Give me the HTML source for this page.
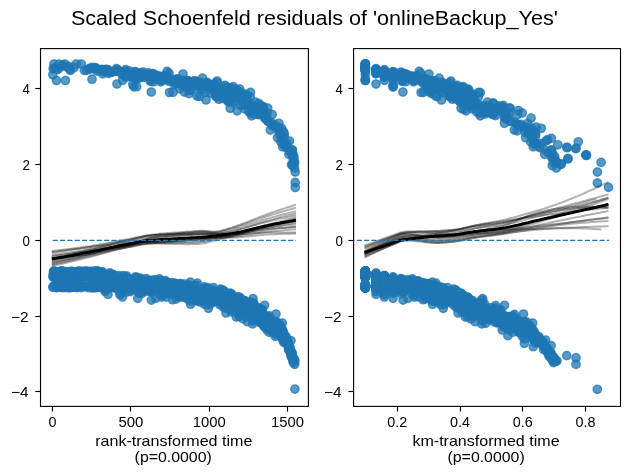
<!DOCTYPE html>
<html><head><meta charset="utf-8"><style>
html,body{margin:0;padding:0;background:#fff;overflow:hidden;}
svg{display:block;font-family:"Liberation Sans",sans-serif;will-change:transform;}
</style></head><body>
<svg width="630" height="475" viewBox="0 0 630 475">
<rect width="630" height="475" fill="#fff"/>
<defs><clipPath id="cl"><rect x="40.50" y="48.60" width="267.90" height="357.80"/></clipPath><clipPath id="cr"><rect x="353.60" y="48.60" width="266.90" height="357.80"/></clipPath></defs>
<g clip-path="url(#cl)">
<g fill="#1f77b4" fill-opacity="0.75" stroke="#1f77b4" stroke-opacity="0.75" stroke-width="1.39"><circle cx="52.8" cy="287.2" r="4.17"/><circle cx="52.9" cy="276.7" r="4.17"/><circle cx="53.1" cy="68.8" r="4.17"/><circle cx="53.2" cy="274.6" r="4.17"/><circle cx="53.4" cy="286.7" r="4.17"/><circle cx="53.5" cy="272.0" r="4.17"/><circle cx="53.7" cy="271.2" r="4.17"/><circle cx="53.9" cy="277.0" r="4.17"/><circle cx="54.0" cy="274.2" r="4.17"/><circle cx="54.2" cy="272.3" r="4.17"/><circle cx="54.3" cy="273.4" r="4.17"/><circle cx="54.5" cy="67.9" r="4.17"/><circle cx="54.6" cy="276.5" r="4.17"/><circle cx="54.8" cy="284.8" r="4.17"/><circle cx="54.9" cy="276.7" r="4.17"/><circle cx="55.1" cy="271.4" r="4.17"/><circle cx="55.3" cy="272.0" r="4.17"/><circle cx="55.4" cy="277.4" r="4.17"/><circle cx="55.6" cy="275.1" r="4.17"/><circle cx="55.7" cy="273.9" r="4.17"/><circle cx="55.9" cy="271.6" r="4.17"/><circle cx="56.0" cy="275.4" r="4.17"/><circle cx="56.2" cy="286.8" r="4.17"/><circle cx="56.4" cy="287.8" r="4.17"/><circle cx="56.5" cy="271.9" r="4.17"/><circle cx="56.7" cy="286.4" r="4.17"/><circle cx="56.8" cy="286.7" r="4.17"/><circle cx="57.0" cy="273.7" r="4.17"/><circle cx="57.1" cy="276.7" r="4.17"/><circle cx="57.3" cy="273.1" r="4.17"/><circle cx="57.5" cy="273.4" r="4.17"/><circle cx="57.6" cy="69.3" r="4.17"/><circle cx="57.8" cy="275.4" r="4.17"/><circle cx="57.9" cy="276.0" r="4.17"/><circle cx="58.1" cy="277.1" r="4.17"/><circle cx="58.2" cy="68.9" r="4.17"/><circle cx="58.4" cy="286.3" r="4.17"/><circle cx="58.6" cy="272.3" r="4.17"/><circle cx="58.7" cy="273.2" r="4.17"/><circle cx="58.9" cy="273.2" r="4.17"/><circle cx="59.0" cy="286.1" r="4.17"/><circle cx="59.2" cy="274.4" r="4.17"/><circle cx="59.3" cy="286.5" r="4.17"/><circle cx="59.5" cy="285.9" r="4.17"/><circle cx="59.6" cy="273.8" r="4.17"/><circle cx="59.8" cy="285.4" r="4.17"/><circle cx="60.0" cy="275.7" r="4.17"/><circle cx="60.1" cy="285.7" r="4.17"/><circle cx="60.3" cy="271.3" r="4.17"/><circle cx="60.4" cy="287.4" r="4.17"/><circle cx="60.6" cy="274.1" r="4.17"/><circle cx="60.7" cy="273.0" r="4.17"/><circle cx="60.9" cy="275.1" r="4.17"/><circle cx="61.1" cy="271.4" r="4.17"/><circle cx="61.2" cy="287.4" r="4.17"/><circle cx="61.4" cy="276.9" r="4.17"/><circle cx="61.5" cy="286.3" r="4.17"/><circle cx="61.7" cy="271.2" r="4.17"/><circle cx="61.8" cy="66.1" r="4.17"/><circle cx="62.0" cy="274.8" r="4.17"/><circle cx="62.2" cy="271.1" r="4.17"/><circle cx="62.3" cy="286.4" r="4.17"/><circle cx="62.5" cy="275.0" r="4.17"/><circle cx="62.6" cy="271.3" r="4.17"/><circle cx="62.8" cy="287.5" r="4.17"/><circle cx="62.9" cy="65.2" r="4.17"/><circle cx="63.1" cy="285.6" r="4.17"/><circle cx="63.2" cy="285.0" r="4.17"/><circle cx="63.4" cy="285.2" r="4.17"/><circle cx="63.6" cy="275.0" r="4.17"/><circle cx="63.7" cy="275.1" r="4.17"/><circle cx="63.9" cy="285.6" r="4.17"/><circle cx="64.0" cy="287.6" r="4.17"/><circle cx="64.2" cy="275.2" r="4.17"/><circle cx="64.3" cy="277.1" r="4.17"/><circle cx="64.5" cy="274.0" r="4.17"/><circle cx="64.7" cy="273.5" r="4.17"/><circle cx="64.8" cy="276.4" r="4.17"/><circle cx="65.0" cy="274.5" r="4.17"/><circle cx="65.1" cy="273.1" r="4.17"/><circle cx="65.3" cy="275.9" r="4.17"/><circle cx="65.4" cy="271.5" r="4.17"/><circle cx="65.6" cy="271.9" r="4.17"/><circle cx="65.8" cy="276.9" r="4.17"/><circle cx="65.9" cy="276.4" r="4.17"/><circle cx="66.1" cy="273.8" r="4.17"/><circle cx="66.2" cy="275.6" r="4.17"/><circle cx="66.4" cy="287.2" r="4.17"/><circle cx="66.5" cy="273.4" r="4.17"/><circle cx="66.7" cy="66.8" r="4.17"/><circle cx="66.9" cy="272.2" r="4.17"/><circle cx="67.0" cy="275.7" r="4.17"/><circle cx="67.2" cy="287.5" r="4.17"/><circle cx="67.3" cy="275.2" r="4.17"/><circle cx="67.5" cy="287.2" r="4.17"/><circle cx="67.6" cy="273.5" r="4.17"/><circle cx="67.8" cy="276.5" r="4.17"/><circle cx="67.9" cy="274.6" r="4.17"/><circle cx="68.1" cy="276.4" r="4.17"/><circle cx="68.3" cy="271.9" r="4.17"/><circle cx="68.4" cy="285.0" r="4.17"/><circle cx="68.6" cy="287.7" r="4.17"/><circle cx="68.7" cy="277.4" r="4.17"/><circle cx="68.9" cy="274.7" r="4.17"/><circle cx="69.0" cy="285.2" r="4.17"/><circle cx="69.2" cy="276.0" r="4.17"/><circle cx="69.4" cy="66.7" r="4.17"/><circle cx="69.5" cy="274.0" r="4.17"/><circle cx="69.7" cy="69.5" r="4.17"/><circle cx="69.8" cy="274.3" r="4.17"/><circle cx="70.0" cy="276.6" r="4.17"/><circle cx="70.1" cy="275.4" r="4.17"/><circle cx="70.3" cy="272.8" r="4.17"/><circle cx="70.5" cy="274.5" r="4.17"/><circle cx="70.6" cy="287.6" r="4.17"/><circle cx="70.8" cy="271.7" r="4.17"/><circle cx="70.9" cy="285.3" r="4.17"/><circle cx="71.1" cy="274.3" r="4.17"/><circle cx="71.2" cy="284.6" r="4.17"/><circle cx="71.4" cy="271.4" r="4.17"/><circle cx="71.5" cy="276.7" r="4.17"/><circle cx="71.7" cy="287.2" r="4.17"/><circle cx="71.9" cy="286.9" r="4.17"/><circle cx="72.0" cy="272.1" r="4.17"/><circle cx="72.2" cy="277.0" r="4.17"/><circle cx="72.3" cy="277.1" r="4.17"/><circle cx="72.5" cy="271.6" r="4.17"/><circle cx="72.6" cy="276.2" r="4.17"/><circle cx="72.8" cy="287.0" r="4.17"/><circle cx="73.0" cy="286.0" r="4.17"/><circle cx="73.1" cy="276.4" r="4.17"/><circle cx="73.3" cy="272.4" r="4.17"/><circle cx="73.4" cy="284.7" r="4.17"/><circle cx="73.6" cy="277.2" r="4.17"/><circle cx="73.7" cy="275.7" r="4.17"/><circle cx="73.9" cy="284.8" r="4.17"/><circle cx="74.1" cy="277.1" r="4.17"/><circle cx="74.2" cy="67.6" r="4.17"/><circle cx="74.4" cy="285.2" r="4.17"/><circle cx="74.5" cy="287.0" r="4.17"/><circle cx="74.7" cy="286.1" r="4.17"/><circle cx="74.8" cy="286.9" r="4.17"/><circle cx="75.0" cy="274.6" r="4.17"/><circle cx="75.2" cy="285.8" r="4.17"/><circle cx="75.3" cy="286.3" r="4.17"/><circle cx="75.5" cy="285.8" r="4.17"/><circle cx="75.6" cy="286.1" r="4.17"/><circle cx="75.8" cy="273.5" r="4.17"/><circle cx="75.9" cy="274.6" r="4.17"/><circle cx="76.1" cy="274.8" r="4.17"/><circle cx="76.2" cy="272.9" r="4.17"/><circle cx="76.4" cy="277.5" r="4.17"/><circle cx="76.6" cy="273.4" r="4.17"/><circle cx="76.7" cy="287.6" r="4.17"/><circle cx="76.9" cy="276.7" r="4.17"/><circle cx="77.0" cy="271.5" r="4.17"/><circle cx="77.2" cy="274.2" r="4.17"/><circle cx="77.3" cy="276.4" r="4.17"/><circle cx="77.5" cy="276.0" r="4.17"/><circle cx="77.7" cy="274.5" r="4.17"/><circle cx="77.8" cy="275.6" r="4.17"/><circle cx="78.0" cy="275.8" r="4.17"/><circle cx="78.1" cy="271.4" r="4.17"/><circle cx="78.3" cy="275.2" r="4.17"/><circle cx="78.4" cy="272.7" r="4.17"/><circle cx="78.6" cy="275.1" r="4.17"/><circle cx="78.8" cy="285.5" r="4.17"/><circle cx="78.9" cy="271.4" r="4.17"/><circle cx="79.1" cy="287.0" r="4.17"/><circle cx="79.2" cy="273.1" r="4.17"/><circle cx="79.4" cy="277.0" r="4.17"/><circle cx="79.5" cy="276.0" r="4.17"/><circle cx="79.7" cy="272.7" r="4.17"/><circle cx="79.8" cy="271.9" r="4.17"/><circle cx="80.0" cy="271.9" r="4.17"/><circle cx="80.2" cy="272.8" r="4.17"/><circle cx="80.3" cy="272.2" r="4.17"/><circle cx="80.5" cy="271.1" r="4.17"/><circle cx="80.6" cy="272.8" r="4.17"/><circle cx="80.8" cy="275.0" r="4.17"/><circle cx="80.9" cy="276.3" r="4.17"/><circle cx="81.1" cy="287.6" r="4.17"/><circle cx="81.3" cy="275.3" r="4.17"/><circle cx="81.4" cy="285.2" r="4.17"/><circle cx="81.6" cy="284.9" r="4.17"/><circle cx="81.7" cy="276.4" r="4.17"/><circle cx="81.9" cy="286.6" r="4.17"/><circle cx="82.0" cy="274.7" r="4.17"/><circle cx="82.2" cy="273.2" r="4.17"/><circle cx="82.4" cy="275.7" r="4.17"/><circle cx="82.5" cy="276.5" r="4.17"/><circle cx="82.7" cy="271.5" r="4.17"/><circle cx="82.8" cy="273.0" r="4.17"/><circle cx="83.0" cy="285.5" r="4.17"/><circle cx="83.1" cy="276.5" r="4.17"/><circle cx="83.3" cy="276.1" r="4.17"/><circle cx="83.5" cy="276.2" r="4.17"/><circle cx="83.6" cy="272.7" r="4.17"/><circle cx="83.8" cy="275.6" r="4.17"/><circle cx="83.9" cy="284.9" r="4.17"/><circle cx="84.1" cy="274.6" r="4.17"/><circle cx="84.2" cy="272.8" r="4.17"/><circle cx="84.4" cy="273.0" r="4.17"/><circle cx="84.5" cy="276.6" r="4.17"/><circle cx="84.7" cy="286.7" r="4.17"/><circle cx="84.9" cy="275.7" r="4.17"/><circle cx="85.0" cy="271.2" r="4.17"/><circle cx="85.2" cy="272.3" r="4.17"/><circle cx="85.3" cy="274.1" r="4.17"/><circle cx="85.5" cy="272.9" r="4.17"/><circle cx="85.6" cy="272.4" r="4.17"/><circle cx="85.8" cy="271.4" r="4.17"/><circle cx="86.0" cy="275.8" r="4.17"/><circle cx="86.1" cy="274.7" r="4.17"/><circle cx="86.3" cy="271.8" r="4.17"/><circle cx="86.4" cy="276.2" r="4.17"/><circle cx="86.6" cy="70.4" r="4.17"/><circle cx="86.7" cy="272.7" r="4.17"/><circle cx="86.9" cy="273.9" r="4.17"/><circle cx="87.1" cy="271.3" r="4.17"/><circle cx="87.2" cy="271.5" r="4.17"/><circle cx="87.4" cy="286.5" r="4.17"/><circle cx="87.5" cy="274.7" r="4.17"/><circle cx="87.7" cy="276.2" r="4.17"/><circle cx="87.8" cy="274.8" r="4.17"/><circle cx="88.0" cy="275.0" r="4.17"/><circle cx="88.1" cy="274.5" r="4.17"/><circle cx="88.3" cy="272.8" r="4.17"/><circle cx="88.5" cy="275.5" r="4.17"/><circle cx="88.6" cy="276.3" r="4.17"/><circle cx="88.8" cy="272.6" r="4.17"/><circle cx="88.9" cy="287.7" r="4.17"/><circle cx="89.1" cy="68.7" r="4.17"/><circle cx="89.2" cy="272.1" r="4.17"/><circle cx="89.4" cy="275.8" r="4.17"/><circle cx="89.6" cy="273.3" r="4.17"/><circle cx="89.7" cy="284.9" r="4.17"/><circle cx="89.9" cy="276.1" r="4.17"/><circle cx="90.0" cy="68.7" r="4.17"/><circle cx="90.2" cy="272.1" r="4.17"/><circle cx="90.3" cy="271.3" r="4.17"/><circle cx="90.5" cy="274.0" r="4.17"/><circle cx="90.7" cy="272.8" r="4.17"/><circle cx="90.8" cy="68.9" r="4.17"/><circle cx="91.0" cy="285.6" r="4.17"/><circle cx="91.1" cy="271.9" r="4.17"/><circle cx="91.3" cy="277.1" r="4.17"/><circle cx="91.4" cy="274.1" r="4.17"/><circle cx="91.6" cy="286.9" r="4.17"/><circle cx="91.8" cy="284.9" r="4.17"/><circle cx="91.9" cy="277.1" r="4.17"/><circle cx="92.1" cy="67.3" r="4.17"/><circle cx="92.2" cy="277.5" r="4.17"/><circle cx="92.4" cy="285.9" r="4.17"/><circle cx="92.5" cy="288.0" r="4.17"/><circle cx="92.7" cy="277.1" r="4.17"/><circle cx="92.8" cy="277.1" r="4.17"/><circle cx="93.0" cy="275.9" r="4.17"/><circle cx="93.2" cy="273.5" r="4.17"/><circle cx="93.3" cy="271.4" r="4.17"/><circle cx="93.5" cy="275.4" r="4.17"/><circle cx="93.6" cy="272.5" r="4.17"/><circle cx="93.8" cy="275.9" r="4.17"/><circle cx="93.9" cy="275.1" r="4.17"/><circle cx="94.1" cy="275.5" r="4.17"/><circle cx="94.3" cy="275.1" r="4.17"/><circle cx="94.4" cy="67.9" r="4.17"/><circle cx="94.6" cy="274.8" r="4.17"/><circle cx="94.7" cy="271.5" r="4.17"/><circle cx="94.9" cy="272.6" r="4.17"/><circle cx="95.0" cy="285.5" r="4.17"/><circle cx="95.2" cy="287.8" r="4.17"/><circle cx="95.4" cy="68.4" r="4.17"/><circle cx="95.5" cy="67.7" r="4.17"/><circle cx="95.7" cy="271.2" r="4.17"/><circle cx="95.8" cy="272.3" r="4.17"/><circle cx="96.0" cy="272.6" r="4.17"/><circle cx="96.1" cy="286.7" r="4.17"/><circle cx="96.3" cy="271.2" r="4.17"/><circle cx="96.4" cy="271.8" r="4.17"/><circle cx="96.6" cy="272.0" r="4.17"/><circle cx="96.8" cy="273.2" r="4.17"/><circle cx="96.9" cy="71.1" r="4.17"/><circle cx="97.1" cy="287.4" r="4.17"/><circle cx="97.2" cy="271.1" r="4.17"/><circle cx="97.4" cy="271.8" r="4.17"/><circle cx="97.5" cy="287.3" r="4.17"/><circle cx="97.7" cy="271.2" r="4.17"/><circle cx="97.9" cy="285.4" r="4.17"/><circle cx="98.0" cy="273.0" r="4.17"/><circle cx="98.2" cy="273.9" r="4.17"/><circle cx="98.3" cy="274.3" r="4.17"/><circle cx="98.5" cy="285.6" r="4.17"/><circle cx="98.6" cy="286.3" r="4.17"/><circle cx="98.8" cy="277.4" r="4.17"/><circle cx="99.0" cy="274.3" r="4.17"/><circle cx="99.1" cy="277.2" r="4.17"/><circle cx="99.3" cy="272.0" r="4.17"/><circle cx="99.4" cy="286.7" r="4.17"/><circle cx="99.6" cy="272.4" r="4.17"/><circle cx="99.7" cy="275.5" r="4.17"/><circle cx="99.9" cy="277.3" r="4.17"/><circle cx="100.0" cy="273.8" r="4.17"/><circle cx="100.2" cy="272.6" r="4.17"/><circle cx="100.4" cy="70.1" r="4.17"/><circle cx="100.5" cy="272.1" r="4.17"/><circle cx="100.7" cy="286.2" r="4.17"/><circle cx="100.8" cy="285.5" r="4.17"/><circle cx="101.0" cy="275.7" r="4.17"/><circle cx="101.1" cy="277.0" r="4.17"/><circle cx="101.3" cy="69.4" r="4.17"/><circle cx="101.5" cy="272.7" r="4.17"/><circle cx="101.6" cy="275.4" r="4.17"/><circle cx="101.8" cy="287.6" r="4.17"/><circle cx="101.9" cy="277.3" r="4.17"/><circle cx="102.1" cy="287.6" r="4.17"/><circle cx="102.2" cy="272.3" r="4.17"/><circle cx="102.4" cy="271.8" r="4.17"/><circle cx="102.6" cy="287.7" r="4.17"/><circle cx="102.7" cy="73.9" r="4.17"/><circle cx="102.9" cy="69.8" r="4.17"/><circle cx="103.0" cy="277.5" r="4.17"/><circle cx="103.2" cy="287.5" r="4.17"/><circle cx="103.3" cy="281.1" r="4.17"/><circle cx="103.5" cy="71.9" r="4.17"/><circle cx="103.7" cy="275.2" r="4.17"/><circle cx="103.8" cy="275.7" r="4.17"/><circle cx="104.0" cy="287.3" r="4.17"/><circle cx="104.1" cy="282.5" r="4.17"/><circle cx="104.3" cy="289.4" r="4.17"/><circle cx="104.4" cy="286.0" r="4.17"/><circle cx="104.6" cy="69.5" r="4.17"/><circle cx="104.7" cy="284.7" r="4.17"/><circle cx="104.9" cy="286.0" r="4.17"/><circle cx="105.1" cy="291.5" r="4.17"/><circle cx="105.2" cy="71.2" r="4.17"/><circle cx="105.4" cy="282.7" r="4.17"/><circle cx="105.5" cy="70.1" r="4.17"/><circle cx="105.7" cy="285.6" r="4.17"/><circle cx="105.8" cy="278.4" r="4.17"/><circle cx="106.0" cy="275.7" r="4.17"/><circle cx="106.2" cy="278.2" r="4.17"/><circle cx="106.3" cy="69.3" r="4.17"/><circle cx="106.5" cy="276.7" r="4.17"/><circle cx="106.6" cy="285.9" r="4.17"/><circle cx="106.8" cy="281.1" r="4.17"/><circle cx="106.9" cy="280.8" r="4.17"/><circle cx="107.1" cy="288.9" r="4.17"/><circle cx="107.3" cy="279.8" r="4.17"/><circle cx="107.4" cy="275.9" r="4.17"/><circle cx="107.6" cy="284.1" r="4.17"/><circle cx="107.7" cy="69.5" r="4.17"/><circle cx="107.9" cy="70.3" r="4.17"/><circle cx="108.0" cy="278.8" r="4.17"/><circle cx="108.2" cy="282.7" r="4.17"/><circle cx="108.3" cy="277.2" r="4.17"/><circle cx="108.5" cy="73.4" r="4.17"/><circle cx="108.7" cy="274.0" r="4.17"/><circle cx="108.8" cy="278.5" r="4.17"/><circle cx="109.0" cy="281.4" r="4.17"/><circle cx="109.1" cy="282.2" r="4.17"/><circle cx="109.3" cy="283.0" r="4.17"/><circle cx="109.4" cy="288.0" r="4.17"/><circle cx="109.6" cy="277.2" r="4.17"/><circle cx="109.8" cy="277.4" r="4.17"/><circle cx="109.9" cy="272.9" r="4.17"/><circle cx="110.1" cy="72.5" r="4.17"/><circle cx="110.2" cy="275.2" r="4.17"/><circle cx="110.4" cy="286.2" r="4.17"/><circle cx="110.5" cy="72.0" r="4.17"/><circle cx="110.7" cy="285.3" r="4.17"/><circle cx="110.9" cy="281.8" r="4.17"/><circle cx="111.0" cy="281.0" r="4.17"/><circle cx="111.2" cy="279.8" r="4.17"/><circle cx="111.3" cy="277.3" r="4.17"/><circle cx="111.5" cy="279.8" r="4.17"/><circle cx="111.6" cy="286.5" r="4.17"/><circle cx="111.8" cy="284.4" r="4.17"/><circle cx="112.0" cy="72.2" r="4.17"/><circle cx="112.1" cy="279.5" r="4.17"/><circle cx="112.3" cy="281.4" r="4.17"/><circle cx="112.4" cy="281.8" r="4.17"/><circle cx="112.6" cy="282.2" r="4.17"/><circle cx="112.7" cy="274.4" r="4.17"/><circle cx="112.9" cy="275.3" r="4.17"/><circle cx="113.0" cy="275.8" r="4.17"/><circle cx="113.2" cy="274.8" r="4.17"/><circle cx="113.4" cy="285.8" r="4.17"/><circle cx="113.5" cy="287.1" r="4.17"/><circle cx="113.7" cy="287.0" r="4.17"/><circle cx="113.8" cy="277.2" r="4.17"/><circle cx="114.0" cy="285.3" r="4.17"/><circle cx="114.1" cy="284.5" r="4.17"/><circle cx="114.3" cy="280.5" r="4.17"/><circle cx="114.5" cy="281.5" r="4.17"/><circle cx="114.6" cy="281.1" r="4.17"/><circle cx="114.8" cy="276.3" r="4.17"/><circle cx="114.9" cy="276.6" r="4.17"/><circle cx="115.1" cy="287.6" r="4.17"/><circle cx="115.2" cy="288.2" r="4.17"/><circle cx="115.4" cy="279.1" r="4.17"/><circle cx="115.6" cy="279.1" r="4.17"/><circle cx="115.7" cy="277.8" r="4.17"/><circle cx="115.9" cy="282.6" r="4.17"/><circle cx="116.0" cy="71.4" r="4.17"/><circle cx="116.2" cy="281.8" r="4.17"/><circle cx="116.3" cy="69.9" r="4.17"/><circle cx="116.5" cy="68.7" r="4.17"/><circle cx="116.6" cy="280.1" r="4.17"/><circle cx="116.8" cy="282.0" r="4.17"/><circle cx="117.0" cy="278.2" r="4.17"/><circle cx="117.1" cy="282.3" r="4.17"/><circle cx="117.3" cy="279.8" r="4.17"/><circle cx="117.4" cy="277.1" r="4.17"/><circle cx="117.6" cy="280.2" r="4.17"/><circle cx="117.7" cy="279.8" r="4.17"/><circle cx="117.9" cy="287.3" r="4.17"/><circle cx="118.1" cy="280.3" r="4.17"/><circle cx="118.2" cy="70.1" r="4.17"/><circle cx="118.4" cy="275.6" r="4.17"/><circle cx="118.5" cy="277.5" r="4.17"/><circle cx="118.7" cy="287.1" r="4.17"/><circle cx="118.8" cy="71.3" r="4.17"/><circle cx="119.0" cy="284.5" r="4.17"/><circle cx="119.2" cy="285.8" r="4.17"/><circle cx="119.3" cy="286.4" r="4.17"/><circle cx="119.5" cy="280.4" r="4.17"/><circle cx="119.6" cy="282.8" r="4.17"/><circle cx="119.8" cy="293.3" r="4.17"/><circle cx="119.9" cy="279.5" r="4.17"/><circle cx="120.1" cy="294.8" r="4.17"/><circle cx="120.3" cy="285.4" r="4.17"/><circle cx="120.4" cy="280.4" r="4.17"/><circle cx="120.6" cy="281.5" r="4.17"/><circle cx="120.7" cy="280.4" r="4.17"/><circle cx="120.9" cy="286.9" r="4.17"/><circle cx="121.0" cy="280.5" r="4.17"/><circle cx="121.2" cy="288.6" r="4.17"/><circle cx="121.3" cy="72.1" r="4.17"/><circle cx="121.5" cy="72.6" r="4.17"/><circle cx="121.7" cy="74.0" r="4.17"/><circle cx="121.8" cy="285.5" r="4.17"/><circle cx="122.0" cy="289.2" r="4.17"/><circle cx="122.1" cy="282.7" r="4.17"/><circle cx="122.3" cy="280.3" r="4.17"/><circle cx="122.4" cy="281.7" r="4.17"/><circle cx="122.6" cy="80.3" r="4.17"/><circle cx="122.8" cy="275.6" r="4.17"/><circle cx="122.9" cy="281.2" r="4.17"/><circle cx="123.1" cy="279.1" r="4.17"/><circle cx="123.2" cy="287.5" r="4.17"/><circle cx="123.4" cy="285.9" r="4.17"/><circle cx="123.5" cy="74.7" r="4.17"/><circle cx="123.7" cy="74.9" r="4.17"/><circle cx="123.9" cy="283.8" r="4.17"/><circle cx="124.0" cy="288.8" r="4.17"/><circle cx="124.2" cy="278.9" r="4.17"/><circle cx="124.3" cy="278.1" r="4.17"/><circle cx="124.5" cy="280.6" r="4.17"/><circle cx="124.6" cy="282.3" r="4.17"/><circle cx="124.8" cy="278.1" r="4.17"/><circle cx="124.9" cy="289.2" r="4.17"/><circle cx="125.1" cy="288.5" r="4.17"/><circle cx="125.3" cy="71.1" r="4.17"/><circle cx="125.4" cy="77.0" r="4.17"/><circle cx="125.6" cy="69.6" r="4.17"/><circle cx="125.7" cy="283.1" r="4.17"/><circle cx="125.9" cy="288.3" r="4.17"/><circle cx="126.0" cy="278.1" r="4.17"/><circle cx="126.2" cy="275.8" r="4.17"/><circle cx="126.4" cy="282.0" r="4.17"/><circle cx="126.5" cy="292.1" r="4.17"/><circle cx="126.7" cy="276.9" r="4.17"/><circle cx="126.8" cy="278.8" r="4.17"/><circle cx="127.0" cy="281.2" r="4.17"/><circle cx="127.1" cy="287.6" r="4.17"/><circle cx="127.3" cy="285.3" r="4.17"/><circle cx="127.5" cy="278.5" r="4.17"/><circle cx="127.6" cy="76.7" r="4.17"/><circle cx="127.8" cy="283.7" r="4.17"/><circle cx="127.9" cy="286.5" r="4.17"/><circle cx="128.1" cy="284.4" r="4.17"/><circle cx="128.2" cy="287.2" r="4.17"/><circle cx="128.4" cy="75.5" r="4.17"/><circle cx="128.6" cy="287.6" r="4.17"/><circle cx="128.7" cy="287.1" r="4.17"/><circle cx="128.9" cy="280.4" r="4.17"/><circle cx="129.0" cy="70.8" r="4.17"/><circle cx="129.2" cy="279.7" r="4.17"/><circle cx="129.3" cy="284.3" r="4.17"/><circle cx="129.5" cy="281.1" r="4.17"/><circle cx="129.6" cy="286.8" r="4.17"/><circle cx="129.8" cy="289.1" r="4.17"/><circle cx="130.0" cy="284.0" r="4.17"/><circle cx="130.1" cy="285.5" r="4.17"/><circle cx="130.3" cy="282.5" r="4.17"/><circle cx="130.4" cy="291.6" r="4.17"/><circle cx="130.6" cy="287.7" r="4.17"/><circle cx="130.7" cy="285.3" r="4.17"/><circle cx="130.9" cy="286.6" r="4.17"/><circle cx="131.1" cy="285.4" r="4.17"/><circle cx="131.2" cy="74.8" r="4.17"/><circle cx="131.4" cy="287.5" r="4.17"/><circle cx="131.5" cy="281.2" r="4.17"/><circle cx="131.7" cy="279.2" r="4.17"/><circle cx="131.8" cy="74.0" r="4.17"/><circle cx="132.0" cy="284.5" r="4.17"/><circle cx="132.2" cy="290.0" r="4.17"/><circle cx="132.3" cy="284.8" r="4.17"/><circle cx="132.5" cy="77.2" r="4.17"/><circle cx="132.6" cy="288.2" r="4.17"/><circle cx="132.8" cy="84.5" r="4.17"/><circle cx="132.9" cy="286.6" r="4.17"/><circle cx="133.1" cy="287.3" r="4.17"/><circle cx="133.2" cy="288.9" r="4.17"/><circle cx="133.4" cy="283.9" r="4.17"/><circle cx="133.6" cy="281.3" r="4.17"/><circle cx="133.7" cy="76.6" r="4.17"/><circle cx="133.9" cy="86.8" r="4.17"/><circle cx="134.0" cy="279.2" r="4.17"/><circle cx="134.2" cy="288.1" r="4.17"/><circle cx="134.3" cy="279.6" r="4.17"/><circle cx="134.5" cy="75.0" r="4.17"/><circle cx="134.7" cy="76.6" r="4.17"/><circle cx="134.8" cy="72.0" r="4.17"/><circle cx="135.0" cy="277.6" r="4.17"/><circle cx="135.1" cy="71.5" r="4.17"/><circle cx="135.3" cy="77.6" r="4.17"/><circle cx="135.4" cy="289.1" r="4.17"/><circle cx="135.6" cy="284.2" r="4.17"/><circle cx="135.8" cy="276.9" r="4.17"/><circle cx="135.9" cy="286.9" r="4.17"/><circle cx="136.1" cy="286.1" r="4.17"/><circle cx="136.2" cy="285.7" r="4.17"/><circle cx="136.4" cy="287.5" r="4.17"/><circle cx="136.5" cy="285.8" r="4.17"/><circle cx="136.7" cy="86.7" r="4.17"/><circle cx="136.9" cy="78.6" r="4.17"/><circle cx="137.0" cy="285.3" r="4.17"/><circle cx="137.2" cy="286.3" r="4.17"/><circle cx="137.3" cy="287.1" r="4.17"/><circle cx="137.5" cy="283.7" r="4.17"/><circle cx="137.6" cy="284.1" r="4.17"/><circle cx="137.8" cy="74.2" r="4.17"/><circle cx="137.9" cy="78.8" r="4.17"/><circle cx="138.1" cy="278.2" r="4.17"/><circle cx="138.3" cy="73.8" r="4.17"/><circle cx="138.4" cy="288.6" r="4.17"/><circle cx="138.6" cy="280.2" r="4.17"/><circle cx="138.7" cy="283.7" r="4.17"/><circle cx="138.9" cy="281.4" r="4.17"/><circle cx="139.0" cy="293.4" r="4.17"/><circle cx="139.2" cy="292.6" r="4.17"/><circle cx="139.4" cy="286.4" r="4.17"/><circle cx="139.5" cy="284.1" r="4.17"/><circle cx="139.7" cy="286.5" r="4.17"/><circle cx="139.8" cy="281.1" r="4.17"/><circle cx="140.0" cy="76.4" r="4.17"/><circle cx="140.1" cy="278.2" r="4.17"/><circle cx="140.3" cy="285.1" r="4.17"/><circle cx="140.5" cy="72.7" r="4.17"/><circle cx="140.6" cy="279.8" r="4.17"/><circle cx="140.8" cy="288.7" r="4.17"/><circle cx="140.9" cy="285.3" r="4.17"/><circle cx="141.1" cy="76.1" r="4.17"/><circle cx="141.2" cy="279.0" r="4.17"/><circle cx="141.4" cy="279.4" r="4.17"/><circle cx="141.5" cy="282.0" r="4.17"/><circle cx="141.7" cy="293.6" r="4.17"/><circle cx="141.9" cy="75.3" r="4.17"/><circle cx="142.0" cy="286.9" r="4.17"/><circle cx="142.2" cy="279.8" r="4.17"/><circle cx="142.3" cy="75.2" r="4.17"/><circle cx="142.5" cy="77.4" r="4.17"/><circle cx="142.6" cy="288.5" r="4.17"/><circle cx="142.8" cy="282.7" r="4.17"/><circle cx="143.0" cy="291.2" r="4.17"/><circle cx="143.1" cy="289.0" r="4.17"/><circle cx="143.3" cy="72.1" r="4.17"/><circle cx="143.4" cy="290.4" r="4.17"/><circle cx="143.6" cy="284.8" r="4.17"/><circle cx="143.7" cy="77.1" r="4.17"/><circle cx="143.9" cy="287.4" r="4.17"/><circle cx="144.1" cy="283.8" r="4.17"/><circle cx="144.2" cy="287.7" r="4.17"/><circle cx="144.4" cy="280.9" r="4.17"/><circle cx="144.5" cy="280.5" r="4.17"/><circle cx="144.7" cy="283.8" r="4.17"/><circle cx="144.8" cy="281.6" r="4.17"/><circle cx="145.0" cy="280.6" r="4.17"/><circle cx="145.2" cy="281.4" r="4.17"/><circle cx="145.3" cy="288.0" r="4.17"/><circle cx="145.5" cy="74.5" r="4.17"/><circle cx="145.6" cy="288.7" r="4.17"/><circle cx="145.8" cy="284.1" r="4.17"/><circle cx="145.9" cy="281.8" r="4.17"/><circle cx="146.1" cy="284.3" r="4.17"/><circle cx="146.2" cy="74.6" r="4.17"/><circle cx="146.4" cy="278.6" r="4.17"/><circle cx="146.6" cy="280.7" r="4.17"/><circle cx="146.7" cy="284.0" r="4.17"/><circle cx="146.9" cy="284.7" r="4.17"/><circle cx="147.0" cy="283.7" r="4.17"/><circle cx="147.2" cy="291.4" r="4.17"/><circle cx="147.3" cy="284.2" r="4.17"/><circle cx="147.5" cy="283.2" r="4.17"/><circle cx="147.7" cy="289.7" r="4.17"/><circle cx="147.8" cy="282.7" r="4.17"/><circle cx="148.0" cy="283.6" r="4.17"/><circle cx="148.1" cy="283.3" r="4.17"/><circle cx="148.3" cy="286.6" r="4.17"/><circle cx="148.4" cy="72.8" r="4.17"/><circle cx="148.6" cy="289.4" r="4.17"/><circle cx="148.8" cy="283.8" r="4.17"/><circle cx="148.9" cy="282.4" r="4.17"/><circle cx="149.1" cy="280.8" r="4.17"/><circle cx="149.2" cy="280.7" r="4.17"/><circle cx="149.4" cy="285.6" r="4.17"/><circle cx="149.5" cy="288.7" r="4.17"/><circle cx="149.7" cy="289.7" r="4.17"/><circle cx="149.8" cy="286.8" r="4.17"/><circle cx="150.0" cy="281.1" r="4.17"/><circle cx="150.2" cy="81.0" r="4.17"/><circle cx="150.3" cy="284.6" r="4.17"/><circle cx="150.5" cy="78.2" r="4.17"/><circle cx="150.6" cy="290.3" r="4.17"/><circle cx="150.8" cy="74.4" r="4.17"/><circle cx="150.9" cy="289.7" r="4.17"/><circle cx="151.1" cy="81.3" r="4.17"/><circle cx="151.3" cy="286.4" r="4.17"/><circle cx="151.4" cy="300.1" r="4.17"/><circle cx="151.6" cy="287.1" r="4.17"/><circle cx="151.7" cy="285.6" r="4.17"/><circle cx="151.9" cy="291.7" r="4.17"/><circle cx="152.0" cy="292.4" r="4.17"/><circle cx="152.2" cy="283.5" r="4.17"/><circle cx="152.4" cy="280.1" r="4.17"/><circle cx="152.5" cy="73.7" r="4.17"/><circle cx="152.7" cy="280.9" r="4.17"/><circle cx="152.8" cy="290.9" r="4.17"/><circle cx="153.0" cy="282.3" r="4.17"/><circle cx="153.1" cy="284.0" r="4.17"/><circle cx="153.3" cy="73.8" r="4.17"/><circle cx="153.5" cy="78.1" r="4.17"/><circle cx="153.6" cy="81.7" r="4.17"/><circle cx="153.8" cy="288.4" r="4.17"/><circle cx="153.9" cy="76.9" r="4.17"/><circle cx="154.1" cy="285.9" r="4.17"/><circle cx="154.2" cy="287.7" r="4.17"/><circle cx="154.4" cy="283.8" r="4.17"/><circle cx="154.5" cy="288.4" r="4.17"/><circle cx="154.7" cy="281.3" r="4.17"/><circle cx="154.9" cy="280.0" r="4.17"/><circle cx="155.0" cy="78.1" r="4.17"/><circle cx="155.2" cy="287.8" r="4.17"/><circle cx="155.3" cy="75.0" r="4.17"/><circle cx="155.5" cy="77.8" r="4.17"/><circle cx="155.6" cy="284.4" r="4.17"/><circle cx="155.8" cy="290.2" r="4.17"/><circle cx="156.0" cy="287.7" r="4.17"/><circle cx="156.1" cy="280.2" r="4.17"/><circle cx="156.3" cy="75.3" r="4.17"/><circle cx="156.4" cy="283.3" r="4.17"/><circle cx="156.6" cy="75.9" r="4.17"/><circle cx="156.7" cy="280.8" r="4.17"/><circle cx="156.9" cy="288.1" r="4.17"/><circle cx="157.1" cy="285.2" r="4.17"/><circle cx="157.2" cy="287.4" r="4.17"/><circle cx="157.4" cy="281.5" r="4.17"/><circle cx="157.5" cy="289.2" r="4.17"/><circle cx="157.7" cy="285.3" r="4.17"/><circle cx="157.8" cy="285.3" r="4.17"/><circle cx="158.0" cy="285.3" r="4.17"/><circle cx="158.1" cy="282.2" r="4.17"/><circle cx="158.3" cy="77.9" r="4.17"/><circle cx="158.5" cy="286.8" r="4.17"/><circle cx="158.6" cy="78.7" r="4.17"/><circle cx="158.8" cy="282.6" r="4.17"/><circle cx="158.9" cy="286.2" r="4.17"/><circle cx="159.1" cy="280.5" r="4.17"/><circle cx="159.2" cy="281.2" r="4.17"/><circle cx="159.4" cy="76.1" r="4.17"/><circle cx="159.6" cy="278.9" r="4.17"/><circle cx="159.7" cy="286.3" r="4.17"/><circle cx="159.9" cy="289.0" r="4.17"/><circle cx="160.0" cy="280.8" r="4.17"/><circle cx="160.2" cy="282.1" r="4.17"/><circle cx="160.3" cy="295.4" r="4.17"/><circle cx="160.5" cy="290.5" r="4.17"/><circle cx="160.7" cy="81.9" r="4.17"/><circle cx="160.8" cy="280.6" r="4.17"/><circle cx="161.0" cy="289.5" r="4.17"/><circle cx="161.1" cy="288.4" r="4.17"/><circle cx="161.3" cy="80.4" r="4.17"/><circle cx="161.4" cy="282.1" r="4.17"/><circle cx="161.6" cy="297.1" r="4.17"/><circle cx="161.8" cy="80.5" r="4.17"/><circle cx="161.9" cy="77.8" r="4.17"/><circle cx="162.1" cy="285.0" r="4.17"/><circle cx="162.2" cy="79.6" r="4.17"/><circle cx="162.4" cy="292.7" r="4.17"/><circle cx="162.5" cy="76.9" r="4.17"/><circle cx="162.7" cy="290.0" r="4.17"/><circle cx="162.8" cy="293.0" r="4.17"/><circle cx="163.0" cy="284.3" r="4.17"/><circle cx="163.2" cy="288.7" r="4.17"/><circle cx="163.3" cy="287.0" r="4.17"/><circle cx="163.5" cy="283.7" r="4.17"/><circle cx="163.6" cy="285.5" r="4.17"/><circle cx="163.8" cy="282.6" r="4.17"/><circle cx="163.9" cy="294.4" r="4.17"/><circle cx="164.1" cy="286.6" r="4.17"/><circle cx="164.3" cy="76.6" r="4.17"/><circle cx="164.4" cy="292.4" r="4.17"/><circle cx="164.6" cy="283.3" r="4.17"/><circle cx="164.7" cy="283.7" r="4.17"/><circle cx="164.9" cy="280.8" r="4.17"/><circle cx="165.0" cy="75.3" r="4.17"/><circle cx="165.2" cy="79.7" r="4.17"/><circle cx="165.4" cy="288.5" r="4.17"/><circle cx="165.5" cy="292.4" r="4.17"/><circle cx="165.7" cy="291.8" r="4.17"/><circle cx="165.8" cy="286.1" r="4.17"/><circle cx="166.0" cy="288.3" r="4.17"/><circle cx="166.1" cy="281.2" r="4.17"/><circle cx="166.3" cy="297.0" r="4.17"/><circle cx="166.4" cy="292.6" r="4.17"/><circle cx="166.6" cy="290.9" r="4.17"/><circle cx="166.8" cy="286.0" r="4.17"/><circle cx="166.9" cy="293.1" r="4.17"/><circle cx="167.1" cy="78.1" r="4.17"/><circle cx="167.2" cy="289.9" r="4.17"/><circle cx="167.4" cy="282.7" r="4.17"/><circle cx="167.5" cy="283.2" r="4.17"/><circle cx="167.7" cy="76.3" r="4.17"/><circle cx="167.9" cy="288.0" r="4.17"/><circle cx="168.0" cy="292.7" r="4.17"/><circle cx="168.2" cy="284.3" r="4.17"/><circle cx="168.3" cy="285.3" r="4.17"/><circle cx="168.5" cy="289.0" r="4.17"/><circle cx="168.6" cy="288.8" r="4.17"/><circle cx="168.8" cy="287.6" r="4.17"/><circle cx="169.0" cy="73.2" r="4.17"/><circle cx="169.1" cy="81.2" r="4.17"/><circle cx="169.3" cy="293.1" r="4.17"/><circle cx="169.4" cy="79.8" r="4.17"/><circle cx="169.6" cy="286.2" r="4.17"/><circle cx="169.7" cy="78.8" r="4.17"/><circle cx="169.9" cy="284.7" r="4.17"/><circle cx="170.0" cy="290.1" r="4.17"/><circle cx="170.2" cy="288.5" r="4.17"/><circle cx="170.4" cy="287.9" r="4.17"/><circle cx="170.5" cy="291.9" r="4.17"/><circle cx="170.7" cy="292.0" r="4.17"/><circle cx="170.8" cy="288.8" r="4.17"/><circle cx="171.0" cy="285.6" r="4.17"/><circle cx="171.1" cy="287.1" r="4.17"/><circle cx="171.3" cy="287.6" r="4.17"/><circle cx="171.5" cy="282.7" r="4.17"/><circle cx="171.6" cy="287.3" r="4.17"/><circle cx="171.8" cy="79.3" r="4.17"/><circle cx="171.9" cy="285.1" r="4.17"/><circle cx="172.1" cy="290.5" r="4.17"/><circle cx="172.2" cy="291.0" r="4.17"/><circle cx="172.4" cy="287.1" r="4.17"/><circle cx="172.6" cy="299.7" r="4.17"/><circle cx="172.7" cy="81.5" r="4.17"/><circle cx="172.9" cy="285.2" r="4.17"/><circle cx="173.0" cy="92.4" r="4.17"/><circle cx="173.2" cy="290.4" r="4.17"/><circle cx="173.3" cy="293.6" r="4.17"/><circle cx="173.5" cy="287.5" r="4.17"/><circle cx="173.7" cy="285.9" r="4.17"/><circle cx="173.8" cy="288.9" r="4.17"/><circle cx="174.0" cy="84.3" r="4.17"/><circle cx="174.1" cy="293.7" r="4.17"/><circle cx="174.3" cy="289.3" r="4.17"/><circle cx="174.4" cy="283.5" r="4.17"/><circle cx="174.6" cy="283.1" r="4.17"/><circle cx="174.7" cy="284.9" r="4.17"/><circle cx="174.9" cy="285.3" r="4.17"/><circle cx="175.1" cy="291.7" r="4.17"/><circle cx="175.2" cy="289.7" r="4.17"/><circle cx="175.4" cy="288.5" r="4.17"/><circle cx="175.5" cy="287.5" r="4.17"/><circle cx="175.7" cy="287.8" r="4.17"/><circle cx="175.8" cy="83.2" r="4.17"/><circle cx="176.0" cy="299.0" r="4.17"/><circle cx="176.2" cy="294.1" r="4.17"/><circle cx="176.3" cy="283.9" r="4.17"/><circle cx="176.5" cy="286.3" r="4.17"/><circle cx="176.6" cy="80.3" r="4.17"/><circle cx="176.8" cy="296.2" r="4.17"/><circle cx="176.9" cy="78.8" r="4.17"/><circle cx="177.1" cy="284.5" r="4.17"/><circle cx="177.3" cy="81.9" r="4.17"/><circle cx="177.4" cy="295.7" r="4.17"/><circle cx="177.6" cy="79.7" r="4.17"/><circle cx="177.7" cy="83.4" r="4.17"/><circle cx="177.9" cy="290.5" r="4.17"/><circle cx="178.0" cy="79.4" r="4.17"/><circle cx="178.2" cy="79.8" r="4.17"/><circle cx="178.3" cy="81.3" r="4.17"/><circle cx="178.5" cy="287.6" r="4.17"/><circle cx="178.7" cy="288.4" r="4.17"/><circle cx="178.8" cy="80.6" r="4.17"/><circle cx="179.0" cy="294.3" r="4.17"/><circle cx="179.1" cy="293.8" r="4.17"/><circle cx="179.3" cy="291.3" r="4.17"/><circle cx="179.4" cy="288.7" r="4.17"/><circle cx="179.6" cy="293.9" r="4.17"/><circle cx="179.8" cy="88.8" r="4.17"/><circle cx="179.9" cy="284.2" r="4.17"/><circle cx="180.1" cy="283.7" r="4.17"/><circle cx="180.2" cy="287.0" r="4.17"/><circle cx="180.4" cy="288.7" r="4.17"/><circle cx="180.5" cy="290.0" r="4.17"/><circle cx="180.7" cy="297.0" r="4.17"/><circle cx="180.9" cy="80.3" r="4.17"/><circle cx="181.0" cy="284.6" r="4.17"/><circle cx="181.2" cy="288.2" r="4.17"/><circle cx="181.3" cy="294.2" r="4.17"/><circle cx="181.5" cy="285.2" r="4.17"/><circle cx="181.6" cy="288.5" r="4.17"/><circle cx="181.8" cy="85.2" r="4.17"/><circle cx="182.0" cy="291.9" r="4.17"/><circle cx="182.1" cy="83.0" r="4.17"/><circle cx="182.3" cy="296.9" r="4.17"/><circle cx="182.4" cy="82.8" r="4.17"/><circle cx="182.6" cy="291.7" r="4.17"/><circle cx="182.7" cy="288.9" r="4.17"/><circle cx="182.9" cy="295.7" r="4.17"/><circle cx="183.0" cy="288.6" r="4.17"/><circle cx="183.2" cy="290.9" r="4.17"/><circle cx="183.4" cy="287.1" r="4.17"/><circle cx="183.5" cy="295.3" r="4.17"/><circle cx="183.7" cy="283.8" r="4.17"/><circle cx="183.8" cy="293.6" r="4.17"/><circle cx="184.0" cy="80.9" r="4.17"/><circle cx="184.1" cy="81.0" r="4.17"/><circle cx="184.3" cy="289.9" r="4.17"/><circle cx="184.5" cy="92.1" r="4.17"/><circle cx="184.6" cy="285.8" r="4.17"/><circle cx="184.8" cy="296.9" r="4.17"/><circle cx="184.9" cy="290.8" r="4.17"/><circle cx="185.1" cy="84.5" r="4.17"/><circle cx="185.2" cy="83.3" r="4.17"/><circle cx="185.4" cy="83.3" r="4.17"/><circle cx="185.6" cy="286.0" r="4.17"/><circle cx="185.7" cy="294.5" r="4.17"/><circle cx="185.9" cy="297.5" r="4.17"/><circle cx="186.0" cy="81.2" r="4.17"/><circle cx="186.2" cy="82.2" r="4.17"/><circle cx="186.3" cy="82.1" r="4.17"/><circle cx="186.5" cy="288.1" r="4.17"/><circle cx="186.6" cy="286.0" r="4.17"/><circle cx="186.8" cy="292.3" r="4.17"/><circle cx="187.0" cy="80.5" r="4.17"/><circle cx="187.1" cy="289.5" r="4.17"/><circle cx="187.3" cy="297.3" r="4.17"/><circle cx="187.4" cy="293.2" r="4.17"/><circle cx="187.6" cy="287.5" r="4.17"/><circle cx="187.7" cy="86.3" r="4.17"/><circle cx="187.9" cy="88.4" r="4.17"/><circle cx="188.1" cy="299.3" r="4.17"/><circle cx="188.2" cy="84.3" r="4.17"/><circle cx="188.4" cy="284.6" r="4.17"/><circle cx="188.5" cy="81.1" r="4.17"/><circle cx="188.7" cy="297.1" r="4.17"/><circle cx="188.8" cy="84.0" r="4.17"/><circle cx="189.0" cy="85.8" r="4.17"/><circle cx="189.2" cy="81.4" r="4.17"/><circle cx="189.3" cy="89.8" r="4.17"/><circle cx="189.5" cy="85.5" r="4.17"/><circle cx="189.6" cy="296.0" r="4.17"/><circle cx="189.8" cy="291.6" r="4.17"/><circle cx="189.9" cy="297.3" r="4.17"/><circle cx="190.1" cy="90.3" r="4.17"/><circle cx="190.3" cy="282.2" r="4.17"/><circle cx="190.4" cy="84.0" r="4.17"/><circle cx="190.6" cy="304.2" r="4.17"/><circle cx="190.7" cy="82.5" r="4.17"/><circle cx="190.9" cy="301.0" r="4.17"/><circle cx="191.0" cy="82.5" r="4.17"/><circle cx="191.2" cy="297.2" r="4.17"/><circle cx="191.3" cy="297.5" r="4.17"/><circle cx="191.5" cy="89.6" r="4.17"/><circle cx="191.7" cy="288.7" r="4.17"/><circle cx="191.8" cy="293.7" r="4.17"/><circle cx="192.0" cy="82.9" r="4.17"/><circle cx="192.1" cy="285.8" r="4.17"/><circle cx="192.3" cy="287.3" r="4.17"/><circle cx="192.4" cy="292.1" r="4.17"/><circle cx="192.6" cy="288.4" r="4.17"/><circle cx="192.8" cy="82.2" r="4.17"/><circle cx="192.9" cy="288.0" r="4.17"/><circle cx="193.1" cy="289.1" r="4.17"/><circle cx="193.2" cy="293.2" r="4.17"/><circle cx="193.4" cy="289.2" r="4.17"/><circle cx="193.5" cy="293.2" r="4.17"/><circle cx="193.7" cy="297.5" r="4.17"/><circle cx="193.9" cy="296.1" r="4.17"/><circle cx="194.0" cy="80.9" r="4.17"/><circle cx="194.2" cy="286.3" r="4.17"/><circle cx="194.3" cy="290.8" r="4.17"/><circle cx="194.5" cy="298.5" r="4.17"/><circle cx="194.6" cy="291.8" r="4.17"/><circle cx="194.8" cy="82.6" r="4.17"/><circle cx="194.9" cy="296.1" r="4.17"/><circle cx="195.1" cy="293.7" r="4.17"/><circle cx="195.3" cy="299.6" r="4.17"/><circle cx="195.4" cy="84.5" r="4.17"/><circle cx="195.6" cy="295.3" r="4.17"/><circle cx="195.7" cy="83.1" r="4.17"/><circle cx="195.9" cy="83.1" r="4.17"/><circle cx="196.0" cy="81.1" r="4.17"/><circle cx="196.2" cy="291.7" r="4.17"/><circle cx="196.4" cy="285.4" r="4.17"/><circle cx="196.5" cy="300.7" r="4.17"/><circle cx="196.7" cy="289.2" r="4.17"/><circle cx="196.8" cy="83.2" r="4.17"/><circle cx="197.0" cy="290.4" r="4.17"/><circle cx="197.1" cy="300.8" r="4.17"/><circle cx="197.3" cy="283.1" r="4.17"/><circle cx="197.5" cy="294.4" r="4.17"/><circle cx="197.6" cy="297.6" r="4.17"/><circle cx="197.8" cy="86.1" r="4.17"/><circle cx="197.9" cy="292.0" r="4.17"/><circle cx="198.1" cy="83.6" r="4.17"/><circle cx="198.2" cy="292.3" r="4.17"/><circle cx="198.4" cy="293.9" r="4.17"/><circle cx="198.6" cy="292.4" r="4.17"/><circle cx="198.7" cy="83.1" r="4.17"/><circle cx="198.9" cy="81.8" r="4.17"/><circle cx="199.0" cy="297.0" r="4.17"/><circle cx="199.2" cy="291.8" r="4.17"/><circle cx="199.3" cy="96.5" r="4.17"/><circle cx="199.5" cy="298.1" r="4.17"/><circle cx="199.6" cy="87.2" r="4.17"/><circle cx="199.8" cy="85.8" r="4.17"/><circle cx="200.0" cy="83.5" r="4.17"/><circle cx="200.1" cy="291.2" r="4.17"/><circle cx="200.3" cy="83.3" r="4.17"/><circle cx="200.4" cy="298.1" r="4.17"/><circle cx="200.6" cy="88.2" r="4.17"/><circle cx="200.7" cy="302.2" r="4.17"/><circle cx="200.9" cy="291.6" r="4.17"/><circle cx="201.1" cy="85.1" r="4.17"/><circle cx="201.2" cy="291.2" r="4.17"/><circle cx="201.4" cy="289.8" r="4.17"/><circle cx="201.5" cy="86.1" r="4.17"/><circle cx="201.7" cy="293.7" r="4.17"/><circle cx="201.8" cy="291.0" r="4.17"/><circle cx="202.0" cy="299.6" r="4.17"/><circle cx="202.2" cy="296.3" r="4.17"/><circle cx="202.3" cy="87.0" r="4.17"/><circle cx="202.5" cy="85.2" r="4.17"/><circle cx="202.6" cy="298.6" r="4.17"/><circle cx="202.8" cy="83.1" r="4.17"/><circle cx="202.9" cy="299.8" r="4.17"/><circle cx="203.1" cy="291.3" r="4.17"/><circle cx="203.2" cy="299.9" r="4.17"/><circle cx="203.4" cy="89.9" r="4.17"/><circle cx="203.6" cy="299.3" r="4.17"/><circle cx="203.7" cy="297.2" r="4.17"/><circle cx="203.9" cy="299.3" r="4.17"/><circle cx="204.0" cy="294.6" r="4.17"/><circle cx="204.2" cy="84.1" r="4.17"/><circle cx="204.3" cy="286.9" r="4.17"/><circle cx="204.5" cy="304.3" r="4.17"/><circle cx="204.7" cy="295.9" r="4.17"/><circle cx="204.8" cy="84.3" r="4.17"/><circle cx="205.0" cy="292.3" r="4.17"/><circle cx="205.1" cy="291.5" r="4.17"/><circle cx="205.3" cy="293.6" r="4.17"/><circle cx="205.4" cy="288.0" r="4.17"/><circle cx="205.6" cy="92.0" r="4.17"/><circle cx="205.8" cy="85.6" r="4.17"/><circle cx="205.9" cy="293.8" r="4.17"/><circle cx="206.1" cy="288.2" r="4.17"/><circle cx="206.2" cy="84.4" r="4.17"/><circle cx="206.4" cy="84.5" r="4.17"/><circle cx="206.5" cy="293.7" r="4.17"/><circle cx="206.7" cy="83.2" r="4.17"/><circle cx="206.9" cy="82.3" r="4.17"/><circle cx="207.0" cy="86.2" r="4.17"/><circle cx="207.2" cy="290.9" r="4.17"/><circle cx="207.3" cy="85.8" r="4.17"/><circle cx="207.5" cy="301.0" r="4.17"/><circle cx="207.6" cy="296.5" r="4.17"/><circle cx="207.8" cy="287.7" r="4.17"/><circle cx="207.9" cy="295.5" r="4.17"/><circle cx="208.1" cy="291.1" r="4.17"/><circle cx="208.3" cy="297.8" r="4.17"/><circle cx="208.4" cy="84.3" r="4.17"/><circle cx="208.6" cy="295.1" r="4.17"/><circle cx="208.7" cy="290.3" r="4.17"/><circle cx="208.9" cy="304.6" r="4.17"/><circle cx="209.0" cy="292.5" r="4.17"/><circle cx="209.2" cy="84.3" r="4.17"/><circle cx="209.4" cy="289.0" r="4.17"/><circle cx="209.5" cy="301.4" r="4.17"/><circle cx="209.7" cy="87.1" r="4.17"/><circle cx="209.8" cy="300.9" r="4.17"/><circle cx="210.0" cy="297.8" r="4.17"/><circle cx="210.1" cy="295.3" r="4.17"/><circle cx="210.3" cy="300.3" r="4.17"/><circle cx="210.5" cy="292.2" r="4.17"/><circle cx="210.6" cy="292.7" r="4.17"/><circle cx="210.8" cy="93.0" r="4.17"/><circle cx="210.9" cy="298.0" r="4.17"/><circle cx="211.1" cy="297.8" r="4.17"/><circle cx="211.2" cy="293.4" r="4.17"/><circle cx="211.4" cy="302.3" r="4.17"/><circle cx="211.5" cy="291.6" r="4.17"/><circle cx="211.7" cy="295.2" r="4.17"/><circle cx="211.9" cy="300.2" r="4.17"/><circle cx="212.0" cy="294.9" r="4.17"/><circle cx="212.2" cy="302.8" r="4.17"/><circle cx="212.3" cy="299.5" r="4.17"/><circle cx="212.5" cy="299.6" r="4.17"/><circle cx="212.6" cy="292.4" r="4.17"/><circle cx="212.8" cy="89.4" r="4.17"/><circle cx="213.0" cy="297.9" r="4.17"/><circle cx="213.1" cy="300.0" r="4.17"/><circle cx="213.3" cy="299.5" r="4.17"/><circle cx="213.4" cy="287.7" r="4.17"/><circle cx="213.6" cy="84.2" r="4.17"/><circle cx="213.7" cy="85.4" r="4.17"/><circle cx="213.9" cy="296.9" r="4.17"/><circle cx="214.1" cy="291.8" r="4.17"/><circle cx="214.2" cy="90.5" r="4.17"/><circle cx="214.4" cy="88.3" r="4.17"/><circle cx="214.5" cy="86.4" r="4.17"/><circle cx="214.7" cy="85.2" r="4.17"/><circle cx="214.8" cy="290.7" r="4.17"/><circle cx="215.0" cy="294.1" r="4.17"/><circle cx="215.2" cy="298.3" r="4.17"/><circle cx="215.3" cy="298.1" r="4.17"/><circle cx="215.5" cy="95.7" r="4.17"/><circle cx="215.6" cy="89.1" r="4.17"/><circle cx="215.8" cy="293.6" r="4.17"/><circle cx="215.9" cy="95.1" r="4.17"/><circle cx="216.1" cy="297.1" r="4.17"/><circle cx="216.2" cy="96.6" r="4.17"/><circle cx="216.4" cy="82.5" r="4.17"/><circle cx="216.6" cy="86.7" r="4.17"/><circle cx="216.7" cy="293.3" r="4.17"/><circle cx="216.9" cy="300.0" r="4.17"/><circle cx="217.0" cy="96.9" r="4.17"/><circle cx="217.2" cy="293.5" r="4.17"/><circle cx="217.3" cy="89.9" r="4.17"/><circle cx="217.5" cy="90.6" r="4.17"/><circle cx="217.7" cy="297.8" r="4.17"/><circle cx="217.8" cy="91.7" r="4.17"/><circle cx="218.0" cy="295.3" r="4.17"/><circle cx="218.1" cy="91.6" r="4.17"/><circle cx="218.3" cy="298.1" r="4.17"/><circle cx="218.4" cy="294.7" r="4.17"/><circle cx="218.6" cy="301.6" r="4.17"/><circle cx="218.8" cy="298.1" r="4.17"/><circle cx="218.9" cy="99.2" r="4.17"/><circle cx="219.1" cy="294.5" r="4.17"/><circle cx="219.2" cy="92.5" r="4.17"/><circle cx="219.4" cy="92.3" r="4.17"/><circle cx="219.5" cy="296.3" r="4.17"/><circle cx="219.7" cy="295.4" r="4.17"/><circle cx="219.8" cy="304.7" r="4.17"/><circle cx="220.0" cy="300.7" r="4.17"/><circle cx="220.2" cy="293.9" r="4.17"/><circle cx="220.3" cy="293.4" r="4.17"/><circle cx="220.5" cy="289.2" r="4.17"/><circle cx="220.6" cy="91.8" r="4.17"/><circle cx="220.8" cy="89.4" r="4.17"/><circle cx="220.9" cy="303.1" r="4.17"/><circle cx="221.1" cy="295.2" r="4.17"/><circle cx="221.3" cy="292.0" r="4.17"/><circle cx="221.4" cy="90.7" r="4.17"/><circle cx="221.6" cy="95.3" r="4.17"/><circle cx="221.7" cy="296.3" r="4.17"/><circle cx="221.9" cy="297.3" r="4.17"/><circle cx="222.0" cy="289.8" r="4.17"/><circle cx="222.2" cy="92.3" r="4.17"/><circle cx="222.4" cy="88.7" r="4.17"/><circle cx="222.5" cy="296.3" r="4.17"/><circle cx="222.7" cy="296.8" r="4.17"/><circle cx="222.8" cy="98.5" r="4.17"/><circle cx="223.0" cy="296.8" r="4.17"/><circle cx="223.1" cy="86.3" r="4.17"/><circle cx="223.3" cy="307.1" r="4.17"/><circle cx="223.5" cy="93.5" r="4.17"/><circle cx="223.6" cy="294.6" r="4.17"/><circle cx="223.8" cy="290.7" r="4.17"/><circle cx="223.9" cy="93.4" r="4.17"/><circle cx="224.1" cy="297.4" r="4.17"/><circle cx="224.2" cy="295.4" r="4.17"/><circle cx="224.4" cy="291.9" r="4.17"/><circle cx="224.5" cy="297.6" r="4.17"/><circle cx="224.7" cy="298.9" r="4.17"/><circle cx="224.9" cy="302.9" r="4.17"/><circle cx="225.0" cy="85.4" r="4.17"/><circle cx="225.2" cy="305.7" r="4.17"/><circle cx="225.3" cy="306.0" r="4.17"/><circle cx="225.5" cy="308.1" r="4.17"/><circle cx="225.6" cy="91.0" r="4.17"/><circle cx="225.8" cy="301.1" r="4.17"/><circle cx="226.0" cy="95.8" r="4.17"/><circle cx="226.1" cy="93.2" r="4.17"/><circle cx="226.3" cy="302.1" r="4.17"/><circle cx="226.4" cy="296.6" r="4.17"/><circle cx="226.6" cy="302.9" r="4.17"/><circle cx="226.7" cy="297.5" r="4.17"/><circle cx="226.9" cy="99.6" r="4.17"/><circle cx="227.1" cy="298.1" r="4.17"/><circle cx="227.2" cy="302.7" r="4.17"/><circle cx="227.4" cy="100.4" r="4.17"/><circle cx="227.5" cy="88.0" r="4.17"/><circle cx="227.7" cy="302.0" r="4.17"/><circle cx="227.8" cy="298.3" r="4.17"/><circle cx="228.0" cy="87.4" r="4.17"/><circle cx="228.1" cy="303.5" r="4.17"/><circle cx="228.3" cy="101.6" r="4.17"/><circle cx="228.5" cy="307.1" r="4.17"/><circle cx="228.6" cy="300.0" r="4.17"/><circle cx="228.8" cy="299.4" r="4.17"/><circle cx="228.9" cy="296.6" r="4.17"/><circle cx="229.1" cy="306.9" r="4.17"/><circle cx="229.2" cy="88.0" r="4.17"/><circle cx="229.4" cy="307.3" r="4.17"/><circle cx="229.6" cy="308.5" r="4.17"/><circle cx="229.7" cy="294.2" r="4.17"/><circle cx="229.9" cy="293.0" r="4.17"/><circle cx="230.0" cy="309.2" r="4.17"/><circle cx="230.2" cy="305.6" r="4.17"/><circle cx="230.3" cy="296.4" r="4.17"/><circle cx="230.5" cy="299.7" r="4.17"/><circle cx="230.7" cy="89.4" r="4.17"/><circle cx="230.8" cy="304.0" r="4.17"/><circle cx="231.0" cy="88.0" r="4.17"/><circle cx="231.1" cy="294.3" r="4.17"/><circle cx="231.3" cy="311.9" r="4.17"/><circle cx="231.4" cy="294.0" r="4.17"/><circle cx="231.6" cy="98.6" r="4.17"/><circle cx="231.8" cy="297.4" r="4.17"/><circle cx="231.9" cy="307.2" r="4.17"/><circle cx="232.1" cy="306.4" r="4.17"/><circle cx="232.2" cy="294.9" r="4.17"/><circle cx="232.4" cy="300.2" r="4.17"/><circle cx="232.5" cy="306.9" r="4.17"/><circle cx="232.7" cy="102.8" r="4.17"/><circle cx="232.8" cy="302.9" r="4.17"/><circle cx="233.0" cy="304.7" r="4.17"/><circle cx="233.2" cy="306.6" r="4.17"/><circle cx="233.3" cy="309.9" r="4.17"/><circle cx="233.5" cy="96.3" r="4.17"/><circle cx="233.6" cy="95.6" r="4.17"/><circle cx="233.8" cy="310.4" r="4.17"/><circle cx="233.9" cy="302.0" r="4.17"/><circle cx="234.1" cy="309.5" r="4.17"/><circle cx="234.3" cy="303.3" r="4.17"/><circle cx="234.4" cy="305.5" r="4.17"/><circle cx="234.6" cy="301.6" r="4.17"/><circle cx="234.7" cy="95.5" r="4.17"/><circle cx="234.9" cy="303.6" r="4.17"/><circle cx="235.0" cy="301.1" r="4.17"/><circle cx="235.2" cy="101.0" r="4.17"/><circle cx="235.4" cy="309.8" r="4.17"/><circle cx="235.5" cy="92.2" r="4.17"/><circle cx="235.7" cy="304.2" r="4.17"/><circle cx="235.8" cy="306.5" r="4.17"/><circle cx="236.0" cy="96.0" r="4.17"/><circle cx="236.1" cy="89.2" r="4.17"/><circle cx="236.3" cy="90.0" r="4.17"/><circle cx="236.4" cy="302.5" r="4.17"/><circle cx="236.6" cy="97.7" r="4.17"/><circle cx="236.8" cy="95.7" r="4.17"/><circle cx="236.9" cy="91.1" r="4.17"/><circle cx="237.1" cy="310.0" r="4.17"/><circle cx="237.2" cy="95.1" r="4.17"/><circle cx="237.4" cy="298.5" r="4.17"/><circle cx="237.5" cy="300.0" r="4.17"/><circle cx="237.7" cy="93.9" r="4.17"/><circle cx="237.9" cy="296.9" r="4.17"/><circle cx="238.0" cy="312.3" r="4.17"/><circle cx="238.2" cy="303.5" r="4.17"/><circle cx="238.3" cy="300.9" r="4.17"/><circle cx="238.5" cy="93.1" r="4.17"/><circle cx="238.6" cy="314.9" r="4.17"/><circle cx="238.8" cy="95.2" r="4.17"/><circle cx="239.0" cy="301.0" r="4.17"/><circle cx="239.1" cy="302.7" r="4.17"/><circle cx="239.3" cy="297.4" r="4.17"/><circle cx="239.4" cy="316.5" r="4.17"/><circle cx="239.6" cy="305.2" r="4.17"/><circle cx="239.7" cy="304.8" r="4.17"/><circle cx="239.9" cy="309.6" r="4.17"/><circle cx="240.1" cy="299.3" r="4.17"/><circle cx="240.2" cy="297.7" r="4.17"/><circle cx="240.4" cy="298.9" r="4.17"/><circle cx="240.5" cy="105.6" r="4.17"/><circle cx="240.7" cy="93.4" r="4.17"/><circle cx="240.8" cy="92.4" r="4.17"/><circle cx="241.0" cy="308.3" r="4.17"/><circle cx="241.1" cy="303.5" r="4.17"/><circle cx="241.3" cy="98.3" r="4.17"/><circle cx="241.5" cy="300.1" r="4.17"/><circle cx="241.6" cy="302.8" r="4.17"/><circle cx="241.8" cy="300.5" r="4.17"/><circle cx="241.9" cy="305.1" r="4.17"/><circle cx="242.1" cy="98.9" r="4.17"/><circle cx="242.2" cy="313.3" r="4.17"/><circle cx="242.4" cy="307.6" r="4.17"/><circle cx="242.6" cy="307.9" r="4.17"/><circle cx="242.7" cy="93.8" r="4.17"/><circle cx="242.9" cy="318.9" r="4.17"/><circle cx="243.0" cy="104.9" r="4.17"/><circle cx="243.2" cy="305.0" r="4.17"/><circle cx="243.3" cy="313.2" r="4.17"/><circle cx="243.5" cy="307.5" r="4.17"/><circle cx="243.7" cy="311.7" r="4.17"/><circle cx="243.8" cy="95.1" r="4.17"/><circle cx="244.0" cy="307.3" r="4.17"/><circle cx="244.1" cy="315.2" r="4.17"/><circle cx="244.3" cy="309.0" r="4.17"/><circle cx="244.4" cy="300.8" r="4.17"/><circle cx="244.6" cy="108.8" r="4.17"/><circle cx="244.7" cy="310.8" r="4.17"/><circle cx="244.9" cy="300.7" r="4.17"/><circle cx="245.1" cy="311.4" r="4.17"/><circle cx="245.2" cy="104.1" r="4.17"/><circle cx="245.4" cy="310.2" r="4.17"/><circle cx="245.5" cy="305.8" r="4.17"/><circle cx="245.7" cy="313.8" r="4.17"/><circle cx="245.8" cy="313.0" r="4.17"/><circle cx="246.0" cy="305.7" r="4.17"/><circle cx="246.2" cy="103.2" r="4.17"/><circle cx="246.3" cy="313.0" r="4.17"/><circle cx="246.5" cy="304.8" r="4.17"/><circle cx="246.6" cy="313.8" r="4.17"/><circle cx="246.8" cy="94.4" r="4.17"/><circle cx="246.9" cy="96.5" r="4.17"/><circle cx="247.1" cy="310.7" r="4.17"/><circle cx="247.3" cy="316.7" r="4.17"/><circle cx="247.4" cy="321.7" r="4.17"/><circle cx="247.6" cy="310.3" r="4.17"/><circle cx="247.7" cy="308.6" r="4.17"/><circle cx="247.9" cy="103.6" r="4.17"/><circle cx="248.0" cy="105.5" r="4.17"/><circle cx="248.2" cy="306.1" r="4.17"/><circle cx="248.3" cy="310.7" r="4.17"/><circle cx="248.5" cy="104.6" r="4.17"/><circle cx="248.7" cy="309.5" r="4.17"/><circle cx="248.8" cy="111.7" r="4.17"/><circle cx="249.0" cy="102.9" r="4.17"/><circle cx="249.1" cy="310.0" r="4.17"/><circle cx="249.3" cy="313.3" r="4.17"/><circle cx="249.4" cy="314.8" r="4.17"/><circle cx="249.6" cy="305.3" r="4.17"/><circle cx="249.8" cy="304.7" r="4.17"/><circle cx="249.9" cy="304.2" r="4.17"/><circle cx="250.1" cy="308.1" r="4.17"/><circle cx="250.2" cy="96.9" r="4.17"/><circle cx="250.4" cy="303.7" r="4.17"/><circle cx="250.5" cy="314.4" r="4.17"/><circle cx="250.7" cy="315.3" r="4.17"/><circle cx="250.9" cy="302.2" r="4.17"/><circle cx="251.0" cy="113.2" r="4.17"/><circle cx="251.2" cy="315.5" r="4.17"/><circle cx="251.3" cy="306.4" r="4.17"/><circle cx="251.5" cy="307.1" r="4.17"/><circle cx="251.6" cy="115.8" r="4.17"/><circle cx="251.8" cy="106.5" r="4.17"/><circle cx="252.0" cy="306.6" r="4.17"/><circle cx="252.1" cy="313.6" r="4.17"/><circle cx="252.3" cy="105.3" r="4.17"/><circle cx="252.4" cy="312.2" r="4.17"/><circle cx="252.6" cy="323.9" r="4.17"/><circle cx="252.7" cy="302.8" r="4.17"/><circle cx="252.9" cy="320.8" r="4.17"/><circle cx="253.0" cy="298.7" r="4.17"/><circle cx="253.2" cy="309.1" r="4.17"/><circle cx="253.4" cy="305.2" r="4.17"/><circle cx="253.5" cy="313.0" r="4.17"/><circle cx="253.7" cy="107.2" r="4.17"/><circle cx="253.8" cy="316.0" r="4.17"/><circle cx="254.0" cy="303.6" r="4.17"/><circle cx="254.1" cy="313.2" r="4.17"/><circle cx="254.3" cy="313.3" r="4.17"/><circle cx="254.5" cy="114.0" r="4.17"/><circle cx="254.6" cy="107.6" r="4.17"/><circle cx="254.8" cy="107.4" r="4.17"/><circle cx="254.9" cy="314.4" r="4.17"/><circle cx="255.1" cy="314.4" r="4.17"/><circle cx="255.2" cy="105.7" r="4.17"/><circle cx="255.4" cy="309.9" r="4.17"/><circle cx="255.6" cy="102.2" r="4.17"/><circle cx="255.7" cy="112.4" r="4.17"/><circle cx="255.9" cy="311.3" r="4.17"/><circle cx="256.0" cy="319.0" r="4.17"/><circle cx="256.2" cy="312.8" r="4.17"/><circle cx="256.3" cy="319.5" r="4.17"/><circle cx="256.5" cy="309.3" r="4.17"/><circle cx="256.6" cy="106.5" r="4.17"/><circle cx="256.8" cy="312.9" r="4.17"/><circle cx="257.0" cy="319.9" r="4.17"/><circle cx="257.1" cy="319.2" r="4.17"/><circle cx="257.3" cy="108.5" r="4.17"/><circle cx="257.4" cy="314.4" r="4.17"/><circle cx="257.6" cy="307.7" r="4.17"/><circle cx="257.7" cy="318.9" r="4.17"/><circle cx="257.9" cy="113.5" r="4.17"/><circle cx="258.1" cy="311.0" r="4.17"/><circle cx="258.2" cy="114.4" r="4.17"/><circle cx="258.4" cy="317.9" r="4.17"/><circle cx="258.5" cy="313.6" r="4.17"/><circle cx="258.7" cy="111.0" r="4.17"/><circle cx="258.8" cy="103.5" r="4.17"/><circle cx="259.0" cy="310.1" r="4.17"/><circle cx="259.2" cy="321.9" r="4.17"/><circle cx="259.3" cy="313.4" r="4.17"/><circle cx="259.5" cy="310.7" r="4.17"/><circle cx="259.6" cy="315.6" r="4.17"/><circle cx="259.8" cy="316.2" r="4.17"/><circle cx="259.9" cy="308.1" r="4.17"/><circle cx="260.1" cy="313.8" r="4.17"/><circle cx="260.3" cy="315.2" r="4.17"/><circle cx="260.4" cy="111.4" r="4.17"/><circle cx="260.6" cy="322.6" r="4.17"/><circle cx="260.7" cy="322.9" r="4.17"/><circle cx="260.9" cy="314.8" r="4.17"/><circle cx="261.0" cy="314.5" r="4.17"/><circle cx="261.2" cy="320.3" r="4.17"/><circle cx="261.3" cy="105.9" r="4.17"/><circle cx="261.5" cy="313.9" r="4.17"/><circle cx="261.7" cy="319.1" r="4.17"/><circle cx="261.8" cy="310.2" r="4.17"/><circle cx="262.0" cy="311.9" r="4.17"/><circle cx="262.1" cy="315.0" r="4.17"/><circle cx="262.3" cy="319.4" r="4.17"/><circle cx="262.4" cy="309.5" r="4.17"/><circle cx="262.6" cy="108.9" r="4.17"/><circle cx="262.8" cy="316.5" r="4.17"/><circle cx="262.9" cy="106.8" r="4.17"/><circle cx="263.1" cy="314.0" r="4.17"/><circle cx="263.2" cy="321.1" r="4.17"/><circle cx="263.4" cy="106.8" r="4.17"/><circle cx="263.5" cy="109.5" r="4.17"/><circle cx="263.7" cy="314.3" r="4.17"/><circle cx="263.9" cy="323.9" r="4.17"/><circle cx="264.0" cy="326.2" r="4.17"/><circle cx="264.2" cy="325.8" r="4.17"/><circle cx="264.3" cy="113.6" r="4.17"/><circle cx="264.5" cy="324.0" r="4.17"/><circle cx="264.6" cy="117.5" r="4.17"/><circle cx="264.8" cy="327.0" r="4.17"/><circle cx="264.9" cy="316.9" r="4.17"/><circle cx="265.1" cy="118.6" r="4.17"/><circle cx="265.3" cy="115.9" r="4.17"/><circle cx="265.4" cy="321.7" r="4.17"/><circle cx="265.6" cy="118.0" r="4.17"/><circle cx="265.7" cy="318.2" r="4.17"/><circle cx="265.9" cy="319.7" r="4.17"/><circle cx="266.0" cy="327.6" r="4.17"/><circle cx="266.2" cy="323.0" r="4.17"/><circle cx="266.4" cy="316.6" r="4.17"/><circle cx="266.5" cy="326.3" r="4.17"/><circle cx="266.7" cy="323.5" r="4.17"/><circle cx="266.8" cy="117.4" r="4.17"/><circle cx="267.0" cy="329.9" r="4.17"/><circle cx="267.1" cy="112.9" r="4.17"/><circle cx="267.3" cy="316.6" r="4.17"/><circle cx="267.5" cy="121.0" r="4.17"/><circle cx="267.6" cy="317.4" r="4.17"/><circle cx="267.8" cy="108.1" r="4.17"/><circle cx="267.9" cy="323.6" r="4.17"/><circle cx="268.1" cy="325.4" r="4.17"/><circle cx="268.2" cy="326.6" r="4.17"/><circle cx="268.4" cy="323.5" r="4.17"/><circle cx="268.6" cy="121.6" r="4.17"/><circle cx="268.7" cy="328.1" r="4.17"/><circle cx="268.9" cy="317.5" r="4.17"/><circle cx="269.0" cy="327.7" r="4.17"/><circle cx="269.2" cy="332.4" r="4.17"/><circle cx="269.3" cy="325.9" r="4.17"/><circle cx="269.5" cy="315.9" r="4.17"/><circle cx="269.6" cy="328.8" r="4.17"/><circle cx="269.8" cy="325.6" r="4.17"/><circle cx="270.0" cy="320.3" r="4.17"/><circle cx="270.1" cy="325.0" r="4.17"/><circle cx="270.3" cy="130.0" r="4.17"/><circle cx="270.4" cy="318.6" r="4.17"/><circle cx="270.6" cy="327.6" r="4.17"/><circle cx="270.7" cy="326.1" r="4.17"/><circle cx="270.9" cy="324.5" r="4.17"/><circle cx="271.1" cy="123.0" r="4.17"/><circle cx="271.2" cy="324.8" r="4.17"/><circle cx="271.4" cy="325.1" r="4.17"/><circle cx="271.5" cy="324.0" r="4.17"/><circle cx="271.7" cy="319.4" r="4.17"/><circle cx="271.8" cy="322.4" r="4.17"/><circle cx="272.0" cy="124.0" r="4.17"/><circle cx="272.2" cy="114.5" r="4.17"/><circle cx="272.3" cy="323.8" r="4.17"/><circle cx="272.5" cy="125.5" r="4.17"/><circle cx="272.6" cy="320.8" r="4.17"/><circle cx="272.8" cy="327.4" r="4.17"/><circle cx="272.9" cy="331.8" r="4.17"/><circle cx="273.1" cy="332.2" r="4.17"/><circle cx="273.2" cy="125.5" r="4.17"/><circle cx="273.4" cy="327.7" r="4.17"/><circle cx="273.6" cy="328.3" r="4.17"/><circle cx="273.7" cy="321.7" r="4.17"/><circle cx="273.9" cy="126.2" r="4.17"/><circle cx="274.0" cy="332.1" r="4.17"/><circle cx="274.2" cy="322.8" r="4.17"/><circle cx="274.3" cy="124.4" r="4.17"/><circle cx="274.5" cy="329.7" r="4.17"/><circle cx="274.7" cy="328.1" r="4.17"/><circle cx="274.8" cy="333.4" r="4.17"/><circle cx="275.0" cy="332.6" r="4.17"/><circle cx="275.1" cy="328.5" r="4.17"/><circle cx="275.3" cy="336.3" r="4.17"/><circle cx="275.4" cy="333.7" r="4.17"/><circle cx="275.6" cy="330.9" r="4.17"/><circle cx="275.8" cy="333.4" r="4.17"/><circle cx="275.9" cy="330.0" r="4.17"/><circle cx="276.1" cy="127.2" r="4.17"/><circle cx="276.2" cy="321.5" r="4.17"/><circle cx="276.4" cy="330.5" r="4.17"/><circle cx="276.5" cy="333.7" r="4.17"/><circle cx="276.7" cy="330.3" r="4.17"/><circle cx="276.9" cy="322.4" r="4.17"/><circle cx="277.0" cy="323.6" r="4.17"/><circle cx="277.2" cy="328.1" r="4.17"/><circle cx="277.3" cy="328.6" r="4.17"/><circle cx="277.5" cy="137.7" r="4.17"/><circle cx="277.6" cy="330.6" r="4.17"/><circle cx="277.8" cy="332.1" r="4.17"/><circle cx="277.9" cy="127.3" r="4.17"/><circle cx="278.1" cy="328.3" r="4.17"/><circle cx="278.3" cy="130.1" r="4.17"/><circle cx="278.4" cy="331.9" r="4.17"/><circle cx="278.6" cy="332.4" r="4.17"/><circle cx="278.7" cy="324.6" r="4.17"/><circle cx="278.9" cy="123.3" r="4.17"/><circle cx="279.0" cy="326.7" r="4.17"/><circle cx="279.2" cy="333.4" r="4.17"/><circle cx="279.4" cy="133.7" r="4.17"/><circle cx="279.5" cy="329.0" r="4.17"/><circle cx="279.7" cy="329.2" r="4.17"/><circle cx="279.8" cy="333.9" r="4.17"/><circle cx="280.0" cy="331.5" r="4.17"/><circle cx="280.1" cy="327.0" r="4.17"/><circle cx="280.3" cy="325.2" r="4.17"/><circle cx="280.5" cy="330.4" r="4.17"/><circle cx="280.6" cy="333.9" r="4.17"/><circle cx="280.8" cy="330.7" r="4.17"/><circle cx="280.9" cy="141.9" r="4.17"/><circle cx="281.1" cy="328.0" r="4.17"/><circle cx="281.2" cy="336.9" r="4.17"/><circle cx="281.4" cy="137.2" r="4.17"/><circle cx="281.5" cy="128.3" r="4.17"/><circle cx="281.7" cy="130.5" r="4.17"/><circle cx="281.9" cy="337.0" r="4.17"/><circle cx="282.0" cy="330.3" r="4.17"/><circle cx="282.2" cy="329.0" r="4.17"/><circle cx="282.3" cy="134.6" r="4.17"/><circle cx="282.5" cy="339.6" r="4.17"/><circle cx="282.6" cy="146.8" r="4.17"/><circle cx="282.8" cy="333.5" r="4.17"/><circle cx="283.0" cy="338.9" r="4.17"/><circle cx="283.1" cy="335.5" r="4.17"/><circle cx="283.3" cy="331.8" r="4.17"/><circle cx="283.4" cy="144.5" r="4.17"/><circle cx="283.6" cy="332.9" r="4.17"/><circle cx="283.7" cy="131.9" r="4.17"/><circle cx="283.9" cy="342.6" r="4.17"/><circle cx="284.1" cy="136.2" r="4.17"/><circle cx="284.2" cy="133.9" r="4.17"/><circle cx="284.4" cy="335.9" r="4.17"/><circle cx="284.5" cy="340.7" r="4.17"/><circle cx="284.7" cy="143.3" r="4.17"/><circle cx="284.8" cy="335.7" r="4.17"/><circle cx="285.0" cy="341.5" r="4.17"/><circle cx="285.2" cy="341.8" r="4.17"/><circle cx="285.3" cy="339.1" r="4.17"/><circle cx="285.5" cy="337.4" r="4.17"/><circle cx="285.6" cy="337.5" r="4.17"/><circle cx="285.8" cy="340.7" r="4.17"/><circle cx="285.9" cy="145.7" r="4.17"/><circle cx="286.1" cy="336.8" r="4.17"/><circle cx="286.2" cy="341.0" r="4.17"/><circle cx="286.4" cy="147.6" r="4.17"/><circle cx="286.6" cy="339.9" r="4.17"/><circle cx="286.7" cy="342.8" r="4.17"/><circle cx="286.9" cy="340.2" r="4.17"/><circle cx="287.0" cy="143.7" r="4.17"/><circle cx="287.2" cy="341.8" r="4.17"/><circle cx="287.3" cy="343.4" r="4.17"/><circle cx="287.5" cy="340.8" r="4.17"/><circle cx="287.7" cy="344.7" r="4.17"/><circle cx="287.8" cy="344.4" r="4.17"/><circle cx="288.0" cy="343.6" r="4.17"/><circle cx="288.1" cy="342.1" r="4.17"/><circle cx="288.3" cy="345.8" r="4.17"/><circle cx="288.4" cy="349.5" r="4.17"/><circle cx="288.6" cy="149.4" r="4.17"/><circle cx="288.8" cy="345.5" r="4.17"/><circle cx="288.9" cy="154.4" r="4.17"/><circle cx="289.1" cy="347.2" r="4.17"/><circle cx="289.2" cy="348.5" r="4.17"/><circle cx="289.4" cy="349.2" r="4.17"/><circle cx="289.5" cy="141.0" r="4.17"/><circle cx="289.7" cy="347.6" r="4.17"/><circle cx="289.8" cy="347.8" r="4.17"/><circle cx="290.0" cy="348.0" r="4.17"/><circle cx="290.2" cy="352.1" r="4.17"/><circle cx="290.3" cy="351.8" r="4.17"/><circle cx="290.5" cy="152.2" r="4.17"/><circle cx="290.6" cy="353.2" r="4.17"/><circle cx="290.8" cy="353.6" r="4.17"/><circle cx="290.9" cy="355.7" r="4.17"/><circle cx="291.1" cy="353.1" r="4.17"/><circle cx="291.3" cy="352.2" r="4.17"/><circle cx="291.4" cy="355.1" r="4.17"/><circle cx="291.6" cy="352.1" r="4.17"/><circle cx="291.7" cy="357.6" r="4.17"/><circle cx="291.9" cy="353.2" r="4.17"/><circle cx="292.0" cy="353.2" r="4.17"/><circle cx="292.2" cy="150.0" r="4.17"/><circle cx="292.4" cy="150.0" r="4.17"/><circle cx="292.5" cy="157.1" r="4.17"/><circle cx="292.7" cy="165.6" r="4.17"/><circle cx="292.8" cy="360.3" r="4.17"/><circle cx="293.0" cy="154.2" r="4.17"/><circle cx="293.1" cy="162.2" r="4.17"/><circle cx="293.3" cy="362.6" r="4.17"/><circle cx="293.5" cy="358.1" r="4.17"/><circle cx="293.6" cy="358.3" r="4.17"/><circle cx="293.8" cy="361.3" r="4.17"/><circle cx="293.9" cy="156.7" r="4.17"/><circle cx="294.1" cy="359.5" r="4.17"/><circle cx="294.2" cy="160.5" r="4.17"/><circle cx="294.4" cy="361.1" r="4.17"/><circle cx="294.5" cy="168.0" r="4.17"/><circle cx="294.7" cy="162.7" r="4.17"/><circle cx="294.9" cy="361.0" r="4.17"/><circle cx="52.8" cy="74.8" r="4.17"/><circle cx="56.5" cy="80.5" r="4.17"/><circle cx="65.4" cy="80.5" r="4.17"/><circle cx="92.0" cy="79.2" r="4.17"/><circle cx="117.0" cy="84.0" r="4.17"/><circle cx="151.3" cy="92.0" r="4.17"/><circle cx="169.5" cy="92.5" r="4.17"/><circle cx="189.0" cy="93.6" r="4.17"/><circle cx="197.0" cy="96.0" r="4.17"/><circle cx="206.0" cy="100.0" r="4.17"/><circle cx="228.9" cy="101.9" r="4.17"/><circle cx="230.2" cy="108.3" r="4.17"/><circle cx="237.1" cy="110.8" r="4.17"/><circle cx="253.7" cy="112.0" r="4.17"/><circle cx="258.7" cy="114.6" r="4.17"/><circle cx="283.4" cy="143.3" r="4.17"/><circle cx="167.0" cy="71.4" r="4.17"/><circle cx="183.0" cy="74.0" r="4.17"/><circle cx="202.6" cy="78.2" r="4.17"/><circle cx="217.2" cy="81.0" r="4.17"/><circle cx="233.3" cy="86.7" r="4.17"/><circle cx="239.7" cy="89.0" r="4.17"/><circle cx="250.5" cy="92.4" r="4.17"/><circle cx="54.0" cy="64.0" r="4.17"/><circle cx="59.0" cy="64.0" r="4.17"/><circle cx="64.8" cy="64.0" r="4.17"/><circle cx="70.5" cy="70.3" r="4.17"/><circle cx="76.2" cy="64.0" r="4.17"/><circle cx="81.3" cy="64.0" r="4.17"/><circle cx="84.4" cy="70.3" r="4.17"/><circle cx="97.0" cy="69.0" r="4.17"/><circle cx="108.0" cy="294.4" r="4.17"/><circle cx="122.5" cy="297.0" r="4.17"/><circle cx="137.8" cy="298.3" r="4.17"/><circle cx="155.6" cy="298.3" r="4.17"/><circle cx="208.4" cy="308.3" r="4.17"/><circle cx="226.0" cy="313.0" r="4.17"/><circle cx="236.3" cy="317.0" r="4.17"/><circle cx="264.6" cy="305.3" r="4.17"/><circle cx="276.0" cy="314.0" r="4.17"/><circle cx="282.3" cy="323.0" r="4.17"/><circle cx="291.5" cy="164.7" r="4.17"/><circle cx="295.2" cy="172.0" r="4.17"/><circle cx="295.2" cy="182.4" r="4.17"/><circle cx="295.2" cy="187.5" r="4.17"/><circle cx="291.0" cy="340.6" r="4.17"/><circle cx="294.7" cy="364.3" r="4.17"/><circle cx="294.9" cy="389.1" r="4.17"/></g>
<path d="M51.8 259.0 L53.9 258.6 L55.9 258.3 L58.0 257.9 L60.0 257.6 L62.1 257.2 L64.1 256.9 L66.2 256.5 L68.2 256.1 L70.3 255.7 L72.3 255.4 L74.4 255.0 L76.4 254.6 L78.5 254.2 L80.5 253.8 L82.6 253.4 L84.6 253.0 L86.7 252.6 L88.7 252.2 L90.8 251.8 L92.8 251.4 L94.9 251.0 L96.9 250.6 L99.0 250.2 L101.1 249.7 L103.1 249.3 L105.2 248.8 L107.2 248.4 L109.3 247.9 L111.3 247.5 L113.4 247.1 L115.4 246.6 L117.5 246.2 L119.5 245.8 L121.6 245.4 L123.6 245.0 L125.7 244.6 L127.7 244.2 L129.8 243.8 L131.8 243.4 L133.9 243.0 L135.9 242.6 L138.0 242.2 L140.0 241.8 L142.1 241.4 L144.1 241.1 L146.2 240.8 L148.2 240.6 L150.3 240.4 L152.4 240.2 L154.4 240.0 L156.5 239.9 L158.5 239.7 L160.6 239.6 L162.6 239.5 L164.7 239.4 L166.7 239.3 L168.8 239.2 L170.8 239.1 L172.9 238.9 L174.9 238.8 L177.0 238.7 L179.0 238.5 L181.1 238.4 L183.1 238.3 L185.2 238.2 L187.2 238.1 L189.3 237.9 L191.3 237.8 L193.4 237.7 L195.4 237.6 L197.5 237.4 L199.6 237.3 L201.6 237.2 L203.7 237.0 L205.7 236.9 L207.8 236.7 L209.8 236.5 L211.9 236.3 L213.9 236.1 L216.0 235.9 L218.0 235.6 L220.1 235.4 L222.1 235.1 L224.2 234.8 L226.2 234.5 L228.3 234.2 L230.3 233.8 L232.4 233.5 L234.4 233.1 L236.5 232.7 L238.5 232.3 L240.6 231.9 L242.6 231.4 L244.7 230.9 L246.7 230.4 L248.8 229.9 L250.9 229.4 L252.9 228.9 L255.0 228.4 L257.0 227.9 L259.1 227.4 L261.1 226.9 L263.2 226.5 L265.2 226.0 L267.3 225.6 L269.3 225.1 L271.4 224.7 L273.4 224.3 L275.5 223.9 L277.5 223.5 L279.6 223.2 L281.6 222.8 L283.7 222.4 L285.7 222.1 L287.8 221.7 L289.8 221.3 L291.9 221.0 L293.9 220.6 L296.0 220.3" stroke="#000" stroke-width="3.0" fill="none"/><g stroke="#000" stroke-opacity="0.3" stroke-width="2.0" fill="none"><path d="M51.8 251.0 L53.9 250.8 L55.9 250.6 L58.0 250.3 L60.0 250.1 L62.1 249.9 L64.1 249.6 L66.2 249.4 L68.2 249.1 L70.3 248.8 L72.3 248.6 L74.4 248.3 L76.4 248.0 L78.5 247.7 L80.5 247.4 L82.6 247.1 L84.6 246.8 L86.7 246.5 L88.7 246.2 L90.8 245.9 L92.8 245.5 L94.9 245.2 L96.9 244.9 L99.0 244.5 L101.1 244.1 L103.1 243.8 L105.2 243.4 L107.2 243.0 L109.3 242.7 L111.3 242.3 L113.4 241.9 L115.4 241.5 L117.5 241.1 L119.5 240.7 L121.6 240.3 L123.6 240.0 L125.7 239.6 L127.7 239.2 L129.8 238.8 L131.8 238.4 L133.9 238.0 L135.9 237.6 L138.0 237.2 L140.0 236.8 L142.1 236.4 L144.1 236.1 L146.2 235.8 L148.2 235.6 L150.3 235.4 L152.4 235.2 L154.4 235.0 L156.5 234.9 L158.5 234.7 L160.6 234.6 L162.6 234.5 L164.7 234.4 L166.7 234.2 L168.8 234.0 L170.8 233.9 L172.9 233.7 L174.9 233.5 L177.0 233.3 L179.0 233.1 L181.1 232.9 L183.1 232.7 L185.2 232.5 L187.2 232.3 L189.3 232.1 L191.3 231.9 L193.4 231.8 L195.4 231.6 L197.5 231.5 L199.6 231.3 L201.6 231.2 L203.7 231.2 L205.7 231.3 L207.8 231.5 L209.8 231.7 L211.9 231.8 L213.9 231.8 L216.0 231.8 L218.0 231.6 L220.1 231.1 L222.1 230.5 L224.2 229.9 L226.2 229.3 L228.3 228.6 L230.3 228.0 L232.4 227.4 L234.4 226.7 L236.5 226.0 L238.5 225.2 L240.6 224.5 L242.6 223.7 L244.7 222.9 L246.7 222.2 L248.8 221.4 L250.9 220.5 L252.9 219.7 L255.0 218.9 L257.0 218.1 L259.1 217.3 L261.1 216.5 L263.2 215.7 L265.2 215.0 L267.3 214.2 L269.3 213.5 L271.4 212.8 L273.4 212.1 L275.5 211.4 L277.5 210.7 L279.6 210.0 L281.6 209.3 L283.7 208.6 L285.7 208.0 L287.8 207.3 L289.8 206.7 L291.9 206.0 L293.9 205.3 L296.0 204.7"/><path d="M51.8 253.0 L53.9 252.7 L55.9 252.4 L58.0 252.1 L60.0 251.8 L62.1 251.5 L64.1 251.2 L66.2 250.8 L68.2 250.5 L70.3 250.2 L72.3 249.9 L74.4 249.6 L76.4 249.2 L78.5 248.9 L80.5 248.6 L82.6 248.2 L84.6 247.9 L86.7 247.6 L88.7 247.2 L90.8 246.9 L92.8 246.5 L94.9 246.2 L96.9 245.8 L99.0 245.5 L101.1 245.1 L103.1 244.7 L105.2 244.4 L107.2 244.0 L109.3 243.6 L111.3 243.2 L113.4 242.9 L115.4 242.5 L117.5 242.1 L119.5 241.7 L121.6 241.3 L123.6 241.0 L125.7 240.6 L127.7 240.1 L129.8 239.7 L131.8 239.2 L133.9 238.7 L135.9 238.1 L138.0 237.6 L140.0 237.1 L142.1 236.6 L144.1 236.1 L146.2 235.6 L148.2 235.2 L150.3 234.9 L152.4 234.5 L154.4 234.3 L156.5 234.0 L158.5 233.8 L160.6 233.6 L162.6 233.5 L164.7 233.3 L166.7 233.1 L168.8 233.0 L170.8 232.8 L172.9 232.7 L174.9 232.5 L177.0 232.4 L179.0 232.2 L181.1 232.1 L183.1 231.9 L185.2 231.8 L187.2 231.6 L189.3 231.5 L191.3 231.4 L193.4 231.2 L195.4 231.1 L197.5 231.0 L199.6 230.8 L201.6 230.7 L203.7 230.8 L205.7 231.0 L207.8 231.2 L209.8 231.4 L211.9 231.7 L213.9 231.8 L216.0 231.8 L218.0 231.6 L220.1 231.1 L222.1 230.6 L224.2 230.1 L226.2 229.6 L228.3 229.0 L230.3 228.5 L232.4 227.9 L234.4 227.3 L236.5 226.7 L238.5 226.0 L240.6 225.4 L242.6 224.7 L244.7 224.0 L246.7 223.3 L248.8 222.5 L250.9 221.8 L252.9 221.1 L255.0 220.4 L257.0 219.6 L259.1 218.9 L261.1 218.2 L263.2 217.5 L265.2 216.8 L267.3 216.1 L269.3 215.5 L271.4 214.8 L273.4 214.2 L275.5 213.6 L277.5 213.0 L279.6 212.4 L281.6 211.8 L283.7 211.2 L285.7 210.6 L287.8 210.0 L289.8 209.4 L291.9 208.8 L293.9 208.3 L296.0 207.7"/><path d="M51.8 255.0 L53.9 254.7 L55.9 254.5 L58.0 254.2 L60.0 253.9 L62.1 253.6 L64.1 253.3 L66.2 253.0 L68.2 252.7 L70.3 252.4 L72.3 252.1 L74.4 251.8 L76.4 251.4 L78.5 251.1 L80.5 250.7 L82.6 250.4 L84.6 250.0 L86.7 249.6 L88.7 249.2 L90.8 248.8 L92.8 248.4 L94.9 248.0 L96.9 247.6 L99.0 247.2 L101.1 246.7 L103.1 246.3 L105.2 245.8 L107.2 245.4 L109.3 244.9 L111.3 244.5 L113.4 244.1 L115.4 243.6 L117.5 243.2 L119.5 242.8 L121.6 242.4 L123.6 242.0 L125.7 241.6 L127.7 241.1 L129.8 240.7 L131.8 240.2 L133.9 239.6 L135.9 239.1 L138.0 238.5 L140.0 238.0 L142.1 237.5 L144.1 237.0 L146.2 236.5 L148.2 236.1 L150.3 235.7 L152.4 235.4 L154.4 235.2 L156.5 234.9 L158.5 234.8 L160.6 234.6 L162.6 234.5 L164.7 234.4 L166.7 234.3 L168.8 234.2 L170.8 234.1 L172.9 233.9 L174.9 233.8 L177.0 233.7 L179.0 233.5 L181.1 233.4 L183.1 233.3 L185.2 233.2 L187.2 233.1 L189.3 232.9 L191.3 232.8 L193.4 232.7 L195.4 232.6 L197.5 232.4 L199.6 232.3 L201.6 232.2 L203.7 232.2 L205.7 232.3 L207.8 232.5 L209.8 232.7 L211.9 232.8 L213.9 232.8 L216.0 232.8 L218.0 232.6 L220.1 232.2 L222.1 231.8 L224.2 231.3 L226.2 230.8 L228.3 230.4 L230.3 229.9 L232.4 229.4 L234.4 228.8 L236.5 228.3 L238.5 227.7 L240.6 227.1 L242.6 226.4 L244.7 225.8 L246.7 225.1 L248.8 224.5 L250.9 223.8 L252.9 223.2 L255.0 222.5 L257.0 221.8 L259.1 221.2 L261.1 220.5 L263.2 219.9 L265.2 219.3 L267.3 218.6 L269.3 218.1 L271.4 217.5 L273.4 216.9 L275.5 216.4 L277.5 215.8 L279.6 215.3 L281.6 214.7 L283.7 214.2 L285.7 213.7 L287.8 213.1 L289.8 212.6 L291.9 212.1 L293.9 211.6 L296.0 211.1"/><path d="M51.8 252.0 L53.9 251.7 L55.9 251.4 L58.0 251.2 L60.0 250.9 L62.1 250.6 L64.1 250.4 L66.2 250.1 L68.2 249.8 L70.3 249.6 L72.3 249.3 L74.4 249.0 L76.4 248.8 L78.5 248.5 L80.5 248.2 L82.6 248.0 L84.6 247.7 L86.7 247.4 L88.7 247.2 L90.8 246.9 L92.8 246.6 L94.9 246.4 L96.9 246.2 L99.0 246.0 L101.1 245.8 L103.1 245.6 L105.2 245.3 L107.2 245.1 L109.3 244.9 L111.3 244.7 L113.4 244.4 L115.4 244.2 L117.5 243.9 L119.5 243.6 L121.6 243.3 L123.6 243.0 L125.7 242.6 L127.7 242.2 L129.8 241.7 L131.8 241.3 L133.9 240.8 L135.9 240.3 L138.0 239.9 L140.0 239.4 L142.1 239.0 L144.1 238.6 L146.2 238.2 L148.2 237.8 L150.3 237.6 L152.4 237.3 L154.4 237.1 L156.5 236.9 L158.5 236.8 L160.6 236.6 L162.6 236.5 L164.7 236.4 L166.7 236.3 L168.8 236.2 L170.8 236.1 L172.9 235.9 L174.9 235.8 L177.0 235.7 L179.0 235.5 L181.1 235.4 L183.1 235.3 L185.2 235.2 L187.2 235.1 L189.3 234.9 L191.3 234.8 L193.4 234.7 L195.4 234.6 L197.5 234.4 L199.6 234.3 L201.6 234.2 L203.7 234.1 L205.7 234.1 L207.8 234.1 L209.8 234.1 L211.9 234.1 L213.9 234.0 L216.0 233.8 L218.0 233.6 L220.1 233.3 L222.1 232.9 L224.2 232.6 L226.2 232.2 L228.3 231.8 L230.3 231.4 L232.4 230.9 L234.4 230.5 L236.5 230.0 L238.5 229.5 L240.6 229.0 L242.6 228.4 L244.7 227.9 L246.7 227.3 L248.8 226.8 L250.9 226.2 L252.9 225.6 L255.0 225.0 L257.0 224.4 L259.1 223.9 L261.1 223.3 L263.2 222.7 L265.2 222.2 L267.3 221.7 L269.3 221.2 L271.4 220.7 L273.4 220.2 L275.5 219.7 L277.5 219.3 L279.6 218.8 L281.6 218.3 L283.7 217.9 L285.7 217.4 L287.8 217.0 L289.8 216.6 L291.9 216.1 L293.9 215.7 L296.0 215.3"/><path d="M51.8 262.0 L53.9 261.6 L55.9 261.3 L58.0 260.9 L60.0 260.5 L62.1 260.1 L64.1 259.7 L66.2 259.3 L68.2 258.9 L70.3 258.4 L72.3 258.0 L74.4 257.6 L76.4 257.1 L78.5 256.7 L80.5 256.2 L82.6 255.7 L84.6 255.3 L86.7 254.8 L88.7 254.3 L90.8 253.8 L92.8 253.3 L94.9 252.7 L96.9 252.1 L99.0 251.5 L101.1 250.8 L103.1 250.1 L105.2 249.4 L107.2 248.7 L109.3 248.1 L111.3 247.4 L113.4 246.7 L115.4 246.1 L117.5 245.5 L119.5 244.9 L121.6 244.4 L123.6 244.0 L125.7 243.6 L127.7 243.2 L129.8 242.9 L131.8 242.7 L133.9 242.5 L135.9 242.3 L138.0 242.2 L140.0 242.1 L142.1 242.1 L144.1 242.1 L146.2 242.1 L148.2 242.2 L150.3 242.3 L152.4 242.4 L154.4 242.5 L156.5 242.6 L158.5 242.6 L160.6 242.7 L162.6 242.7 L164.7 242.7 L166.7 242.8 L168.8 242.8 L170.8 242.8 L172.9 242.8 L174.9 242.8 L177.0 242.8 L179.0 242.8 L181.1 242.8 L183.1 242.8 L185.2 242.8 L187.2 242.8 L189.3 242.7 L191.3 242.7 L193.4 242.6 L195.4 242.5 L197.5 242.4 L199.6 242.3 L201.6 242.1 L203.7 241.9 L205.7 241.5 L207.8 241.1 L209.8 240.6 L211.9 240.1 L213.9 239.6 L216.0 239.1 L218.0 238.6 L220.1 238.2 L222.1 237.8 L224.2 237.3 L226.2 236.9 L228.3 236.4 L230.3 235.9 L232.4 235.4 L234.4 234.9 L236.5 234.3 L238.5 233.7 L240.6 233.1 L242.6 232.5 L244.7 231.9 L246.7 231.2 L248.8 230.6 L250.9 229.9 L252.9 229.2 L255.0 228.6 L257.0 227.9 L259.1 227.3 L261.1 226.6 L263.2 226.0 L265.2 225.4 L267.3 224.8 L269.3 224.2 L271.4 223.6 L273.4 223.1 L275.5 222.5 L277.5 222.0 L279.6 221.4 L281.6 220.9 L283.7 220.4 L285.7 219.8 L287.8 219.3 L289.8 218.8 L291.9 218.3 L293.9 217.8 L296.0 217.3"/><path d="M51.8 264.0 L53.9 263.5 L55.9 263.1 L58.0 262.6 L60.0 262.2 L62.1 261.7 L64.1 261.2 L66.2 260.8 L68.2 260.3 L70.3 259.8 L72.3 259.3 L74.4 258.8 L76.4 258.3 L78.5 257.8 L80.5 257.3 L82.6 256.8 L84.6 256.3 L86.7 255.8 L88.7 255.3 L90.8 254.8 L92.8 254.3 L94.9 253.7 L96.9 253.1 L99.0 252.6 L101.1 252.0 L103.1 251.4 L105.2 250.8 L107.2 250.2 L109.3 249.6 L111.3 249.0 L113.4 248.4 L115.4 247.9 L117.5 247.4 L119.5 246.9 L121.6 246.4 L123.6 246.0 L125.7 245.6 L127.7 245.2 L129.8 244.9 L131.8 244.6 L133.9 244.3 L135.9 244.1 L138.0 243.9 L140.0 243.7 L142.1 243.6 L144.1 243.5 L146.2 243.4 L148.2 243.4 L150.3 243.4 L152.4 243.5 L154.4 243.5 L156.5 243.6 L158.5 243.6 L160.6 243.7 L162.6 243.7 L164.7 243.7 L166.7 243.8 L168.8 243.9 L170.8 243.9 L172.9 244.0 L174.9 244.0 L177.0 244.1 L179.0 244.1 L181.1 244.1 L183.1 244.1 L185.2 244.2 L187.2 244.2 L189.3 244.2 L191.3 244.1 L193.4 244.1 L195.4 244.0 L197.5 243.9 L199.6 243.8 L201.6 243.6 L203.7 243.3 L205.7 242.9 L207.8 242.4 L209.8 241.8 L211.9 241.3 L213.9 240.7 L216.0 240.1 L218.0 239.6 L220.1 239.2 L222.1 238.8 L224.2 238.4 L226.2 237.9 L228.3 237.4 L230.3 237.0 L232.4 236.5 L234.4 236.0 L236.5 235.4 L238.5 234.8 L240.6 234.3 L242.6 233.7 L244.7 233.0 L246.7 232.4 L248.8 231.8 L250.9 231.1 L252.9 230.5 L255.0 229.8 L257.0 229.2 L259.1 228.5 L261.1 227.9 L263.2 227.3 L265.2 226.7 L267.3 226.1 L269.3 225.5 L271.4 225.0 L273.4 224.4 L275.5 223.9 L277.5 223.3 L279.6 222.8 L281.6 222.3 L283.7 221.8 L285.7 221.3 L287.8 220.8 L289.8 220.3 L291.9 219.8 L293.9 219.3 L296.0 218.8"/><path d="M51.8 257.0 L53.9 256.6 L55.9 256.3 L58.0 255.9 L60.0 255.6 L62.1 255.2 L64.1 254.9 L66.2 254.5 L68.2 254.1 L70.3 253.7 L72.3 253.4 L74.4 253.0 L76.4 252.6 L78.5 252.2 L80.5 251.8 L82.6 251.4 L84.6 251.0 L86.7 250.6 L88.7 250.2 L90.8 249.8 L92.8 249.5 L94.9 249.1 L96.9 248.8 L99.0 248.4 L101.1 248.1 L103.1 247.8 L105.2 247.5 L107.2 247.2 L109.3 246.9 L111.3 246.6 L113.4 246.3 L115.4 246.1 L117.5 245.8 L119.5 245.5 L121.6 245.2 L123.6 244.9 L125.7 244.6 L127.7 244.3 L129.8 243.9 L131.8 243.6 L133.9 243.3 L135.9 242.9 L138.0 242.6 L140.0 242.3 L142.1 242.0 L144.1 241.7 L146.2 241.5 L148.2 241.3 L150.3 241.1 L152.4 241.0 L154.4 240.9 L156.5 240.8 L158.5 240.7 L160.6 240.6 L162.6 240.6 L164.7 240.5 L166.7 240.5 L168.8 240.4 L170.8 240.4 L172.9 240.3 L174.9 240.3 L177.0 240.2 L179.0 240.2 L181.1 240.1 L183.1 240.0 L185.2 240.0 L187.2 239.9 L189.3 239.8 L191.3 239.7 L193.4 239.7 L195.4 239.6 L197.5 239.4 L199.6 239.3 L201.6 239.1 L203.7 238.9 L205.7 238.6 L207.8 238.3 L209.8 237.9 L211.9 237.6 L213.9 237.2 L216.0 236.9 L218.0 236.6 L220.1 236.4 L222.1 236.1 L224.2 235.8 L226.2 235.5 L228.3 235.2 L230.3 234.8 L232.4 234.5 L234.4 234.1 L236.5 233.7 L238.5 233.3 L240.6 232.9 L242.6 232.4 L244.7 231.9 L246.7 231.4 L248.8 230.9 L250.9 230.4 L252.9 229.9 L255.0 229.4 L257.0 228.9 L259.1 228.4 L261.1 227.9 L263.2 227.5 L265.2 227.0 L267.3 226.6 L269.3 226.1 L271.4 225.7 L273.4 225.3 L275.5 224.9 L277.5 224.5 L279.6 224.2 L281.6 223.8 L283.7 223.4 L285.7 223.1 L287.8 222.7 L289.8 222.3 L291.9 222.0 L293.9 221.6 L296.0 221.3"/><path d="M51.8 266.0 L53.9 265.5 L55.9 265.1 L58.0 264.6 L60.0 264.2 L62.1 263.7 L64.1 263.2 L66.2 262.8 L68.2 262.3 L70.3 261.8 L72.3 261.3 L74.4 260.8 L76.4 260.3 L78.5 259.8 L80.5 259.3 L82.6 258.8 L84.6 258.3 L86.7 257.8 L88.7 257.3 L90.8 256.8 L92.8 256.3 L94.9 255.7 L96.9 255.1 L99.0 254.6 L101.1 254.0 L103.1 253.4 L105.2 252.8 L107.2 252.2 L109.3 251.6 L111.3 251.0 L113.4 250.4 L115.4 249.9 L117.5 249.4 L119.5 248.9 L121.6 248.4 L123.6 248.0 L125.7 247.6 L127.7 247.2 L129.8 246.8 L131.8 246.4 L133.9 246.0 L135.9 245.6 L138.0 245.2 L140.0 244.8 L142.1 244.4 L144.1 244.1 L146.2 243.8 L148.2 243.6 L150.3 243.4 L152.4 243.2 L154.4 243.0 L156.5 242.9 L158.5 242.7 L160.6 242.6 L162.6 242.5 L164.7 242.4 L166.7 242.4 L168.8 242.3 L170.8 242.2 L172.9 242.2 L174.9 242.1 L177.0 242.1 L179.0 242.0 L181.1 242.0 L183.1 241.9 L185.2 241.9 L187.2 241.8 L189.3 241.8 L191.3 241.7 L193.4 241.6 L195.4 241.5 L197.5 241.4 L199.6 241.3 L201.6 241.1 L203.7 240.8 L205.7 240.4 L207.8 239.9 L209.8 239.4 L211.9 238.9 L213.9 238.4 L216.0 237.9 L218.0 237.6 L220.1 237.4 L222.1 237.1 L224.2 236.8 L226.2 236.5 L228.3 236.2 L230.3 235.9 L232.4 235.6 L234.4 235.2 L236.5 234.8 L238.5 234.4 L240.6 234.0 L242.6 233.6 L244.7 233.1 L246.7 232.6 L248.8 232.1 L250.9 231.6 L252.9 231.2 L255.0 230.7 L257.0 230.2 L259.1 229.7 L261.1 229.2 L263.2 228.8 L265.2 228.3 L267.3 227.9 L269.3 227.5 L271.4 227.1 L273.4 226.7 L275.5 226.3 L277.5 225.9 L279.6 225.6 L281.6 225.2 L283.7 224.8 L285.7 224.5 L287.8 224.1 L289.8 223.8 L291.9 223.5 L293.9 223.1 L296.0 222.8"/><path d="M51.8 261.0 L53.9 260.5 L55.9 260.1 L58.0 259.6 L60.0 259.2 L62.1 258.7 L64.1 258.3 L66.2 257.9 L68.2 257.4 L70.3 257.0 L72.3 256.6 L74.4 256.1 L76.4 255.7 L78.5 255.3 L80.5 254.9 L82.6 254.5 L84.6 254.1 L86.7 253.7 L88.7 253.2 L90.8 252.8 L92.8 252.5 L94.9 252.1 L96.9 251.7 L99.0 251.3 L101.1 250.9 L103.1 250.6 L105.2 250.2 L107.2 249.9 L109.3 249.5 L111.3 249.2 L113.4 248.8 L115.4 248.4 L117.5 248.1 L119.5 247.7 L121.6 247.3 L123.6 247.0 L125.7 246.6 L127.7 246.1 L129.8 245.6 L131.8 245.0 L133.9 244.4 L135.9 243.7 L138.0 243.0 L140.0 242.4 L142.1 241.7 L144.1 241.0 L146.2 240.4 L148.2 239.8 L150.3 239.3 L152.4 238.9 L154.4 238.5 L156.5 238.1 L158.5 237.8 L160.6 237.6 L162.6 237.4 L164.7 237.2 L166.7 237.0 L168.8 236.8 L170.8 236.6 L172.9 236.4 L174.9 236.2 L177.0 236.1 L179.0 235.9 L181.1 235.7 L183.1 235.5 L185.2 235.4 L187.2 235.2 L189.3 235.0 L191.3 234.9 L193.4 234.7 L195.4 234.6 L197.5 234.5 L199.6 234.3 L201.6 234.2 L203.7 234.2 L205.7 234.2 L207.8 234.3 L209.8 234.4 L211.9 234.6 L213.9 234.6 L216.0 234.7 L218.0 234.6 L220.1 234.5 L222.1 234.3 L224.2 234.2 L226.2 234.0 L228.3 233.8 L230.3 233.6 L232.4 233.4 L234.4 233.2 L236.5 232.9 L238.5 232.6 L240.6 232.3 L242.6 232.0 L244.7 231.6 L246.7 231.3 L248.8 230.9 L250.9 230.5 L252.9 230.2 L255.0 229.8 L257.0 229.4 L259.1 229.1 L261.1 228.7 L263.2 228.4 L265.2 228.0 L267.3 227.7 L269.3 227.4 L271.4 227.2 L273.4 226.9 L275.5 226.6 L277.5 226.4 L279.6 226.1 L281.6 225.9 L283.7 225.6 L285.7 225.4 L287.8 225.2 L289.8 224.9 L291.9 224.7 L293.9 224.5 L296.0 224.3"/><path d="M51.8 265.0 L53.9 264.5 L55.9 264.0 L58.0 263.6 L60.0 263.1 L62.1 262.6 L64.1 262.1 L66.2 261.6 L68.2 261.1 L70.3 260.6 L72.3 260.2 L74.4 259.7 L76.4 259.2 L78.5 258.7 L80.5 258.2 L82.6 257.7 L84.6 257.3 L86.7 256.8 L88.7 256.3 L90.8 255.8 L92.8 255.3 L94.9 254.8 L96.9 254.4 L99.0 253.9 L101.1 253.4 L103.1 252.9 L105.2 252.4 L107.2 251.9 L109.3 251.4 L111.3 250.9 L113.4 250.4 L115.4 249.9 L117.5 249.4 L119.5 248.9 L121.6 248.5 L123.6 248.0 L125.7 247.6 L127.7 247.1 L129.8 246.6 L131.8 246.2 L133.9 245.7 L135.9 245.2 L138.0 244.8 L140.0 244.4 L142.1 243.9 L144.1 243.6 L146.2 243.2 L148.2 242.9 L150.3 242.6 L152.4 242.4 L154.4 242.2 L156.5 242.0 L158.5 241.8 L160.6 241.6 L162.6 241.4 L164.7 241.3 L166.7 241.1 L168.8 240.9 L170.8 240.7 L172.9 240.5 L174.9 240.3 L177.0 240.1 L179.0 239.9 L181.1 239.8 L183.1 239.6 L185.2 239.4 L187.2 239.2 L189.3 239.1 L191.3 238.9 L193.4 238.8 L195.4 238.6 L197.5 238.5 L199.6 238.3 L201.6 238.2 L203.7 238.0 L205.7 237.9 L207.8 237.7 L209.8 237.5 L211.9 237.3 L213.9 237.1 L216.0 236.9 L218.0 236.6 L220.1 236.5 L222.1 236.4 L224.2 236.2 L226.2 236.0 L228.3 235.9 L230.3 235.7 L232.4 235.5 L234.4 235.2 L236.5 235.0 L238.5 234.7 L240.6 234.4 L242.6 234.1 L244.7 233.7 L246.7 233.4 L248.8 233.0 L250.9 232.7 L252.9 232.3 L255.0 231.9 L257.0 231.6 L259.1 231.2 L261.1 230.9 L263.2 230.5 L265.2 230.2 L267.3 229.9 L269.3 229.6 L271.4 229.4 L273.4 229.1 L275.5 228.8 L277.5 228.6 L279.6 228.3 L281.6 228.1 L283.7 227.9 L285.7 227.7 L287.8 227.4 L289.8 227.2 L291.9 227.0 L293.9 226.8 L296.0 226.6"/><path d="M51.8 263.0 L53.9 262.5 L55.9 262.0 L58.0 261.6 L60.0 261.1 L62.1 260.6 L64.1 260.1 L66.2 259.6 L68.2 259.1 L70.3 258.6 L72.3 258.2 L74.4 257.7 L76.4 257.2 L78.5 256.7 L80.5 256.2 L82.6 255.7 L84.6 255.3 L86.7 254.8 L88.7 254.3 L90.8 253.8 L92.8 253.3 L94.9 252.9 L96.9 252.4 L99.0 251.9 L101.1 251.4 L103.1 250.9 L105.2 250.4 L107.2 249.9 L109.3 249.4 L111.3 248.9 L113.4 248.5 L115.4 248.0 L117.5 247.5 L119.5 247.0 L121.6 246.5 L123.6 246.0 L125.7 245.5 L127.7 245.0 L129.8 244.4 L131.8 243.8 L133.9 243.2 L135.9 242.5 L138.0 241.8 L140.0 241.1 L142.1 240.5 L144.1 239.9 L146.2 239.3 L148.2 238.7 L150.3 238.2 L152.4 237.8 L154.4 237.4 L156.5 237.1 L158.5 236.8 L160.6 236.6 L162.6 236.4 L164.7 236.2 L166.7 236.0 L168.8 235.8 L170.8 235.6 L172.9 235.4 L174.9 235.2 L177.0 235.1 L179.0 234.9 L181.1 234.7 L183.1 234.5 L185.2 234.4 L187.2 234.2 L189.3 234.0 L191.3 233.9 L193.4 233.7 L195.4 233.6 L197.5 233.5 L199.6 233.3 L201.6 233.2 L203.7 233.2 L205.7 233.2 L207.8 233.3 L209.8 233.4 L211.9 233.5 L213.9 233.6 L216.0 233.6 L218.0 233.6 L220.1 233.6 L222.1 233.5 L224.2 233.5 L226.2 233.4 L228.3 233.3 L230.3 233.2 L232.4 233.1 L234.4 233.0 L236.5 232.8 L238.5 232.6 L240.6 232.4 L242.6 232.2 L244.7 231.9 L246.7 231.7 L248.8 231.4 L250.9 231.1 L252.9 230.9 L255.0 230.6 L257.0 230.3 L259.1 230.1 L261.1 229.8 L263.2 229.6 L265.2 229.3 L267.3 229.1 L269.3 228.9 L271.4 228.8 L273.4 228.6 L275.5 228.4 L277.5 228.3 L279.6 228.1 L281.6 228.0 L283.7 227.8 L285.7 227.7 L287.8 227.6 L289.8 227.4 L291.9 227.3 L293.9 227.2 L296.0 227.1"/><path d="M51.8 256.0 L53.9 255.8 L55.9 255.5 L58.0 255.2 L60.0 255.0 L62.1 254.7 L64.1 254.5 L66.2 254.2 L68.2 253.9 L70.3 253.7 L72.3 253.4 L74.4 253.1 L76.4 252.9 L78.5 252.6 L80.5 252.3 L82.6 252.0 L84.6 251.7 L86.7 251.5 L88.7 251.2 L90.8 250.9 L92.8 250.6 L94.9 250.3 L96.9 250.0 L99.0 249.7 L101.1 249.4 L103.1 249.1 L105.2 248.8 L107.2 248.4 L109.3 248.1 L111.3 247.8 L113.4 247.5 L115.4 247.2 L117.5 246.8 L119.5 246.5 L121.6 246.2 L123.6 245.9 L125.7 245.6 L127.7 245.3 L129.8 245.0 L131.8 244.6 L133.9 244.3 L135.9 244.0 L138.0 243.7 L140.0 243.4 L142.1 243.1 L144.1 242.8 L146.2 242.6 L148.2 242.4 L150.3 242.3 L152.4 242.1 L154.4 242.0 L156.5 241.9 L158.5 241.7 L160.6 241.6 L162.6 241.5 L164.7 241.4 L166.7 241.3 L168.8 241.2 L170.8 241.1 L172.9 240.9 L174.9 240.8 L177.0 240.7 L179.0 240.5 L181.1 240.4 L183.1 240.3 L185.2 240.2 L187.2 240.1 L189.3 239.9 L191.3 239.8 L193.4 239.7 L195.4 239.6 L197.5 239.4 L199.6 239.3 L201.6 239.2 L203.7 239.0 L205.7 238.9 L207.8 238.7 L209.8 238.5 L211.9 238.3 L213.9 238.1 L216.0 237.9 L218.0 237.6 L220.1 237.6 L222.1 237.5 L224.2 237.3 L226.2 237.2 L228.3 237.1 L230.3 237.0 L232.4 236.8 L234.4 236.6 L236.5 236.4 L238.5 236.1 L240.6 235.9 L242.6 235.6 L244.7 235.3 L246.7 235.0 L248.8 234.7 L250.9 234.4 L252.9 234.1 L255.0 233.7 L257.0 233.4 L259.1 233.1 L261.1 232.8 L263.2 232.5 L265.2 232.2 L267.3 232.0 L269.3 231.7 L271.4 231.5 L273.4 231.3 L275.5 231.1 L277.5 230.9 L279.6 230.7 L281.6 230.5 L283.7 230.3 L285.7 230.1 L287.8 230.0 L289.8 229.8 L291.9 229.6 L293.9 229.5 L296.0 229.3"/><path d="M51.8 260.0 L53.9 259.5 L55.9 259.0 L58.0 258.6 L60.0 258.1 L62.1 257.7 L64.1 257.2 L66.2 256.8 L68.2 256.3 L70.3 255.9 L72.3 255.5 L74.4 255.1 L76.4 254.7 L78.5 254.3 L80.5 253.9 L82.6 253.5 L84.6 253.0 L86.7 252.6 L88.7 252.2 L90.8 251.8 L92.8 251.5 L94.9 251.1 L96.9 250.8 L99.0 250.5 L101.1 250.2 L103.1 249.9 L105.2 249.6 L107.2 249.4 L109.3 249.1 L111.3 248.8 L113.4 248.5 L115.4 248.3 L117.5 248.0 L119.5 247.6 L121.6 247.3 L123.6 247.0 L125.7 246.6 L127.7 246.1 L129.8 245.5 L131.8 244.8 L133.9 244.1 L135.9 243.3 L138.0 242.4 L140.0 241.6 L142.1 240.7 L144.1 239.9 L146.2 239.1 L148.2 238.4 L150.3 237.7 L152.4 237.1 L154.4 236.6 L156.5 236.2 L158.5 235.8 L160.6 235.6 L162.6 235.4 L164.7 235.2 L166.7 235.0 L168.8 234.8 L170.8 234.6 L172.9 234.4 L174.9 234.2 L177.0 234.0 L179.0 233.9 L181.1 233.7 L183.1 233.5 L185.2 233.3 L187.2 233.2 L189.3 233.0 L191.3 232.9 L193.4 232.7 L195.4 232.6 L197.5 232.5 L199.6 232.3 L201.6 232.2 L203.7 232.2 L205.7 232.4 L207.8 232.6 L209.8 232.8 L211.9 233.1 L213.9 233.3 L216.0 233.5 L218.0 233.6 L220.1 233.7 L222.1 233.8 L224.2 233.9 L226.2 234.0 L228.3 234.0 L230.3 234.1 L232.4 234.1 L234.4 234.1 L236.5 234.1 L238.5 234.0 L240.6 234.0 L242.6 233.9 L244.7 233.8 L246.7 233.7 L248.8 233.5 L250.9 233.4 L252.9 233.3 L255.0 233.2 L257.0 233.0 L259.1 232.9 L261.1 232.8 L263.2 232.7 L265.2 232.6 L267.3 232.5 L269.3 232.5 L271.4 232.4 L273.4 232.4 L275.5 232.4 L277.5 232.4 L279.6 232.4 L281.6 232.4 L283.7 232.4 L285.7 232.4 L287.8 232.4 L289.8 232.4 L291.9 232.4 L293.9 232.5 L296.0 232.5"/><path d="M51.8 258.0 L53.9 257.9 L55.9 257.7 L58.0 257.6 L60.0 257.4 L62.1 257.2 L64.1 257.1 L66.2 256.9 L68.2 256.7 L70.3 256.5 L72.3 256.3 L74.4 256.1 L76.4 255.8 L78.5 255.6 L80.5 255.3 L82.6 255.1 L84.6 254.8 L86.7 254.5 L88.7 254.2 L90.8 253.9 L92.8 253.6 L94.9 253.2 L96.9 252.9 L99.0 252.5 L101.1 252.2 L103.1 251.8 L105.2 251.4 L107.2 251.1 L109.3 250.7 L111.3 250.3 L113.4 249.9 L115.4 249.5 L117.5 249.1 L119.5 248.7 L121.6 248.3 L123.6 248.0 L125.7 247.6 L127.7 247.2 L129.8 246.8 L131.8 246.4 L133.9 246.0 L135.9 245.6 L138.0 245.2 L140.0 244.8 L142.1 244.4 L144.1 244.1 L146.2 243.8 L148.2 243.6 L150.3 243.4 L152.4 243.2 L154.4 243.0 L156.5 242.9 L158.5 242.7 L160.6 242.6 L162.6 242.5 L164.7 242.4 L166.7 242.2 L168.8 242.0 L170.8 241.9 L172.9 241.7 L174.9 241.5 L177.0 241.3 L179.0 241.1 L181.1 240.9 L183.1 240.7 L185.2 240.5 L187.2 240.3 L189.3 240.1 L191.3 239.9 L193.4 239.8 L195.4 239.6 L197.5 239.5 L199.6 239.3 L201.6 239.2 L203.7 239.0 L205.7 238.9 L207.8 238.7 L209.8 238.5 L211.9 238.3 L213.9 238.1 L216.0 237.9 L218.0 237.6 L220.1 237.7 L222.1 237.7 L224.2 237.7 L226.2 237.7 L228.3 237.6 L230.3 237.6 L232.4 237.6 L234.4 237.5 L236.5 237.4 L238.5 237.2 L240.6 237.1 L242.6 236.9 L244.7 236.8 L246.7 236.6 L248.8 236.4 L250.9 236.2 L252.9 235.9 L255.0 235.7 L257.0 235.5 L259.1 235.3 L261.1 235.1 L263.2 235.0 L265.2 234.8 L267.3 234.6 L269.3 234.5 L271.4 234.4 L273.4 234.3 L275.5 234.2 L277.5 234.1 L279.6 234.0 L281.6 233.9 L283.7 233.8 L285.7 233.8 L287.8 233.7 L289.8 233.7 L291.9 233.6 L293.9 233.5 L296.0 233.5"/><path d="M51.8 259.0 L53.9 258.5 L55.9 258.1 L58.0 257.6 L60.0 257.2 L62.1 256.7 L64.1 256.2 L66.2 255.8 L68.2 255.3 L70.3 254.8 L72.3 254.3 L74.4 253.8 L76.4 253.3 L78.5 252.8 L80.5 252.3 L82.6 251.8 L84.6 251.3 L86.7 250.8 L88.7 250.3 L90.8 249.8 L92.8 249.3 L94.9 248.7 L96.9 248.2 L99.0 247.6 L101.1 247.0 L103.1 246.5 L105.2 245.9 L107.2 245.3 L109.3 244.8 L111.3 244.2 L113.4 243.6 L115.4 243.1 L117.5 242.5 L119.5 242.0 L121.6 241.5 L123.6 241.0 L125.7 240.5 L127.7 240.1 L129.8 239.6 L131.8 239.1 L133.9 238.6 L135.9 238.1 L138.0 237.7 L140.0 237.2 L142.1 236.8 L144.1 236.4 L146.2 236.0 L148.2 235.7 L150.3 235.5 L152.4 235.3 L154.4 235.1 L156.5 234.9 L158.5 234.8 L160.6 234.6 L162.6 234.5 L164.7 234.4 L166.7 234.4 L168.8 234.3 L170.8 234.3 L172.9 234.2 L174.9 234.2 L177.0 234.1 L179.0 234.1 L181.1 234.1 L183.1 234.1 L185.2 234.1 L187.2 234.2 L189.3 234.2 L191.3 234.2 L193.4 234.2 L195.4 234.2 L197.5 234.3 L199.6 234.3 L201.6 234.3 L203.7 234.4 L205.7 234.5 L207.8 234.7 L209.8 234.8 L211.9 234.9 L213.9 234.9 L216.0 234.8 L218.0 234.6 L220.1 234.2 L222.1 233.8 L224.2 233.3 L226.2 232.9 L228.3 232.4 L230.3 231.9 L232.4 231.4 L234.4 230.9 L236.5 230.3 L238.5 229.7 L240.6 229.1 L242.6 228.5 L244.7 227.9 L246.7 227.2 L248.8 226.6 L250.9 225.9 L252.9 225.2 L255.0 224.6 L257.0 223.9 L259.1 223.3 L261.1 222.6 L263.2 222.0 L265.2 221.4 L267.3 220.8 L269.3 220.2 L271.4 219.6 L273.4 219.1 L275.5 218.5 L277.5 218.0 L279.6 217.4 L281.6 216.9 L283.7 216.4 L285.7 215.8 L287.8 215.3 L289.8 214.8 L291.9 214.3 L293.9 213.8 L296.0 213.3"/></g>
<line x1="52.6" y1="240.45" x2="296" y2="240.45" stroke="#1f77b4" stroke-width="1.25" stroke-dasharray="5.14 2.22"/>
</g>
<g clip-path="url(#cr)">
<g fill="#1f77b4" fill-opacity="0.75" stroke="#1f77b4" stroke-opacity="0.75" stroke-width="1.39"><circle cx="365.3" cy="287.2" r="4.17"/><circle cx="365.3" cy="276.7" r="4.17"/><circle cx="365.3" cy="68.8" r="4.17"/><circle cx="365.3" cy="274.6" r="4.17"/><circle cx="365.3" cy="286.7" r="4.17"/><circle cx="365.3" cy="272.0" r="4.17"/><circle cx="365.3" cy="271.2" r="4.17"/><circle cx="365.3" cy="277.0" r="4.17"/><circle cx="365.3" cy="274.2" r="4.17"/><circle cx="365.3" cy="272.3" r="4.17"/><circle cx="365.3" cy="273.4" r="4.17"/><circle cx="365.3" cy="67.9" r="4.17"/><circle cx="365.3" cy="276.5" r="4.17"/><circle cx="365.3" cy="284.8" r="4.17"/><circle cx="365.3" cy="276.7" r="4.17"/><circle cx="365.3" cy="271.4" r="4.17"/><circle cx="365.3" cy="272.0" r="4.17"/><circle cx="365.3" cy="277.4" r="4.17"/><circle cx="365.3" cy="275.1" r="4.17"/><circle cx="365.3" cy="273.9" r="4.17"/><circle cx="365.3" cy="271.6" r="4.17"/><circle cx="365.3" cy="275.4" r="4.17"/><circle cx="365.3" cy="286.8" r="4.17"/><circle cx="365.3" cy="287.8" r="4.17"/><circle cx="365.3" cy="271.9" r="4.17"/><circle cx="365.3" cy="286.4" r="4.17"/><circle cx="365.3" cy="286.7" r="4.17"/><circle cx="365.3" cy="273.7" r="4.17"/><circle cx="365.3" cy="276.7" r="4.17"/><circle cx="365.3" cy="273.1" r="4.17"/><circle cx="365.3" cy="273.4" r="4.17"/><circle cx="365.3" cy="69.3" r="4.17"/><circle cx="365.3" cy="275.4" r="4.17"/><circle cx="365.3" cy="276.0" r="4.17"/><circle cx="365.3" cy="277.1" r="4.17"/><circle cx="365.3" cy="68.9" r="4.17"/><circle cx="365.3" cy="286.3" r="4.17"/><circle cx="365.3" cy="272.3" r="4.17"/><circle cx="365.3" cy="273.2" r="4.17"/><circle cx="365.3" cy="273.2" r="4.17"/><circle cx="365.3" cy="286.1" r="4.17"/><circle cx="365.3" cy="274.4" r="4.17"/><circle cx="365.3" cy="286.5" r="4.17"/><circle cx="365.3" cy="285.9" r="4.17"/><circle cx="365.3" cy="273.8" r="4.17"/><circle cx="365.3" cy="285.4" r="4.17"/><circle cx="365.3" cy="275.7" r="4.17"/><circle cx="365.3" cy="285.7" r="4.17"/><circle cx="365.3" cy="271.3" r="4.17"/><circle cx="365.3" cy="287.4" r="4.17"/><circle cx="365.3" cy="274.1" r="4.17"/><circle cx="365.3" cy="273.0" r="4.17"/><circle cx="365.3" cy="275.1" r="4.17"/><circle cx="365.3" cy="271.4" r="4.17"/><circle cx="365.3" cy="287.4" r="4.17"/><circle cx="365.3" cy="276.9" r="4.17"/><circle cx="365.3" cy="286.3" r="4.17"/><circle cx="365.3" cy="271.2" r="4.17"/><circle cx="365.3" cy="66.1" r="4.17"/><circle cx="365.3" cy="274.8" r="4.17"/><circle cx="365.3" cy="271.1" r="4.17"/><circle cx="365.3" cy="286.4" r="4.17"/><circle cx="365.3" cy="275.0" r="4.17"/><circle cx="365.3" cy="271.3" r="4.17"/><circle cx="365.3" cy="287.5" r="4.17"/><circle cx="365.3" cy="65.2" r="4.17"/><circle cx="365.3" cy="285.6" r="4.17"/><circle cx="365.3" cy="285.0" r="4.17"/><circle cx="365.3" cy="285.2" r="4.17"/><circle cx="365.3" cy="275.0" r="4.17"/><circle cx="365.3" cy="275.1" r="4.17"/><circle cx="365.3" cy="285.6" r="4.17"/><circle cx="365.3" cy="287.6" r="4.17"/><circle cx="365.3" cy="275.2" r="4.17"/><circle cx="365.3" cy="277.1" r="4.17"/><circle cx="365.3" cy="274.0" r="4.17"/><circle cx="365.3" cy="273.5" r="4.17"/><circle cx="365.3" cy="276.4" r="4.17"/><circle cx="365.3" cy="274.5" r="4.17"/><circle cx="365.3" cy="273.1" r="4.17"/><circle cx="365.3" cy="275.9" r="4.17"/><circle cx="365.3" cy="271.5" r="4.17"/><circle cx="365.3" cy="271.9" r="4.17"/><circle cx="365.3" cy="276.9" r="4.17"/><circle cx="365.3" cy="276.4" r="4.17"/><circle cx="365.3" cy="273.8" r="4.17"/><circle cx="365.3" cy="275.6" r="4.17"/><circle cx="365.3" cy="287.2" r="4.17"/><circle cx="365.3" cy="273.4" r="4.17"/><circle cx="365.3" cy="66.8" r="4.17"/><circle cx="365.3" cy="272.2" r="4.17"/><circle cx="365.3" cy="275.7" r="4.17"/><circle cx="365.3" cy="287.5" r="4.17"/><circle cx="365.3" cy="275.2" r="4.17"/><circle cx="365.3" cy="287.2" r="4.17"/><circle cx="365.3" cy="273.5" r="4.17"/><circle cx="365.3" cy="276.5" r="4.17"/><circle cx="365.3" cy="274.6" r="4.17"/><circle cx="365.3" cy="276.4" r="4.17"/><circle cx="365.3" cy="271.9" r="4.17"/><circle cx="365.3" cy="285.0" r="4.17"/><circle cx="365.3" cy="287.7" r="4.17"/><circle cx="365.3" cy="277.4" r="4.17"/><circle cx="365.3" cy="274.7" r="4.17"/><circle cx="365.3" cy="285.2" r="4.17"/><circle cx="365.3" cy="276.0" r="4.17"/><circle cx="365.3" cy="66.7" r="4.17"/><circle cx="365.3" cy="274.0" r="4.17"/><circle cx="365.3" cy="69.5" r="4.17"/><circle cx="365.3" cy="274.3" r="4.17"/><circle cx="365.3" cy="276.6" r="4.17"/><circle cx="365.3" cy="275.4" r="4.17"/><circle cx="365.3" cy="272.8" r="4.17"/><circle cx="365.3" cy="274.5" r="4.17"/><circle cx="365.3" cy="287.6" r="4.17"/><circle cx="365.3" cy="271.7" r="4.17"/><circle cx="365.3" cy="285.3" r="4.17"/><circle cx="365.3" cy="274.3" r="4.17"/><circle cx="365.3" cy="284.6" r="4.17"/><circle cx="365.3" cy="271.4" r="4.17"/><circle cx="365.3" cy="276.7" r="4.17"/><circle cx="365.3" cy="287.2" r="4.17"/><circle cx="365.3" cy="286.9" r="4.17"/><circle cx="365.3" cy="272.1" r="4.17"/><circle cx="365.3" cy="277.0" r="4.17"/><circle cx="365.3" cy="277.1" r="4.17"/><circle cx="365.3" cy="271.6" r="4.17"/><circle cx="365.3" cy="276.2" r="4.17"/><circle cx="365.3" cy="287.0" r="4.17"/><circle cx="365.3" cy="286.0" r="4.17"/><circle cx="365.3" cy="276.4" r="4.17"/><circle cx="365.3" cy="272.4" r="4.17"/><circle cx="365.3" cy="284.7" r="4.17"/><circle cx="365.3" cy="277.2" r="4.17"/><circle cx="365.3" cy="275.7" r="4.17"/><circle cx="365.3" cy="284.8" r="4.17"/><circle cx="365.3" cy="277.1" r="4.17"/><circle cx="365.3" cy="67.6" r="4.17"/><circle cx="365.3" cy="285.2" r="4.17"/><circle cx="365.3" cy="287.0" r="4.17"/><circle cx="365.3" cy="286.1" r="4.17"/><circle cx="365.3" cy="286.9" r="4.17"/><circle cx="365.3" cy="274.6" r="4.17"/><circle cx="365.3" cy="285.8" r="4.17"/><circle cx="365.3" cy="286.3" r="4.17"/><circle cx="365.3" cy="285.8" r="4.17"/><circle cx="365.3" cy="286.1" r="4.17"/><circle cx="365.3" cy="273.5" r="4.17"/><circle cx="365.3" cy="274.6" r="4.17"/><circle cx="365.3" cy="274.8" r="4.17"/><circle cx="365.3" cy="272.9" r="4.17"/><circle cx="365.3" cy="277.5" r="4.17"/><circle cx="365.3" cy="273.4" r="4.17"/><circle cx="365.3" cy="287.6" r="4.17"/><circle cx="365.3" cy="276.7" r="4.17"/><circle cx="365.3" cy="271.5" r="4.17"/><circle cx="365.3" cy="274.2" r="4.17"/><circle cx="365.3" cy="276.4" r="4.17"/><circle cx="365.3" cy="276.0" r="4.17"/><circle cx="365.3" cy="274.5" r="4.17"/><circle cx="365.3" cy="275.6" r="4.17"/><circle cx="365.3" cy="275.8" r="4.17"/><circle cx="365.3" cy="271.4" r="4.17"/><circle cx="365.3" cy="275.2" r="4.17"/><circle cx="365.3" cy="272.7" r="4.17"/><circle cx="365.3" cy="275.1" r="4.17"/><circle cx="365.3" cy="285.5" r="4.17"/><circle cx="365.3" cy="271.4" r="4.17"/><circle cx="365.3" cy="287.0" r="4.17"/><circle cx="365.3" cy="273.1" r="4.17"/><circle cx="365.3" cy="277.0" r="4.17"/><circle cx="365.3" cy="276.0" r="4.17"/><circle cx="365.3" cy="272.7" r="4.17"/><circle cx="365.3" cy="271.9" r="4.17"/><circle cx="365.3" cy="271.9" r="4.17"/><circle cx="365.3" cy="272.8" r="4.17"/><circle cx="365.3" cy="272.2" r="4.17"/><circle cx="365.3" cy="271.1" r="4.17"/><circle cx="365.3" cy="272.8" r="4.17"/><circle cx="365.3" cy="275.0" r="4.17"/><circle cx="365.3" cy="276.3" r="4.17"/><circle cx="365.3" cy="287.6" r="4.17"/><circle cx="365.3" cy="275.3" r="4.17"/><circle cx="365.3" cy="285.2" r="4.17"/><circle cx="365.3" cy="284.9" r="4.17"/><circle cx="365.3" cy="276.4" r="4.17"/><circle cx="365.3" cy="286.6" r="4.17"/><circle cx="365.3" cy="274.7" r="4.17"/><circle cx="365.3" cy="273.2" r="4.17"/><circle cx="365.3" cy="275.7" r="4.17"/><circle cx="365.3" cy="276.5" r="4.17"/><circle cx="365.3" cy="271.5" r="4.17"/><circle cx="365.3" cy="273.0" r="4.17"/><circle cx="365.3" cy="285.5" r="4.17"/><circle cx="365.3" cy="276.5" r="4.17"/><circle cx="365.3" cy="276.1" r="4.17"/><circle cx="365.3" cy="276.2" r="4.17"/><circle cx="365.3" cy="272.7" r="4.17"/><circle cx="365.3" cy="275.6" r="4.17"/><circle cx="365.3" cy="284.9" r="4.17"/><circle cx="365.3" cy="274.6" r="4.17"/><circle cx="365.3" cy="272.8" r="4.17"/><circle cx="365.3" cy="273.0" r="4.17"/><circle cx="365.3" cy="276.6" r="4.17"/><circle cx="365.3" cy="286.7" r="4.17"/><circle cx="365.3" cy="275.7" r="4.17"/><circle cx="365.3" cy="271.2" r="4.17"/><circle cx="365.3" cy="272.3" r="4.17"/><circle cx="365.3" cy="274.1" r="4.17"/><circle cx="365.3" cy="272.9" r="4.17"/><circle cx="365.3" cy="272.4" r="4.17"/><circle cx="365.3" cy="271.4" r="4.17"/><circle cx="365.3" cy="275.8" r="4.17"/><circle cx="365.3" cy="274.7" r="4.17"/><circle cx="365.3" cy="271.8" r="4.17"/><circle cx="365.3" cy="276.2" r="4.17"/><circle cx="365.3" cy="70.4" r="4.17"/><circle cx="365.3" cy="272.7" r="4.17"/><circle cx="365.3" cy="273.9" r="4.17"/><circle cx="365.3" cy="271.3" r="4.17"/><circle cx="365.3" cy="271.5" r="4.17"/><circle cx="365.3" cy="286.5" r="4.17"/><circle cx="365.3" cy="274.7" r="4.17"/><circle cx="365.3" cy="276.2" r="4.17"/><circle cx="365.3" cy="274.8" r="4.17"/><circle cx="365.3" cy="275.0" r="4.17"/><circle cx="365.3" cy="274.5" r="4.17"/><circle cx="365.3" cy="272.8" r="4.17"/><circle cx="365.3" cy="275.5" r="4.17"/><circle cx="365.3" cy="276.3" r="4.17"/><circle cx="365.3" cy="272.6" r="4.17"/><circle cx="365.3" cy="287.7" r="4.17"/><circle cx="365.3" cy="68.7" r="4.17"/><circle cx="365.3" cy="272.1" r="4.17"/><circle cx="365.3" cy="275.8" r="4.17"/><circle cx="365.3" cy="273.3" r="4.17"/><circle cx="365.3" cy="284.9" r="4.17"/><circle cx="365.3" cy="276.1" r="4.17"/><circle cx="365.3" cy="68.7" r="4.17"/><circle cx="365.3" cy="272.1" r="4.17"/><circle cx="365.3" cy="271.3" r="4.17"/><circle cx="365.3" cy="274.0" r="4.17"/><circle cx="365.3" cy="272.8" r="4.17"/><circle cx="365.3" cy="68.9" r="4.17"/><circle cx="365.3" cy="285.6" r="4.17"/><circle cx="365.3" cy="271.9" r="4.17"/><circle cx="365.3" cy="277.1" r="4.17"/><circle cx="365.3" cy="274.1" r="4.17"/><circle cx="365.3" cy="286.9" r="4.17"/><circle cx="365.3" cy="284.9" r="4.17"/><circle cx="365.3" cy="277.1" r="4.17"/><circle cx="365.3" cy="67.3" r="4.17"/><circle cx="365.3" cy="277.5" r="4.17"/><circle cx="365.3" cy="285.9" r="4.17"/><circle cx="365.3" cy="288.0" r="4.17"/><circle cx="365.3" cy="277.1" r="4.17"/><circle cx="365.3" cy="277.1" r="4.17"/><circle cx="365.3" cy="275.9" r="4.17"/><circle cx="365.3" cy="273.5" r="4.17"/><circle cx="365.3" cy="271.4" r="4.17"/><circle cx="365.3" cy="275.4" r="4.17"/><circle cx="365.3" cy="272.5" r="4.17"/><circle cx="365.3" cy="275.9" r="4.17"/><circle cx="365.3" cy="275.1" r="4.17"/><circle cx="365.3" cy="275.5" r="4.17"/><circle cx="365.3" cy="275.1" r="4.17"/><circle cx="365.3" cy="67.9" r="4.17"/><circle cx="365.3" cy="274.8" r="4.17"/><circle cx="365.3" cy="271.5" r="4.17"/><circle cx="365.3" cy="272.6" r="4.17"/><circle cx="365.3" cy="285.5" r="4.17"/><circle cx="365.3" cy="287.8" r="4.17"/><circle cx="365.3" cy="68.4" r="4.17"/><circle cx="365.3" cy="67.7" r="4.17"/><circle cx="365.3" cy="271.2" r="4.17"/><circle cx="365.3" cy="272.3" r="4.17"/><circle cx="365.3" cy="272.6" r="4.17"/><circle cx="365.3" cy="286.7" r="4.17"/><circle cx="365.3" cy="271.2" r="4.17"/><circle cx="365.3" cy="271.8" r="4.17"/><circle cx="365.3" cy="272.0" r="4.17"/><circle cx="365.3" cy="273.2" r="4.17"/><circle cx="365.3" cy="71.1" r="4.17"/><circle cx="365.3" cy="287.4" r="4.17"/><circle cx="365.3" cy="271.1" r="4.17"/><circle cx="365.3" cy="271.8" r="4.17"/><circle cx="365.3" cy="287.3" r="4.17"/><circle cx="365.3" cy="271.2" r="4.17"/><circle cx="365.3" cy="285.4" r="4.17"/><circle cx="365.3" cy="273.0" r="4.17"/><circle cx="365.3" cy="273.9" r="4.17"/><circle cx="365.3" cy="274.3" r="4.17"/><circle cx="365.3" cy="285.6" r="4.17"/><circle cx="365.3" cy="286.3" r="4.17"/><circle cx="365.3" cy="277.4" r="4.17"/><circle cx="365.3" cy="274.3" r="4.17"/><circle cx="365.3" cy="277.2" r="4.17"/><circle cx="365.3" cy="272.0" r="4.17"/><circle cx="365.3" cy="286.7" r="4.17"/><circle cx="365.3" cy="272.4" r="4.17"/><circle cx="365.3" cy="275.5" r="4.17"/><circle cx="365.3" cy="277.3" r="4.17"/><circle cx="365.3" cy="273.8" r="4.17"/><circle cx="365.3" cy="272.6" r="4.17"/><circle cx="365.3" cy="70.1" r="4.17"/><circle cx="365.3" cy="272.1" r="4.17"/><circle cx="365.3" cy="286.2" r="4.17"/><circle cx="365.3" cy="285.5" r="4.17"/><circle cx="365.3" cy="275.7" r="4.17"/><circle cx="365.3" cy="277.0" r="4.17"/><circle cx="365.3" cy="69.4" r="4.17"/><circle cx="365.3" cy="272.7" r="4.17"/><circle cx="365.3" cy="275.4" r="4.17"/><circle cx="365.3" cy="287.6" r="4.17"/><circle cx="365.3" cy="277.3" r="4.17"/><circle cx="365.3" cy="287.6" r="4.17"/><circle cx="365.3" cy="272.3" r="4.17"/><circle cx="365.3" cy="271.8" r="4.17"/><circle cx="365.3" cy="287.7" r="4.17"/><circle cx="376.0" cy="73.9" r="4.17"/><circle cx="376.0" cy="69.8" r="4.17"/><circle cx="376.0" cy="277.5" r="4.17"/><circle cx="376.0" cy="287.5" r="4.17"/><circle cx="376.0" cy="281.1" r="4.17"/><circle cx="376.0" cy="71.9" r="4.17"/><circle cx="376.0" cy="275.2" r="4.17"/><circle cx="376.0" cy="275.7" r="4.17"/><circle cx="376.0" cy="287.3" r="4.17"/><circle cx="376.0" cy="282.5" r="4.17"/><circle cx="376.0" cy="289.4" r="4.17"/><circle cx="376.0" cy="286.0" r="4.17"/><circle cx="376.0" cy="69.5" r="4.17"/><circle cx="376.0" cy="284.7" r="4.17"/><circle cx="376.0" cy="286.0" r="4.17"/><circle cx="376.0" cy="291.5" r="4.17"/><circle cx="376.0" cy="71.2" r="4.17"/><circle cx="376.0" cy="282.7" r="4.17"/><circle cx="376.0" cy="70.1" r="4.17"/><circle cx="376.0" cy="285.6" r="4.17"/><circle cx="376.0" cy="278.4" r="4.17"/><circle cx="376.0" cy="275.7" r="4.17"/><circle cx="376.0" cy="278.2" r="4.17"/><circle cx="376.0" cy="69.3" r="4.17"/><circle cx="376.0" cy="276.7" r="4.17"/><circle cx="376.0" cy="285.9" r="4.17"/><circle cx="376.0" cy="281.1" r="4.17"/><circle cx="376.0" cy="280.8" r="4.17"/><circle cx="376.0" cy="288.9" r="4.17"/><circle cx="376.0" cy="279.8" r="4.17"/><circle cx="376.0" cy="275.9" r="4.17"/><circle cx="376.0" cy="284.1" r="4.17"/><circle cx="376.0" cy="69.5" r="4.17"/><circle cx="376.0" cy="70.3" r="4.17"/><circle cx="376.0" cy="278.8" r="4.17"/><circle cx="376.0" cy="282.7" r="4.17"/><circle cx="376.0" cy="277.2" r="4.17"/><circle cx="376.0" cy="73.4" r="4.17"/><circle cx="376.0" cy="274.0" r="4.17"/><circle cx="376.0" cy="278.5" r="4.17"/><circle cx="376.0" cy="281.4" r="4.17"/><circle cx="376.0" cy="282.2" r="4.17"/><circle cx="376.0" cy="283.0" r="4.17"/><circle cx="376.0" cy="288.0" r="4.17"/><circle cx="376.0" cy="277.2" r="4.17"/><circle cx="376.0" cy="277.4" r="4.17"/><circle cx="376.0" cy="272.9" r="4.17"/><circle cx="376.0" cy="72.5" r="4.17"/><circle cx="376.0" cy="275.2" r="4.17"/><circle cx="376.0" cy="286.2" r="4.17"/><circle cx="376.0" cy="72.0" r="4.17"/><circle cx="376.0" cy="285.3" r="4.17"/><circle cx="376.0" cy="281.8" r="4.17"/><circle cx="376.0" cy="281.0" r="4.17"/><circle cx="376.0" cy="279.8" r="4.17"/><circle cx="376.0" cy="277.3" r="4.17"/><circle cx="376.0" cy="279.8" r="4.17"/><circle cx="376.0" cy="286.5" r="4.17"/><circle cx="376.0" cy="284.4" r="4.17"/><circle cx="376.0" cy="72.2" r="4.17"/><circle cx="376.0" cy="279.5" r="4.17"/><circle cx="376.0" cy="281.4" r="4.17"/><circle cx="376.0" cy="281.8" r="4.17"/><circle cx="376.0" cy="282.2" r="4.17"/><circle cx="376.0" cy="274.4" r="4.17"/><circle cx="376.0" cy="275.3" r="4.17"/><circle cx="376.0" cy="275.8" r="4.17"/><circle cx="376.0" cy="274.8" r="4.17"/><circle cx="376.0" cy="285.8" r="4.17"/><circle cx="376.0" cy="287.1" r="4.17"/><circle cx="376.0" cy="287.0" r="4.17"/><circle cx="376.0" cy="277.2" r="4.17"/><circle cx="376.0" cy="285.3" r="4.17"/><circle cx="376.0" cy="284.5" r="4.17"/><circle cx="376.0" cy="280.5" r="4.17"/><circle cx="376.0" cy="281.5" r="4.17"/><circle cx="376.0" cy="281.1" r="4.17"/><circle cx="376.0" cy="276.3" r="4.17"/><circle cx="376.0" cy="276.6" r="4.17"/><circle cx="376.0" cy="287.6" r="4.17"/><circle cx="376.0" cy="288.2" r="4.17"/><circle cx="376.0" cy="279.1" r="4.17"/><circle cx="376.0" cy="279.1" r="4.17"/><circle cx="376.0" cy="277.8" r="4.17"/><circle cx="376.0" cy="282.6" r="4.17"/><circle cx="376.0" cy="71.4" r="4.17"/><circle cx="376.0" cy="281.8" r="4.17"/><circle cx="376.0" cy="69.9" r="4.17"/><circle cx="376.0" cy="68.7" r="4.17"/><circle cx="376.0" cy="280.1" r="4.17"/><circle cx="376.0" cy="282.0" r="4.17"/><circle cx="376.0" cy="278.2" r="4.17"/><circle cx="376.0" cy="282.3" r="4.17"/><circle cx="376.0" cy="279.8" r="4.17"/><circle cx="376.0" cy="277.1" r="4.17"/><circle cx="376.0" cy="280.2" r="4.17"/><circle cx="376.0" cy="279.8" r="4.17"/><circle cx="376.0" cy="287.3" r="4.17"/><circle cx="376.0" cy="280.3" r="4.17"/><circle cx="376.0" cy="70.1" r="4.17"/><circle cx="384.4" cy="275.6" r="4.17"/><circle cx="384.4" cy="277.5" r="4.17"/><circle cx="384.4" cy="287.1" r="4.17"/><circle cx="384.4" cy="71.3" r="4.17"/><circle cx="384.4" cy="284.5" r="4.17"/><circle cx="384.4" cy="285.8" r="4.17"/><circle cx="384.4" cy="286.4" r="4.17"/><circle cx="384.4" cy="280.4" r="4.17"/><circle cx="384.4" cy="282.8" r="4.17"/><circle cx="384.4" cy="293.3" r="4.17"/><circle cx="384.4" cy="279.5" r="4.17"/><circle cx="384.4" cy="294.8" r="4.17"/><circle cx="384.4" cy="285.4" r="4.17"/><circle cx="384.4" cy="280.4" r="4.17"/><circle cx="384.4" cy="281.5" r="4.17"/><circle cx="384.4" cy="280.4" r="4.17"/><circle cx="384.4" cy="286.9" r="4.17"/><circle cx="384.4" cy="280.5" r="4.17"/><circle cx="384.4" cy="288.6" r="4.17"/><circle cx="384.4" cy="72.1" r="4.17"/><circle cx="384.4" cy="72.6" r="4.17"/><circle cx="384.4" cy="74.0" r="4.17"/><circle cx="384.4" cy="285.5" r="4.17"/><circle cx="384.4" cy="289.2" r="4.17"/><circle cx="384.4" cy="282.7" r="4.17"/><circle cx="384.4" cy="280.3" r="4.17"/><circle cx="384.4" cy="281.7" r="4.17"/><circle cx="384.4" cy="80.3" r="4.17"/><circle cx="384.4" cy="275.6" r="4.17"/><circle cx="384.4" cy="281.2" r="4.17"/><circle cx="384.4" cy="279.1" r="4.17"/><circle cx="384.4" cy="287.5" r="4.17"/><circle cx="384.4" cy="285.9" r="4.17"/><circle cx="384.4" cy="74.7" r="4.17"/><circle cx="384.4" cy="74.9" r="4.17"/><circle cx="384.4" cy="283.8" r="4.17"/><circle cx="384.4" cy="288.8" r="4.17"/><circle cx="384.4" cy="278.9" r="4.17"/><circle cx="384.4" cy="278.1" r="4.17"/><circle cx="384.4" cy="280.6" r="4.17"/><circle cx="384.4" cy="282.3" r="4.17"/><circle cx="384.4" cy="278.1" r="4.17"/><circle cx="384.4" cy="289.2" r="4.17"/><circle cx="384.4" cy="288.5" r="4.17"/><circle cx="384.4" cy="71.1" r="4.17"/><circle cx="384.4" cy="77.0" r="4.17"/><circle cx="384.4" cy="69.6" r="4.17"/><circle cx="384.4" cy="283.1" r="4.17"/><circle cx="384.4" cy="288.3" r="4.17"/><circle cx="384.4" cy="278.1" r="4.17"/><circle cx="384.4" cy="275.8" r="4.17"/><circle cx="384.4" cy="282.0" r="4.17"/><circle cx="384.4" cy="292.1" r="4.17"/><circle cx="384.4" cy="276.9" r="4.17"/><circle cx="384.4" cy="278.8" r="4.17"/><circle cx="384.4" cy="281.2" r="4.17"/><circle cx="384.4" cy="287.6" r="4.17"/><circle cx="384.4" cy="285.3" r="4.17"/><circle cx="384.4" cy="278.5" r="4.17"/><circle cx="384.4" cy="76.7" r="4.17"/><circle cx="384.4" cy="283.7" r="4.17"/><circle cx="384.4" cy="286.5" r="4.17"/><circle cx="384.4" cy="284.4" r="4.17"/><circle cx="384.4" cy="287.2" r="4.17"/><circle cx="384.4" cy="75.5" r="4.17"/><circle cx="384.4" cy="287.6" r="4.17"/><circle cx="384.4" cy="287.1" r="4.17"/><circle cx="384.4" cy="280.4" r="4.17"/><circle cx="384.4" cy="70.8" r="4.17"/><circle cx="384.4" cy="279.7" r="4.17"/><circle cx="384.4" cy="284.3" r="4.17"/><circle cx="384.4" cy="281.1" r="4.17"/><circle cx="384.4" cy="286.8" r="4.17"/><circle cx="384.4" cy="289.1" r="4.17"/><circle cx="384.4" cy="284.0" r="4.17"/><circle cx="384.4" cy="285.5" r="4.17"/><circle cx="393.1" cy="282.5" r="4.17"/><circle cx="393.1" cy="291.6" r="4.17"/><circle cx="393.1" cy="287.7" r="4.17"/><circle cx="393.1" cy="285.3" r="4.17"/><circle cx="393.1" cy="286.6" r="4.17"/><circle cx="393.1" cy="285.4" r="4.17"/><circle cx="393.1" cy="74.8" r="4.17"/><circle cx="393.1" cy="287.5" r="4.17"/><circle cx="393.1" cy="281.2" r="4.17"/><circle cx="393.1" cy="279.2" r="4.17"/><circle cx="393.1" cy="74.0" r="4.17"/><circle cx="393.1" cy="284.5" r="4.17"/><circle cx="393.1" cy="290.0" r="4.17"/><circle cx="393.1" cy="284.8" r="4.17"/><circle cx="393.1" cy="77.2" r="4.17"/><circle cx="393.1" cy="288.2" r="4.17"/><circle cx="393.1" cy="84.5" r="4.17"/><circle cx="393.1" cy="286.6" r="4.17"/><circle cx="393.1" cy="287.3" r="4.17"/><circle cx="393.1" cy="288.9" r="4.17"/><circle cx="393.1" cy="283.9" r="4.17"/><circle cx="393.1" cy="281.3" r="4.17"/><circle cx="393.1" cy="76.6" r="4.17"/><circle cx="393.1" cy="86.8" r="4.17"/><circle cx="393.1" cy="279.2" r="4.17"/><circle cx="393.1" cy="288.1" r="4.17"/><circle cx="393.1" cy="279.6" r="4.17"/><circle cx="393.1" cy="75.0" r="4.17"/><circle cx="393.1" cy="76.6" r="4.17"/><circle cx="393.1" cy="72.0" r="4.17"/><circle cx="393.1" cy="277.6" r="4.17"/><circle cx="393.1" cy="71.5" r="4.17"/><circle cx="393.1" cy="77.6" r="4.17"/><circle cx="393.1" cy="289.1" r="4.17"/><circle cx="393.1" cy="284.2" r="4.17"/><circle cx="393.1" cy="276.9" r="4.17"/><circle cx="393.1" cy="286.9" r="4.17"/><circle cx="393.1" cy="286.1" r="4.17"/><circle cx="393.1" cy="285.7" r="4.17"/><circle cx="393.1" cy="287.5" r="4.17"/><circle cx="393.1" cy="285.8" r="4.17"/><circle cx="393.1" cy="86.7" r="4.17"/><circle cx="393.1" cy="78.6" r="4.17"/><circle cx="393.1" cy="285.3" r="4.17"/><circle cx="393.1" cy="286.3" r="4.17"/><circle cx="393.1" cy="287.1" r="4.17"/><circle cx="393.1" cy="283.7" r="4.17"/><circle cx="393.1" cy="284.1" r="4.17"/><circle cx="393.1" cy="74.2" r="4.17"/><circle cx="393.1" cy="78.8" r="4.17"/><circle cx="393.1" cy="278.2" r="4.17"/><circle cx="393.1" cy="73.8" r="4.17"/><circle cx="393.1" cy="288.6" r="4.17"/><circle cx="393.1" cy="280.2" r="4.17"/><circle cx="393.1" cy="283.7" r="4.17"/><circle cx="393.1" cy="281.4" r="4.17"/><circle cx="393.1" cy="293.4" r="4.17"/><circle cx="393.1" cy="292.6" r="4.17"/><circle cx="393.1" cy="286.4" r="4.17"/><circle cx="393.1" cy="284.1" r="4.17"/><circle cx="393.1" cy="286.5" r="4.17"/><circle cx="393.1" cy="281.1" r="4.17"/><circle cx="393.1" cy="76.4" r="4.17"/><circle cx="393.1" cy="278.2" r="4.17"/><circle cx="393.1" cy="285.1" r="4.17"/><circle cx="393.1" cy="72.7" r="4.17"/><circle cx="393.1" cy="279.8" r="4.17"/><circle cx="393.1" cy="288.7" r="4.17"/><circle cx="393.1" cy="285.3" r="4.17"/><circle cx="401.0" cy="76.1" r="4.17"/><circle cx="401.0" cy="279.0" r="4.17"/><circle cx="401.0" cy="279.4" r="4.17"/><circle cx="401.0" cy="282.0" r="4.17"/><circle cx="401.0" cy="293.6" r="4.17"/><circle cx="401.0" cy="75.3" r="4.17"/><circle cx="401.0" cy="286.9" r="4.17"/><circle cx="401.0" cy="279.8" r="4.17"/><circle cx="401.0" cy="75.2" r="4.17"/><circle cx="401.0" cy="77.4" r="4.17"/><circle cx="401.0" cy="288.5" r="4.17"/><circle cx="401.0" cy="282.7" r="4.17"/><circle cx="401.0" cy="291.2" r="4.17"/><circle cx="401.0" cy="289.0" r="4.17"/><circle cx="401.0" cy="72.1" r="4.17"/><circle cx="401.0" cy="290.4" r="4.17"/><circle cx="401.0" cy="284.8" r="4.17"/><circle cx="401.0" cy="77.1" r="4.17"/><circle cx="401.0" cy="287.4" r="4.17"/><circle cx="401.0" cy="283.8" r="4.17"/><circle cx="401.0" cy="287.7" r="4.17"/><circle cx="401.0" cy="280.9" r="4.17"/><circle cx="401.0" cy="280.5" r="4.17"/><circle cx="401.0" cy="283.8" r="4.17"/><circle cx="401.0" cy="281.6" r="4.17"/><circle cx="401.0" cy="280.6" r="4.17"/><circle cx="401.0" cy="281.4" r="4.17"/><circle cx="401.0" cy="288.0" r="4.17"/><circle cx="401.0" cy="74.5" r="4.17"/><circle cx="401.0" cy="288.7" r="4.17"/><circle cx="401.0" cy="284.1" r="4.17"/><circle cx="401.0" cy="281.8" r="4.17"/><circle cx="401.0" cy="284.3" r="4.17"/><circle cx="401.0" cy="74.6" r="4.17"/><circle cx="401.0" cy="278.6" r="4.17"/><circle cx="401.0" cy="280.7" r="4.17"/><circle cx="401.0" cy="284.0" r="4.17"/><circle cx="401.0" cy="284.7" r="4.17"/><circle cx="401.0" cy="283.7" r="4.17"/><circle cx="401.0" cy="291.4" r="4.17"/><circle cx="401.0" cy="284.2" r="4.17"/><circle cx="401.0" cy="283.2" r="4.17"/><circle cx="401.0" cy="289.7" r="4.17"/><circle cx="401.0" cy="282.7" r="4.17"/><circle cx="401.0" cy="283.6" r="4.17"/><circle cx="401.0" cy="283.3" r="4.17"/><circle cx="401.0" cy="286.6" r="4.17"/><circle cx="401.0" cy="72.8" r="4.17"/><circle cx="401.0" cy="289.4" r="4.17"/><circle cx="401.0" cy="283.8" r="4.17"/><circle cx="401.0" cy="282.4" r="4.17"/><circle cx="401.0" cy="280.8" r="4.17"/><circle cx="401.0" cy="280.7" r="4.17"/><circle cx="401.0" cy="285.6" r="4.17"/><circle cx="401.0" cy="288.7" r="4.17"/><circle cx="401.0" cy="289.7" r="4.17"/><circle cx="401.2" cy="286.8" r="4.17"/><circle cx="401.4" cy="281.1" r="4.17"/><circle cx="401.6" cy="81.0" r="4.17"/><circle cx="401.8" cy="284.6" r="4.17"/><circle cx="401.9" cy="78.2" r="4.17"/><circle cx="402.1" cy="290.3" r="4.17"/><circle cx="402.3" cy="74.4" r="4.17"/><circle cx="402.5" cy="289.7" r="4.17"/><circle cx="402.7" cy="81.3" r="4.17"/><circle cx="402.9" cy="286.4" r="4.17"/><circle cx="403.1" cy="300.1" r="4.17"/><circle cx="403.2" cy="287.1" r="4.17"/><circle cx="403.4" cy="285.6" r="4.17"/><circle cx="403.6" cy="291.7" r="4.17"/><circle cx="403.8" cy="292.4" r="4.17"/><circle cx="404.0" cy="283.5" r="4.17"/><circle cx="404.2" cy="280.1" r="4.17"/><circle cx="404.4" cy="73.7" r="4.17"/><circle cx="404.5" cy="280.9" r="4.17"/><circle cx="404.7" cy="290.9" r="4.17"/><circle cx="404.9" cy="282.3" r="4.17"/><circle cx="405.1" cy="284.0" r="4.17"/><circle cx="405.3" cy="73.8" r="4.17"/><circle cx="405.5" cy="78.1" r="4.17"/><circle cx="405.6" cy="81.7" r="4.17"/><circle cx="405.8" cy="288.4" r="4.17"/><circle cx="406.0" cy="76.9" r="4.17"/><circle cx="406.2" cy="285.9" r="4.17"/><circle cx="406.4" cy="287.7" r="4.17"/><circle cx="406.6" cy="283.8" r="4.17"/><circle cx="406.7" cy="288.4" r="4.17"/><circle cx="406.9" cy="281.3" r="4.17"/><circle cx="407.1" cy="280.0" r="4.17"/><circle cx="407.3" cy="78.1" r="4.17"/><circle cx="407.5" cy="287.8" r="4.17"/><circle cx="407.6" cy="75.0" r="4.17"/><circle cx="407.8" cy="77.8" r="4.17"/><circle cx="408.0" cy="284.4" r="4.17"/><circle cx="408.2" cy="290.2" r="4.17"/><circle cx="408.3" cy="287.7" r="4.17"/><circle cx="408.5" cy="280.2" r="4.17"/><circle cx="408.7" cy="75.3" r="4.17"/><circle cx="408.9" cy="283.3" r="4.17"/><circle cx="409.1" cy="75.9" r="4.17"/><circle cx="409.2" cy="280.8" r="4.17"/><circle cx="409.4" cy="288.1" r="4.17"/><circle cx="409.6" cy="285.2" r="4.17"/><circle cx="409.8" cy="287.4" r="4.17"/><circle cx="409.9" cy="281.5" r="4.17"/><circle cx="410.1" cy="289.2" r="4.17"/><circle cx="410.3" cy="285.3" r="4.17"/><circle cx="410.4" cy="285.3" r="4.17"/><circle cx="410.6" cy="285.3" r="4.17"/><circle cx="410.8" cy="282.2" r="4.17"/><circle cx="411.0" cy="77.9" r="4.17"/><circle cx="411.1" cy="286.8" r="4.17"/><circle cx="411.3" cy="78.7" r="4.17"/><circle cx="411.5" cy="282.6" r="4.17"/><circle cx="411.6" cy="286.2" r="4.17"/><circle cx="411.8" cy="280.5" r="4.17"/><circle cx="412.0" cy="281.2" r="4.17"/><circle cx="412.1" cy="76.1" r="4.17"/><circle cx="412.3" cy="278.9" r="4.17"/><circle cx="412.5" cy="286.3" r="4.17"/><circle cx="412.6" cy="289.0" r="4.17"/><circle cx="412.8" cy="280.8" r="4.17"/><circle cx="412.9" cy="282.1" r="4.17"/><circle cx="413.1" cy="295.4" r="4.17"/><circle cx="413.3" cy="290.5" r="4.17"/><circle cx="413.4" cy="81.9" r="4.17"/><circle cx="413.6" cy="280.6" r="4.17"/><circle cx="413.7" cy="289.5" r="4.17"/><circle cx="413.9" cy="288.4" r="4.17"/><circle cx="414.1" cy="80.4" r="4.17"/><circle cx="414.2" cy="282.1" r="4.17"/><circle cx="414.4" cy="297.1" r="4.17"/><circle cx="414.5" cy="80.5" r="4.17"/><circle cx="414.7" cy="77.8" r="4.17"/><circle cx="414.8" cy="285.0" r="4.17"/><circle cx="415.0" cy="79.6" r="4.17"/><circle cx="415.1" cy="292.7" r="4.17"/><circle cx="415.3" cy="76.9" r="4.17"/><circle cx="415.4" cy="290.0" r="4.17"/><circle cx="415.6" cy="293.0" r="4.17"/><circle cx="415.7" cy="284.3" r="4.17"/><circle cx="415.9" cy="288.7" r="4.17"/><circle cx="416.0" cy="287.0" r="4.17"/><circle cx="416.2" cy="283.7" r="4.17"/><circle cx="416.3" cy="285.5" r="4.17"/><circle cx="416.5" cy="282.6" r="4.17"/><circle cx="416.6" cy="294.4" r="4.17"/><circle cx="416.8" cy="286.6" r="4.17"/><circle cx="416.9" cy="76.6" r="4.17"/><circle cx="417.0" cy="292.4" r="4.17"/><circle cx="417.2" cy="283.3" r="4.17"/><circle cx="417.3" cy="283.7" r="4.17"/><circle cx="417.5" cy="280.8" r="4.17"/><circle cx="417.6" cy="75.3" r="4.17"/><circle cx="417.7" cy="79.7" r="4.17"/><circle cx="417.9" cy="288.5" r="4.17"/><circle cx="418.0" cy="292.4" r="4.17"/><circle cx="418.1" cy="291.8" r="4.17"/><circle cx="418.3" cy="286.1" r="4.17"/><circle cx="418.4" cy="288.3" r="4.17"/><circle cx="418.5" cy="281.2" r="4.17"/><circle cx="418.7" cy="297.0" r="4.17"/><circle cx="418.8" cy="292.6" r="4.17"/><circle cx="418.9" cy="290.9" r="4.17"/><circle cx="419.0" cy="286.0" r="4.17"/><circle cx="419.2" cy="293.1" r="4.17"/><circle cx="419.3" cy="78.1" r="4.17"/><circle cx="419.4" cy="289.9" r="4.17"/><circle cx="419.5" cy="282.7" r="4.17"/><circle cx="419.7" cy="283.2" r="4.17"/><circle cx="419.8" cy="76.3" r="4.17"/><circle cx="419.9" cy="288.0" r="4.17"/><circle cx="420.0" cy="292.7" r="4.17"/><circle cx="420.1" cy="284.3" r="4.17"/><circle cx="420.2" cy="285.3" r="4.17"/><circle cx="420.4" cy="289.0" r="4.17"/><circle cx="420.5" cy="288.8" r="4.17"/><circle cx="420.6" cy="287.6" r="4.17"/><circle cx="420.7" cy="73.2" r="4.17"/><circle cx="420.8" cy="81.2" r="4.17"/><circle cx="420.9" cy="293.1" r="4.17"/><circle cx="421.0" cy="79.8" r="4.17"/><circle cx="421.1" cy="286.2" r="4.17"/><circle cx="421.3" cy="78.8" r="4.17"/><circle cx="421.4" cy="284.7" r="4.17"/><circle cx="421.5" cy="290.1" r="4.17"/><circle cx="421.6" cy="288.5" r="4.17"/><circle cx="421.7" cy="287.9" r="4.17"/><circle cx="421.8" cy="291.9" r="4.17"/><circle cx="421.9" cy="292.0" r="4.17"/><circle cx="422.0" cy="288.8" r="4.17"/><circle cx="422.1" cy="285.6" r="4.17"/><circle cx="422.2" cy="287.1" r="4.17"/><circle cx="422.3" cy="287.6" r="4.17"/><circle cx="422.4" cy="282.7" r="4.17"/><circle cx="422.5" cy="287.3" r="4.17"/><circle cx="422.6" cy="79.3" r="4.17"/><circle cx="422.7" cy="285.1" r="4.17"/><circle cx="422.8" cy="290.5" r="4.17"/><circle cx="422.9" cy="291.0" r="4.17"/><circle cx="423.0" cy="287.1" r="4.17"/><circle cx="423.1" cy="299.7" r="4.17"/><circle cx="423.2" cy="81.5" r="4.17"/><circle cx="423.3" cy="285.2" r="4.17"/><circle cx="423.4" cy="92.4" r="4.17"/><circle cx="423.5" cy="290.4" r="4.17"/><circle cx="423.6" cy="293.6" r="4.17"/><circle cx="423.7" cy="287.5" r="4.17"/><circle cx="423.8" cy="285.9" r="4.17"/><circle cx="423.9" cy="288.9" r="4.17"/><circle cx="424.0" cy="84.3" r="4.17"/><circle cx="424.1" cy="293.7" r="4.17"/><circle cx="424.2" cy="289.3" r="4.17"/><circle cx="424.3" cy="283.5" r="4.17"/><circle cx="424.4" cy="283.1" r="4.17"/><circle cx="424.5" cy="284.9" r="4.17"/><circle cx="424.6" cy="285.3" r="4.17"/><circle cx="424.7" cy="291.7" r="4.17"/><circle cx="424.8" cy="289.7" r="4.17"/><circle cx="424.8" cy="288.5" r="4.17"/><circle cx="424.9" cy="287.5" r="4.17"/><circle cx="425.0" cy="287.8" r="4.17"/><circle cx="425.1" cy="83.2" r="4.17"/><circle cx="425.2" cy="299.0" r="4.17"/><circle cx="425.3" cy="294.1" r="4.17"/><circle cx="425.4" cy="283.9" r="4.17"/><circle cx="425.5" cy="286.3" r="4.17"/><circle cx="425.6" cy="80.3" r="4.17"/><circle cx="425.6" cy="296.2" r="4.17"/><circle cx="425.7" cy="78.8" r="4.17"/><circle cx="425.8" cy="284.5" r="4.17"/><circle cx="425.9" cy="81.9" r="4.17"/><circle cx="426.0" cy="295.7" r="4.17"/><circle cx="426.1" cy="79.7" r="4.17"/><circle cx="426.2" cy="83.4" r="4.17"/><circle cx="426.2" cy="290.5" r="4.17"/><circle cx="426.3" cy="79.4" r="4.17"/><circle cx="426.4" cy="79.8" r="4.17"/><circle cx="426.5" cy="81.3" r="4.17"/><circle cx="426.6" cy="287.6" r="4.17"/><circle cx="426.7" cy="288.4" r="4.17"/><circle cx="426.7" cy="80.6" r="4.17"/><circle cx="426.8" cy="294.3" r="4.17"/><circle cx="426.9" cy="293.8" r="4.17"/><circle cx="427.0" cy="291.3" r="4.17"/><circle cx="427.1" cy="288.7" r="4.17"/><circle cx="427.2" cy="293.9" r="4.17"/><circle cx="427.2" cy="88.8" r="4.17"/><circle cx="427.3" cy="284.2" r="4.17"/><circle cx="427.4" cy="283.7" r="4.17"/><circle cx="427.5" cy="287.0" r="4.17"/><circle cx="427.6" cy="288.7" r="4.17"/><circle cx="427.6" cy="290.0" r="4.17"/><circle cx="427.7" cy="297.0" r="4.17"/><circle cx="427.8" cy="80.3" r="4.17"/><circle cx="427.9" cy="284.6" r="4.17"/><circle cx="428.0" cy="288.2" r="4.17"/><circle cx="428.0" cy="294.2" r="4.17"/><circle cx="428.1" cy="285.2" r="4.17"/><circle cx="428.2" cy="288.5" r="4.17"/><circle cx="428.3" cy="85.2" r="4.17"/><circle cx="428.3" cy="291.9" r="4.17"/><circle cx="428.4" cy="83.0" r="4.17"/><circle cx="428.5" cy="296.9" r="4.17"/><circle cx="428.6" cy="82.8" r="4.17"/><circle cx="428.7" cy="291.7" r="4.17"/><circle cx="428.7" cy="288.9" r="4.17"/><circle cx="428.8" cy="295.7" r="4.17"/><circle cx="428.9" cy="288.6" r="4.17"/><circle cx="429.0" cy="290.9" r="4.17"/><circle cx="429.0" cy="287.1" r="4.17"/><circle cx="429.1" cy="295.3" r="4.17"/><circle cx="429.2" cy="283.8" r="4.17"/><circle cx="429.3" cy="293.6" r="4.17"/><circle cx="429.3" cy="80.9" r="4.17"/><circle cx="429.4" cy="81.0" r="4.17"/><circle cx="429.5" cy="289.9" r="4.17"/><circle cx="429.6" cy="92.1" r="4.17"/><circle cx="429.6" cy="285.8" r="4.17"/><circle cx="429.7" cy="296.9" r="4.17"/><circle cx="429.8" cy="290.8" r="4.17"/><circle cx="429.9" cy="84.5" r="4.17"/><circle cx="429.9" cy="83.3" r="4.17"/><circle cx="430.0" cy="83.3" r="4.17"/><circle cx="430.1" cy="286.0" r="4.17"/><circle cx="430.2" cy="294.5" r="4.17"/><circle cx="430.2" cy="297.5" r="4.17"/><circle cx="430.3" cy="81.2" r="4.17"/><circle cx="430.4" cy="82.2" r="4.17"/><circle cx="430.5" cy="82.1" r="4.17"/><circle cx="430.5" cy="288.1" r="4.17"/><circle cx="430.6" cy="286.0" r="4.17"/><circle cx="430.7" cy="292.3" r="4.17"/><circle cx="430.8" cy="80.5" r="4.17"/><circle cx="430.8" cy="289.5" r="4.17"/><circle cx="430.9" cy="297.3" r="4.17"/><circle cx="431.0" cy="293.2" r="4.17"/><circle cx="431.1" cy="287.5" r="4.17"/><circle cx="431.1" cy="86.3" r="4.17"/><circle cx="431.2" cy="88.4" r="4.17"/><circle cx="431.3" cy="299.3" r="4.17"/><circle cx="431.4" cy="84.3" r="4.17"/><circle cx="431.4" cy="284.6" r="4.17"/><circle cx="431.5" cy="81.1" r="4.17"/><circle cx="431.6" cy="297.1" r="4.17"/><circle cx="431.6" cy="84.0" r="4.17"/><circle cx="431.7" cy="85.8" r="4.17"/><circle cx="431.8" cy="81.4" r="4.17"/><circle cx="431.9" cy="89.8" r="4.17"/><circle cx="431.9" cy="85.5" r="4.17"/><circle cx="432.0" cy="296.0" r="4.17"/><circle cx="432.1" cy="291.6" r="4.17"/><circle cx="432.2" cy="297.3" r="4.17"/><circle cx="432.2" cy="90.3" r="4.17"/><circle cx="432.3" cy="282.2" r="4.17"/><circle cx="432.4" cy="84.0" r="4.17"/><circle cx="432.5" cy="304.2" r="4.17"/><circle cx="432.6" cy="82.5" r="4.17"/><circle cx="432.6" cy="301.0" r="4.17"/><circle cx="432.7" cy="82.5" r="4.17"/><circle cx="432.8" cy="297.2" r="4.17"/><circle cx="432.9" cy="297.5" r="4.17"/><circle cx="432.9" cy="89.6" r="4.17"/><circle cx="433.0" cy="288.7" r="4.17"/><circle cx="433.1" cy="293.7" r="4.17"/><circle cx="433.2" cy="82.9" r="4.17"/><circle cx="433.2" cy="285.8" r="4.17"/><circle cx="433.3" cy="287.3" r="4.17"/><circle cx="433.4" cy="292.1" r="4.17"/><circle cx="433.5" cy="288.4" r="4.17"/><circle cx="433.5" cy="82.2" r="4.17"/><circle cx="433.6" cy="288.0" r="4.17"/><circle cx="433.7" cy="289.1" r="4.17"/><circle cx="433.8" cy="293.2" r="4.17"/><circle cx="433.9" cy="289.2" r="4.17"/><circle cx="433.9" cy="293.2" r="4.17"/><circle cx="434.0" cy="297.5" r="4.17"/><circle cx="434.1" cy="296.1" r="4.17"/><circle cx="434.2" cy="80.9" r="4.17"/><circle cx="434.3" cy="286.3" r="4.17"/><circle cx="434.3" cy="290.8" r="4.17"/><circle cx="434.4" cy="298.5" r="4.17"/><circle cx="434.5" cy="291.8" r="4.17"/><circle cx="434.6" cy="82.6" r="4.17"/><circle cx="434.7" cy="296.1" r="4.17"/><circle cx="434.7" cy="293.7" r="4.17"/><circle cx="434.8" cy="299.6" r="4.17"/><circle cx="434.9" cy="84.5" r="4.17"/><circle cx="435.0" cy="295.3" r="4.17"/><circle cx="435.1" cy="83.1" r="4.17"/><circle cx="435.2" cy="83.1" r="4.17"/><circle cx="435.2" cy="81.1" r="4.17"/><circle cx="435.3" cy="291.7" r="4.17"/><circle cx="435.4" cy="285.4" r="4.17"/><circle cx="435.5" cy="300.7" r="4.17"/><circle cx="435.6" cy="289.2" r="4.17"/><circle cx="435.7" cy="83.2" r="4.17"/><circle cx="435.7" cy="290.4" r="4.17"/><circle cx="435.8" cy="300.8" r="4.17"/><circle cx="435.9" cy="283.1" r="4.17"/><circle cx="436.0" cy="294.4" r="4.17"/><circle cx="436.1" cy="297.6" r="4.17"/><circle cx="436.2" cy="86.1" r="4.17"/><circle cx="436.3" cy="292.0" r="4.17"/><circle cx="436.3" cy="83.6" r="4.17"/><circle cx="436.4" cy="292.3" r="4.17"/><circle cx="436.5" cy="293.9" r="4.17"/><circle cx="436.6" cy="292.4" r="4.17"/><circle cx="436.7" cy="83.1" r="4.17"/><circle cx="436.8" cy="81.8" r="4.17"/><circle cx="436.9" cy="297.0" r="4.17"/><circle cx="437.0" cy="291.8" r="4.17"/><circle cx="437.1" cy="96.5" r="4.17"/><circle cx="437.2" cy="298.1" r="4.17"/><circle cx="437.2" cy="87.2" r="4.17"/><circle cx="437.3" cy="85.8" r="4.17"/><circle cx="437.4" cy="83.5" r="4.17"/><circle cx="437.5" cy="291.2" r="4.17"/><circle cx="437.6" cy="83.3" r="4.17"/><circle cx="437.7" cy="298.1" r="4.17"/><circle cx="437.8" cy="88.2" r="4.17"/><circle cx="437.9" cy="302.2" r="4.17"/><circle cx="438.0" cy="291.6" r="4.17"/><circle cx="438.1" cy="85.1" r="4.17"/><circle cx="438.2" cy="291.2" r="4.17"/><circle cx="438.3" cy="289.8" r="4.17"/><circle cx="438.4" cy="86.1" r="4.17"/><circle cx="438.5" cy="293.7" r="4.17"/><circle cx="438.6" cy="291.0" r="4.17"/><circle cx="438.7" cy="299.6" r="4.17"/><circle cx="438.8" cy="296.3" r="4.17"/><circle cx="438.9" cy="87.0" r="4.17"/><circle cx="439.0" cy="85.2" r="4.17"/><circle cx="439.1" cy="298.6" r="4.17"/><circle cx="439.2" cy="83.1" r="4.17"/><circle cx="439.3" cy="299.8" r="4.17"/><circle cx="439.4" cy="291.3" r="4.17"/><circle cx="439.5" cy="299.9" r="4.17"/><circle cx="439.6" cy="89.9" r="4.17"/><circle cx="439.7" cy="299.3" r="4.17"/><circle cx="439.8" cy="297.2" r="4.17"/><circle cx="439.9" cy="299.3" r="4.17"/><circle cx="440.0" cy="294.6" r="4.17"/><circle cx="440.1" cy="84.1" r="4.17"/><circle cx="440.2" cy="286.9" r="4.17"/><circle cx="440.3" cy="304.3" r="4.17"/><circle cx="440.5" cy="295.9" r="4.17"/><circle cx="440.6" cy="84.3" r="4.17"/><circle cx="440.7" cy="292.3" r="4.17"/><circle cx="440.8" cy="291.5" r="4.17"/><circle cx="440.9" cy="293.6" r="4.17"/><circle cx="441.0" cy="288.0" r="4.17"/><circle cx="441.1" cy="92.0" r="4.17"/><circle cx="441.2" cy="85.6" r="4.17"/><circle cx="441.4" cy="293.8" r="4.17"/><circle cx="441.5" cy="288.2" r="4.17"/><circle cx="441.6" cy="84.4" r="4.17"/><circle cx="441.7" cy="84.5" r="4.17"/><circle cx="441.8" cy="293.7" r="4.17"/><circle cx="442.0" cy="83.2" r="4.17"/><circle cx="442.1" cy="82.3" r="4.17"/><circle cx="442.2" cy="86.2" r="4.17"/><circle cx="442.3" cy="290.9" r="4.17"/><circle cx="442.4" cy="85.8" r="4.17"/><circle cx="442.6" cy="301.0" r="4.17"/><circle cx="442.7" cy="296.5" r="4.17"/><circle cx="442.8" cy="287.7" r="4.17"/><circle cx="442.9" cy="295.5" r="4.17"/><circle cx="443.1" cy="291.1" r="4.17"/><circle cx="443.2" cy="297.8" r="4.17"/><circle cx="443.3" cy="84.3" r="4.17"/><circle cx="443.4" cy="295.1" r="4.17"/><circle cx="443.6" cy="290.3" r="4.17"/><circle cx="443.7" cy="304.6" r="4.17"/><circle cx="443.8" cy="292.5" r="4.17"/><circle cx="443.9" cy="84.3" r="4.17"/><circle cx="444.1" cy="289.0" r="4.17"/><circle cx="444.2" cy="301.4" r="4.17"/><circle cx="444.3" cy="87.1" r="4.17"/><circle cx="444.5" cy="300.9" r="4.17"/><circle cx="444.6" cy="297.8" r="4.17"/><circle cx="444.7" cy="295.3" r="4.17"/><circle cx="444.9" cy="300.3" r="4.17"/><circle cx="445.0" cy="292.2" r="4.17"/><circle cx="445.1" cy="292.7" r="4.17"/><circle cx="445.2" cy="93.0" r="4.17"/><circle cx="445.4" cy="298.0" r="4.17"/><circle cx="445.5" cy="297.8" r="4.17"/><circle cx="445.6" cy="293.4" r="4.17"/><circle cx="445.8" cy="302.3" r="4.17"/><circle cx="445.9" cy="291.6" r="4.17"/><circle cx="446.0" cy="295.2" r="4.17"/><circle cx="446.2" cy="300.2" r="4.17"/><circle cx="446.3" cy="294.9" r="4.17"/><circle cx="446.5" cy="302.8" r="4.17"/><circle cx="446.6" cy="299.5" r="4.17"/><circle cx="446.7" cy="299.6" r="4.17"/><circle cx="446.9" cy="292.4" r="4.17"/><circle cx="447.0" cy="89.4" r="4.17"/><circle cx="447.1" cy="297.9" r="4.17"/><circle cx="447.3" cy="300.0" r="4.17"/><circle cx="447.4" cy="299.5" r="4.17"/><circle cx="447.5" cy="287.7" r="4.17"/><circle cx="447.7" cy="84.2" r="4.17"/><circle cx="447.8" cy="85.4" r="4.17"/><circle cx="448.0" cy="296.9" r="4.17"/><circle cx="448.1" cy="291.8" r="4.17"/><circle cx="448.2" cy="90.5" r="4.17"/><circle cx="448.4" cy="88.3" r="4.17"/><circle cx="448.5" cy="86.4" r="4.17"/><circle cx="448.6" cy="85.2" r="4.17"/><circle cx="448.8" cy="290.7" r="4.17"/><circle cx="448.9" cy="294.1" r="4.17"/><circle cx="449.1" cy="298.3" r="4.17"/><circle cx="449.2" cy="298.1" r="4.17"/><circle cx="449.3" cy="95.7" r="4.17"/><circle cx="449.5" cy="89.1" r="4.17"/><circle cx="449.6" cy="293.6" r="4.17"/><circle cx="449.8" cy="95.1" r="4.17"/><circle cx="449.9" cy="297.1" r="4.17"/><circle cx="450.0" cy="96.6" r="4.17"/><circle cx="450.2" cy="82.5" r="4.17"/><circle cx="450.3" cy="86.7" r="4.17"/><circle cx="450.4" cy="293.3" r="4.17"/><circle cx="450.6" cy="300.0" r="4.17"/><circle cx="450.7" cy="96.9" r="4.17"/><circle cx="450.9" cy="293.5" r="4.17"/><circle cx="451.0" cy="89.9" r="4.17"/><circle cx="451.1" cy="90.6" r="4.17"/><circle cx="451.3" cy="297.8" r="4.17"/><circle cx="451.4" cy="91.7" r="4.17"/><circle cx="451.5" cy="295.3" r="4.17"/><circle cx="451.7" cy="91.6" r="4.17"/><circle cx="451.8" cy="298.1" r="4.17"/><circle cx="452.0" cy="294.7" r="4.17"/><circle cx="452.1" cy="301.6" r="4.17"/><circle cx="452.2" cy="298.1" r="4.17"/><circle cx="452.4" cy="99.2" r="4.17"/><circle cx="452.5" cy="294.5" r="4.17"/><circle cx="452.6" cy="92.5" r="4.17"/><circle cx="452.8" cy="92.3" r="4.17"/><circle cx="452.9" cy="296.3" r="4.17"/><circle cx="453.0" cy="295.4" r="4.17"/><circle cx="453.2" cy="304.7" r="4.17"/><circle cx="453.3" cy="300.7" r="4.17"/><circle cx="453.5" cy="293.9" r="4.17"/><circle cx="453.6" cy="293.4" r="4.17"/><circle cx="453.7" cy="289.2" r="4.17"/><circle cx="453.9" cy="91.8" r="4.17"/><circle cx="454.0" cy="89.4" r="4.17"/><circle cx="454.1" cy="303.1" r="4.17"/><circle cx="454.2" cy="295.2" r="4.17"/><circle cx="454.4" cy="292.0" r="4.17"/><circle cx="454.5" cy="90.7" r="4.17"/><circle cx="454.6" cy="95.3" r="4.17"/><circle cx="454.8" cy="296.3" r="4.17"/><circle cx="454.9" cy="297.3" r="4.17"/><circle cx="455.0" cy="289.8" r="4.17"/><circle cx="455.2" cy="92.3" r="4.17"/><circle cx="455.3" cy="88.7" r="4.17"/><circle cx="455.4" cy="296.3" r="4.17"/><circle cx="455.5" cy="296.8" r="4.17"/><circle cx="455.7" cy="98.5" r="4.17"/><circle cx="455.8" cy="296.8" r="4.17"/><circle cx="455.9" cy="86.3" r="4.17"/><circle cx="456.0" cy="307.1" r="4.17"/><circle cx="456.2" cy="93.5" r="4.17"/><circle cx="456.3" cy="294.6" r="4.17"/><circle cx="456.4" cy="290.7" r="4.17"/><circle cx="456.5" cy="93.4" r="4.17"/><circle cx="456.7" cy="297.4" r="4.17"/><circle cx="456.8" cy="295.4" r="4.17"/><circle cx="456.9" cy="291.9" r="4.17"/><circle cx="457.0" cy="297.6" r="4.17"/><circle cx="457.1" cy="298.9" r="4.17"/><circle cx="457.3" cy="302.9" r="4.17"/><circle cx="457.4" cy="85.4" r="4.17"/><circle cx="457.5" cy="305.7" r="4.17"/><circle cx="457.6" cy="306.0" r="4.17"/><circle cx="457.7" cy="308.1" r="4.17"/><circle cx="457.9" cy="91.0" r="4.17"/><circle cx="458.0" cy="301.1" r="4.17"/><circle cx="458.1" cy="95.8" r="4.17"/><circle cx="458.2" cy="93.2" r="4.17"/><circle cx="458.3" cy="302.1" r="4.17"/><circle cx="458.4" cy="296.6" r="4.17"/><circle cx="458.5" cy="302.9" r="4.17"/><circle cx="458.7" cy="297.5" r="4.17"/><circle cx="458.8" cy="99.6" r="4.17"/><circle cx="458.9" cy="298.1" r="4.17"/><circle cx="459.0" cy="302.7" r="4.17"/><circle cx="459.1" cy="100.4" r="4.17"/><circle cx="459.2" cy="88.0" r="4.17"/><circle cx="459.3" cy="302.0" r="4.17"/><circle cx="459.5" cy="298.3" r="4.17"/><circle cx="459.6" cy="87.4" r="4.17"/><circle cx="459.7" cy="303.5" r="4.17"/><circle cx="459.8" cy="101.6" r="4.17"/><circle cx="459.9" cy="307.1" r="4.17"/><circle cx="460.0" cy="300.0" r="4.17"/><circle cx="460.1" cy="299.4" r="4.17"/><circle cx="460.2" cy="296.6" r="4.17"/><circle cx="460.3" cy="306.9" r="4.17"/><circle cx="460.5" cy="88.0" r="4.17"/><circle cx="460.6" cy="307.3" r="4.17"/><circle cx="460.7" cy="308.5" r="4.17"/><circle cx="460.8" cy="294.2" r="4.17"/><circle cx="460.9" cy="293.0" r="4.17"/><circle cx="461.0" cy="309.2" r="4.17"/><circle cx="461.1" cy="305.6" r="4.17"/><circle cx="461.2" cy="296.4" r="4.17"/><circle cx="461.3" cy="299.7" r="4.17"/><circle cx="461.4" cy="89.4" r="4.17"/><circle cx="461.5" cy="304.0" r="4.17"/><circle cx="461.7" cy="88.0" r="4.17"/><circle cx="461.8" cy="294.3" r="4.17"/><circle cx="461.9" cy="311.9" r="4.17"/><circle cx="462.0" cy="294.0" r="4.17"/><circle cx="462.1" cy="98.6" r="4.17"/><circle cx="462.2" cy="297.4" r="4.17"/><circle cx="462.3" cy="307.2" r="4.17"/><circle cx="462.4" cy="306.4" r="4.17"/><circle cx="462.5" cy="294.9" r="4.17"/><circle cx="462.6" cy="300.2" r="4.17"/><circle cx="462.7" cy="306.9" r="4.17"/><circle cx="462.9" cy="102.8" r="4.17"/><circle cx="463.0" cy="302.9" r="4.17"/><circle cx="463.1" cy="304.7" r="4.17"/><circle cx="463.2" cy="306.6" r="4.17"/><circle cx="463.3" cy="309.9" r="4.17"/><circle cx="463.4" cy="96.3" r="4.17"/><circle cx="463.5" cy="95.6" r="4.17"/><circle cx="463.6" cy="310.4" r="4.17"/><circle cx="463.7" cy="302.0" r="4.17"/><circle cx="463.8" cy="309.5" r="4.17"/><circle cx="464.0" cy="303.3" r="4.17"/><circle cx="464.1" cy="305.5" r="4.17"/><circle cx="464.2" cy="301.6" r="4.17"/><circle cx="464.3" cy="95.5" r="4.17"/><circle cx="464.4" cy="303.6" r="4.17"/><circle cx="464.5" cy="301.1" r="4.17"/><circle cx="464.6" cy="101.0" r="4.17"/><circle cx="464.7" cy="309.8" r="4.17"/><circle cx="464.8" cy="92.2" r="4.17"/><circle cx="465.0" cy="304.2" r="4.17"/><circle cx="465.1" cy="306.5" r="4.17"/><circle cx="465.2" cy="96.0" r="4.17"/><circle cx="465.3" cy="89.2" r="4.17"/><circle cx="465.4" cy="90.0" r="4.17"/><circle cx="465.5" cy="302.5" r="4.17"/><circle cx="465.6" cy="97.7" r="4.17"/><circle cx="465.8" cy="95.7" r="4.17"/><circle cx="465.9" cy="91.1" r="4.17"/><circle cx="466.0" cy="310.0" r="4.17"/><circle cx="466.1" cy="95.1" r="4.17"/><circle cx="466.2" cy="298.5" r="4.17"/><circle cx="466.3" cy="300.0" r="4.17"/><circle cx="466.5" cy="93.9" r="4.17"/><circle cx="466.6" cy="296.9" r="4.17"/><circle cx="466.7" cy="312.3" r="4.17"/><circle cx="466.8" cy="303.5" r="4.17"/><circle cx="466.9" cy="300.9" r="4.17"/><circle cx="467.1" cy="93.1" r="4.17"/><circle cx="467.2" cy="314.9" r="4.17"/><circle cx="467.3" cy="95.2" r="4.17"/><circle cx="467.4" cy="301.0" r="4.17"/><circle cx="467.5" cy="302.7" r="4.17"/><circle cx="467.7" cy="297.4" r="4.17"/><circle cx="467.8" cy="316.5" r="4.17"/><circle cx="467.9" cy="305.2" r="4.17"/><circle cx="468.0" cy="304.8" r="4.17"/><circle cx="468.2" cy="309.6" r="4.17"/><circle cx="468.3" cy="299.3" r="4.17"/><circle cx="468.4" cy="297.7" r="4.17"/><circle cx="468.5" cy="298.9" r="4.17"/><circle cx="468.7" cy="105.6" r="4.17"/><circle cx="468.8" cy="93.4" r="4.17"/><circle cx="468.9" cy="92.4" r="4.17"/><circle cx="469.0" cy="308.3" r="4.17"/><circle cx="469.2" cy="303.5" r="4.17"/><circle cx="469.3" cy="98.3" r="4.17"/><circle cx="469.4" cy="300.1" r="4.17"/><circle cx="469.6" cy="302.8" r="4.17"/><circle cx="469.7" cy="300.5" r="4.17"/><circle cx="469.8" cy="305.1" r="4.17"/><circle cx="470.0" cy="98.9" r="4.17"/><circle cx="470.1" cy="313.3" r="4.17"/><circle cx="470.2" cy="307.6" r="4.17"/><circle cx="470.4" cy="307.9" r="4.17"/><circle cx="470.5" cy="93.8" r="4.17"/><circle cx="470.7" cy="318.9" r="4.17"/><circle cx="470.8" cy="104.9" r="4.17"/><circle cx="470.9" cy="305.0" r="4.17"/><circle cx="471.1" cy="313.2" r="4.17"/><circle cx="471.2" cy="307.5" r="4.17"/><circle cx="471.4" cy="311.7" r="4.17"/><circle cx="471.5" cy="95.1" r="4.17"/><circle cx="471.7" cy="307.3" r="4.17"/><circle cx="471.8" cy="315.2" r="4.17"/><circle cx="471.9" cy="309.0" r="4.17"/><circle cx="472.1" cy="300.8" r="4.17"/><circle cx="472.2" cy="108.8" r="4.17"/><circle cx="472.4" cy="310.8" r="4.17"/><circle cx="472.5" cy="300.7" r="4.17"/><circle cx="472.7" cy="311.4" r="4.17"/><circle cx="472.8" cy="104.1" r="4.17"/><circle cx="473.0" cy="310.2" r="4.17"/><circle cx="473.1" cy="305.8" r="4.17"/><circle cx="473.3" cy="313.8" r="4.17"/><circle cx="473.5" cy="313.0" r="4.17"/><circle cx="473.6" cy="305.7" r="4.17"/><circle cx="473.8" cy="103.2" r="4.17"/><circle cx="473.9" cy="313.0" r="4.17"/><circle cx="474.1" cy="304.8" r="4.17"/><circle cx="474.2" cy="313.8" r="4.17"/><circle cx="474.4" cy="94.4" r="4.17"/><circle cx="474.6" cy="96.5" r="4.17"/><circle cx="474.7" cy="310.7" r="4.17"/><circle cx="474.9" cy="316.7" r="4.17"/><circle cx="475.1" cy="321.7" r="4.17"/><circle cx="475.2" cy="310.3" r="4.17"/><circle cx="475.4" cy="308.6" r="4.17"/><circle cx="475.6" cy="103.6" r="4.17"/><circle cx="475.7" cy="105.5" r="4.17"/><circle cx="475.9" cy="306.1" r="4.17"/><circle cx="476.1" cy="310.7" r="4.17"/><circle cx="476.3" cy="104.6" r="4.17"/><circle cx="476.4" cy="309.5" r="4.17"/><circle cx="476.6" cy="111.7" r="4.17"/><circle cx="476.8" cy="102.9" r="4.17"/><circle cx="477.0" cy="310.0" r="4.17"/><circle cx="477.2" cy="313.3" r="4.17"/><circle cx="477.3" cy="314.8" r="4.17"/><circle cx="477.5" cy="305.3" r="4.17"/><circle cx="477.7" cy="304.7" r="4.17"/><circle cx="477.9" cy="304.2" r="4.17"/><circle cx="478.1" cy="308.1" r="4.17"/><circle cx="478.3" cy="96.9" r="4.17"/><circle cx="478.5" cy="303.7" r="4.17"/><circle cx="478.7" cy="314.4" r="4.17"/><circle cx="478.9" cy="315.3" r="4.17"/><circle cx="479.1" cy="302.2" r="4.17"/><circle cx="479.3" cy="113.2" r="4.17"/><circle cx="479.6" cy="315.5" r="4.17"/><circle cx="479.8" cy="306.4" r="4.17"/><circle cx="480.0" cy="307.1" r="4.17"/><circle cx="480.3" cy="115.8" r="4.17"/><circle cx="480.5" cy="106.5" r="4.17"/><circle cx="480.8" cy="306.6" r="4.17"/><circle cx="481.0" cy="313.6" r="4.17"/><circle cx="481.3" cy="105.3" r="4.17"/><circle cx="481.6" cy="312.2" r="4.17"/><circle cx="481.8" cy="323.9" r="4.17"/><circle cx="482.1" cy="302.8" r="4.17"/><circle cx="482.4" cy="320.8" r="4.17"/><circle cx="482.6" cy="298.7" r="4.17"/><circle cx="482.9" cy="309.1" r="4.17"/><circle cx="483.2" cy="305.2" r="4.17"/><circle cx="483.5" cy="313.0" r="4.17"/><circle cx="483.8" cy="107.2" r="4.17"/><circle cx="484.1" cy="316.0" r="4.17"/><circle cx="484.4" cy="303.6" r="4.17"/><circle cx="484.7" cy="313.2" r="4.17"/><circle cx="485.0" cy="313.3" r="4.17"/><circle cx="485.3" cy="114.0" r="4.17"/><circle cx="485.6" cy="107.6" r="4.17"/><circle cx="485.9" cy="107.4" r="4.17"/><circle cx="486.2" cy="314.4" r="4.17"/><circle cx="486.5" cy="314.4" r="4.17"/><circle cx="486.8" cy="105.7" r="4.17"/><circle cx="487.1" cy="309.9" r="4.17"/><circle cx="487.4" cy="102.2" r="4.17"/><circle cx="487.7" cy="112.4" r="4.17"/><circle cx="488.0" cy="311.3" r="4.17"/><circle cx="488.3" cy="319.0" r="4.17"/><circle cx="488.6" cy="312.8" r="4.17"/><circle cx="488.9" cy="319.5" r="4.17"/><circle cx="489.2" cy="309.3" r="4.17"/><circle cx="489.5" cy="106.5" r="4.17"/><circle cx="489.8" cy="312.9" r="4.17"/><circle cx="490.1" cy="319.9" r="4.17"/><circle cx="490.4" cy="319.2" r="4.17"/><circle cx="490.7" cy="108.5" r="4.17"/><circle cx="491.0" cy="314.4" r="4.17"/><circle cx="491.2" cy="307.7" r="4.17"/><circle cx="491.5" cy="318.9" r="4.17"/><circle cx="491.8" cy="113.5" r="4.17"/><circle cx="492.1" cy="311.0" r="4.17"/><circle cx="492.4" cy="114.4" r="4.17"/><circle cx="492.7" cy="317.9" r="4.17"/><circle cx="493.0" cy="313.6" r="4.17"/><circle cx="493.3" cy="111.0" r="4.17"/><circle cx="493.5" cy="103.5" r="4.17"/><circle cx="493.8" cy="310.1" r="4.17"/><circle cx="494.1" cy="321.9" r="4.17"/><circle cx="494.4" cy="313.4" r="4.17"/><circle cx="494.7" cy="310.7" r="4.17"/><circle cx="495.0" cy="315.6" r="4.17"/><circle cx="495.3" cy="316.2" r="4.17"/><circle cx="495.6" cy="308.1" r="4.17"/><circle cx="495.9" cy="313.8" r="4.17"/><circle cx="496.2" cy="315.2" r="4.17"/><circle cx="496.5" cy="111.4" r="4.17"/><circle cx="496.8" cy="322.6" r="4.17"/><circle cx="497.1" cy="322.9" r="4.17"/><circle cx="497.4" cy="314.8" r="4.17"/><circle cx="497.7" cy="314.5" r="4.17"/><circle cx="498.0" cy="320.3" r="4.17"/><circle cx="498.3" cy="105.9" r="4.17"/><circle cx="498.6" cy="313.9" r="4.17"/><circle cx="498.9" cy="319.1" r="4.17"/><circle cx="499.2" cy="310.2" r="4.17"/><circle cx="499.5" cy="311.9" r="4.17"/><circle cx="499.8" cy="315.0" r="4.17"/><circle cx="500.1" cy="319.4" r="4.17"/><circle cx="500.4" cy="309.5" r="4.17"/><circle cx="500.7" cy="108.9" r="4.17"/><circle cx="501.0" cy="316.5" r="4.17"/><circle cx="501.3" cy="106.8" r="4.17"/><circle cx="501.6" cy="314.0" r="4.17"/><circle cx="501.9" cy="321.1" r="4.17"/><circle cx="502.2" cy="106.8" r="4.17"/><circle cx="502.5" cy="109.5" r="4.17"/><circle cx="502.8" cy="314.3" r="4.17"/><circle cx="503.1" cy="323.9" r="4.17"/><circle cx="503.4" cy="326.2" r="4.17"/><circle cx="503.7" cy="325.8" r="4.17"/><circle cx="504.0" cy="113.6" r="4.17"/><circle cx="504.2" cy="324.0" r="4.17"/><circle cx="504.5" cy="117.5" r="4.17"/><circle cx="504.8" cy="327.0" r="4.17"/><circle cx="505.1" cy="316.9" r="4.17"/><circle cx="505.4" cy="118.6" r="4.17"/><circle cx="505.7" cy="115.9" r="4.17"/><circle cx="506.0" cy="321.7" r="4.17"/><circle cx="506.2" cy="118.0" r="4.17"/><circle cx="506.5" cy="318.2" r="4.17"/><circle cx="506.8" cy="319.7" r="4.17"/><circle cx="507.1" cy="327.6" r="4.17"/><circle cx="507.4" cy="323.0" r="4.17"/><circle cx="507.6" cy="316.6" r="4.17"/><circle cx="507.9" cy="326.3" r="4.17"/><circle cx="508.2" cy="323.5" r="4.17"/><circle cx="508.5" cy="117.4" r="4.17"/><circle cx="508.7" cy="329.9" r="4.17"/><circle cx="509.0" cy="112.9" r="4.17"/><circle cx="509.3" cy="316.6" r="4.17"/><circle cx="509.5" cy="121.0" r="4.17"/><circle cx="509.8" cy="317.4" r="4.17"/><circle cx="510.1" cy="108.1" r="4.17"/><circle cx="510.4" cy="323.6" r="4.17"/><circle cx="510.6" cy="325.4" r="4.17"/><circle cx="510.9" cy="326.6" r="4.17"/><circle cx="511.2" cy="323.5" r="4.17"/><circle cx="511.4" cy="121.6" r="4.17"/><circle cx="511.7" cy="328.1" r="4.17"/><circle cx="512.0" cy="317.5" r="4.17"/><circle cx="512.2" cy="327.7" r="4.17"/><circle cx="512.5" cy="332.4" r="4.17"/><circle cx="512.8" cy="325.9" r="4.17"/><circle cx="513.0" cy="315.9" r="4.17"/><circle cx="513.3" cy="328.8" r="4.17"/><circle cx="513.5" cy="325.6" r="4.17"/><circle cx="513.8" cy="320.3" r="4.17"/><circle cx="514.1" cy="325.0" r="4.17"/><circle cx="514.3" cy="130.0" r="4.17"/><circle cx="514.6" cy="318.6" r="4.17"/><circle cx="514.9" cy="327.6" r="4.17"/><circle cx="515.1" cy="326.1" r="4.17"/><circle cx="515.4" cy="324.5" r="4.17"/><circle cx="515.6" cy="123.0" r="4.17"/><circle cx="515.9" cy="324.8" r="4.17"/><circle cx="516.1" cy="325.1" r="4.17"/><circle cx="516.4" cy="324.0" r="4.17"/><circle cx="516.7" cy="319.4" r="4.17"/><circle cx="516.9" cy="322.4" r="4.17"/><circle cx="517.2" cy="124.0" r="4.17"/><circle cx="517.4" cy="114.5" r="4.17"/><circle cx="517.7" cy="323.8" r="4.17"/><circle cx="517.9" cy="125.5" r="4.17"/><circle cx="518.2" cy="320.8" r="4.17"/><circle cx="518.4" cy="327.4" r="4.17"/><circle cx="518.7" cy="331.8" r="4.17"/><circle cx="519.0" cy="332.2" r="4.17"/><circle cx="519.2" cy="125.5" r="4.17"/><circle cx="519.5" cy="327.7" r="4.17"/><circle cx="519.7" cy="328.3" r="4.17"/><circle cx="520.0" cy="321.7" r="4.17"/><circle cx="520.2" cy="126.2" r="4.17"/><circle cx="520.5" cy="332.1" r="4.17"/><circle cx="520.7" cy="322.8" r="4.17"/><circle cx="521.0" cy="124.4" r="4.17"/><circle cx="521.2" cy="329.7" r="4.17"/><circle cx="521.5" cy="328.1" r="4.17"/><circle cx="521.7" cy="333.4" r="4.17"/><circle cx="522.0" cy="332.6" r="4.17"/><circle cx="522.2" cy="328.5" r="4.17"/><circle cx="522.4" cy="336.3" r="4.17"/><circle cx="522.7" cy="333.7" r="4.17"/><circle cx="522.9" cy="330.9" r="4.17"/><circle cx="523.2" cy="333.4" r="4.17"/><circle cx="523.4" cy="330.0" r="4.17"/><circle cx="523.6" cy="127.2" r="4.17"/><circle cx="523.9" cy="321.5" r="4.17"/><circle cx="524.1" cy="330.5" r="4.17"/><circle cx="524.3" cy="333.7" r="4.17"/><circle cx="524.6" cy="330.3" r="4.17"/><circle cx="524.8" cy="322.4" r="4.17"/><circle cx="525.0" cy="323.6" r="4.17"/><circle cx="525.3" cy="328.1" r="4.17"/><circle cx="525.5" cy="328.6" r="4.17"/><circle cx="525.7" cy="137.7" r="4.17"/><circle cx="525.9" cy="330.6" r="4.17"/><circle cx="526.2" cy="332.1" r="4.17"/><circle cx="526.4" cy="127.3" r="4.17"/><circle cx="526.6" cy="328.3" r="4.17"/><circle cx="526.8" cy="130.1" r="4.17"/><circle cx="527.1" cy="331.9" r="4.17"/><circle cx="527.3" cy="332.4" r="4.17"/><circle cx="527.5" cy="324.6" r="4.17"/><circle cx="527.7" cy="123.3" r="4.17"/><circle cx="528.0" cy="326.7" r="4.17"/><circle cx="528.2" cy="333.4" r="4.17"/><circle cx="528.4" cy="133.7" r="4.17"/><circle cx="528.6" cy="329.0" r="4.17"/><circle cx="528.8" cy="329.2" r="4.17"/><circle cx="529.1" cy="333.9" r="4.17"/><circle cx="529.3" cy="331.5" r="4.17"/><circle cx="529.5" cy="327.0" r="4.17"/><circle cx="529.7" cy="325.2" r="4.17"/><circle cx="530.0" cy="330.4" r="4.17"/><circle cx="530.2" cy="333.9" r="4.17"/><circle cx="530.4" cy="330.7" r="4.17"/><circle cx="530.6" cy="141.9" r="4.17"/><circle cx="530.9" cy="328.0" r="4.17"/><circle cx="531.1" cy="336.9" r="4.17"/><circle cx="531.3" cy="137.2" r="4.17"/><circle cx="531.5" cy="128.3" r="4.17"/><circle cx="531.8" cy="130.5" r="4.17"/><circle cx="532.0" cy="337.0" r="4.17"/><circle cx="532.2" cy="330.3" r="4.17"/><circle cx="532.5" cy="329.0" r="4.17"/><circle cx="532.7" cy="134.6" r="4.17"/><circle cx="532.9" cy="339.6" r="4.17"/><circle cx="533.2" cy="146.8" r="4.17"/><circle cx="533.4" cy="333.5" r="4.17"/><circle cx="533.7" cy="338.9" r="4.17"/><circle cx="533.9" cy="335.5" r="4.17"/><circle cx="534.1" cy="331.8" r="4.17"/><circle cx="534.4" cy="144.5" r="4.17"/><circle cx="534.6" cy="332.9" r="4.17"/><circle cx="534.9" cy="131.9" r="4.17"/><circle cx="535.2" cy="342.6" r="4.17"/><circle cx="535.4" cy="136.2" r="4.17"/><circle cx="535.7" cy="133.9" r="4.17"/><circle cx="535.9" cy="335.9" r="4.17"/><circle cx="536.2" cy="340.7" r="4.17"/><circle cx="536.5" cy="143.3" r="4.17"/><circle cx="536.7" cy="335.7" r="4.17"/><circle cx="537.0" cy="341.5" r="4.17"/><circle cx="537.3" cy="341.8" r="4.17"/><circle cx="537.5" cy="339.1" r="4.17"/><circle cx="537.8" cy="337.4" r="4.17"/><circle cx="538.1" cy="337.5" r="4.17"/><circle cx="538.4" cy="340.7" r="4.17"/><circle cx="538.7" cy="145.7" r="4.17"/><circle cx="539.0" cy="336.8" r="4.17"/><circle cx="539.3" cy="341.0" r="4.17"/><circle cx="539.6" cy="147.6" r="4.17"/><circle cx="539.9" cy="339.9" r="4.17"/><circle cx="540.2" cy="342.8" r="4.17"/><circle cx="540.5" cy="340.2" r="4.17"/><circle cx="540.8" cy="143.7" r="4.17"/><circle cx="541.1" cy="341.8" r="4.17"/><circle cx="541.5" cy="343.4" r="4.17"/><circle cx="541.8" cy="340.8" r="4.17"/><circle cx="542.1" cy="344.7" r="4.17"/><circle cx="542.4" cy="344.4" r="4.17"/><circle cx="542.7" cy="343.6" r="4.17"/><circle cx="543.1" cy="342.1" r="4.17"/><circle cx="543.4" cy="345.8" r="4.17"/><circle cx="543.7" cy="349.5" r="4.17"/><circle cx="544.0" cy="149.4" r="4.17"/><circle cx="544.4" cy="345.5" r="4.17"/><circle cx="544.7" cy="154.4" r="4.17"/><circle cx="545.0" cy="347.2" r="4.17"/><circle cx="545.3" cy="348.5" r="4.17"/><circle cx="545.7" cy="349.2" r="4.17"/><circle cx="546.0" cy="141.0" r="4.17"/><circle cx="546.3" cy="347.6" r="4.17"/><circle cx="546.7" cy="347.8" r="4.17"/><circle cx="547.0" cy="348.0" r="4.17"/><circle cx="547.3" cy="352.1" r="4.17"/><circle cx="547.6" cy="351.8" r="4.17"/><circle cx="547.9" cy="152.2" r="4.17"/><circle cx="548.3" cy="353.2" r="4.17"/><circle cx="548.6" cy="353.6" r="4.17"/><circle cx="548.9" cy="355.7" r="4.17"/><circle cx="549.2" cy="353.1" r="4.17"/><circle cx="549.5" cy="352.2" r="4.17"/><circle cx="549.8" cy="355.1" r="4.17"/><circle cx="550.1" cy="352.1" r="4.17"/><circle cx="550.4" cy="357.6" r="4.17"/><circle cx="550.7" cy="353.2" r="4.17"/><circle cx="551.0" cy="353.2" r="4.17"/><circle cx="551.3" cy="150.0" r="4.17"/><circle cx="551.6" cy="150.0" r="4.17"/><circle cx="551.9" cy="157.1" r="4.17"/><circle cx="552.2" cy="165.6" r="4.17"/><circle cx="552.5" cy="360.3" r="4.17"/><circle cx="552.9" cy="154.2" r="4.17"/><circle cx="553.2" cy="162.2" r="4.17"/><circle cx="553.5" cy="362.6" r="4.17"/><circle cx="553.8" cy="358.1" r="4.17"/><circle cx="554.1" cy="358.3" r="4.17"/><circle cx="554.5" cy="361.3" r="4.17"/><circle cx="554.8" cy="156.7" r="4.17"/><circle cx="555.2" cy="359.5" r="4.17"/><circle cx="555.5" cy="160.5" r="4.17"/><circle cx="555.9" cy="361.1" r="4.17"/><circle cx="556.3" cy="168.0" r="4.17"/><circle cx="556.6" cy="162.7" r="4.17"/><circle cx="557.0" cy="361.0" r="4.17"/><circle cx="365.3" cy="74.8" r="4.17"/><circle cx="365.3" cy="80.5" r="4.17"/><circle cx="365.3" cy="80.5" r="4.17"/><circle cx="365.3" cy="79.2" r="4.17"/><circle cx="376.0" cy="84.0" r="4.17"/><circle cx="402.9" cy="92.0" r="4.17"/><circle cx="421.1" cy="92.5" r="4.17"/><circle cx="431.7" cy="93.6" r="4.17"/><circle cx="435.7" cy="96.0" r="4.17"/><circle cx="441.4" cy="100.0" r="4.17"/><circle cx="460.2" cy="101.9" r="4.17"/><circle cx="461.1" cy="108.3" r="4.17"/><circle cx="466.0" cy="110.8" r="4.17"/><circle cx="483.8" cy="112.0" r="4.17"/><circle cx="493.3" cy="114.6" r="4.17"/><circle cx="534.4" cy="143.3" r="4.17"/><circle cx="419.2" cy="71.4" r="4.17"/><circle cx="428.9" cy="74.0" r="4.17"/><circle cx="439.1" cy="78.2" r="4.17"/><circle cx="450.9" cy="81.0" r="4.17"/><circle cx="463.3" cy="86.7" r="4.17"/><circle cx="468.0" cy="89.0" r="4.17"/><circle cx="478.6" cy="92.4" r="4.17"/><circle cx="365.3" cy="64.0" r="4.17"/><circle cx="365.3" cy="64.0" r="4.17"/><circle cx="365.3" cy="64.0" r="4.17"/><circle cx="365.3" cy="70.3" r="4.17"/><circle cx="365.3" cy="64.0" r="4.17"/><circle cx="365.3" cy="64.0" r="4.17"/><circle cx="365.3" cy="70.3" r="4.17"/><circle cx="365.3" cy="69.0" r="4.17"/><circle cx="376.0" cy="294.4" r="4.17"/><circle cx="384.4" cy="297.0" r="4.17"/><circle cx="393.1" cy="298.3" r="4.17"/><circle cx="407.9" cy="298.3" r="4.17"/><circle cx="443.3" cy="308.3" r="4.17"/><circle cx="458.1" cy="313.0" r="4.17"/><circle cx="465.4" cy="317.0" r="4.17"/><circle cx="504.5" cy="305.3" r="4.17"/><circle cx="523.5" cy="314.0" r="4.17"/><circle cx="532.7" cy="323.0" r="4.17"/><circle cx="578.3" cy="141.8" r="4.17"/><circle cx="576.1" cy="148.4" r="4.17"/><circle cx="586.4" cy="155.0" r="4.17"/><circle cx="586.4" cy="155.5" r="4.17"/><circle cx="601.1" cy="162.4" r="4.17"/><circle cx="597.4" cy="172.0" r="4.17"/><circle cx="597.4" cy="183.0" r="4.17"/><circle cx="608.5" cy="187.4" r="4.17"/><circle cx="567.2" cy="147.7" r="4.17"/><circle cx="551.8" cy="157.2" r="4.17"/><circle cx="560.6" cy="164.6" r="4.17"/><circle cx="568.0" cy="158.7" r="4.17"/><circle cx="482.2" cy="300.0" r="4.17"/><circle cx="495.6" cy="305.6" r="4.17"/><circle cx="514.4" cy="314.4" r="4.17"/><circle cx="526.7" cy="322.2" r="4.17"/><circle cx="502.2" cy="330.0" r="4.17"/><circle cx="507.8" cy="335.6" r="4.17"/><circle cx="524.4" cy="338.9" r="4.17"/><circle cx="524.4" cy="343.3" r="4.17"/><circle cx="533.3" cy="346.7" r="4.17"/><circle cx="545.6" cy="340.0" r="4.17"/><circle cx="551.1" cy="345.6" r="4.17"/><circle cx="553.3" cy="356.7" r="4.17"/><circle cx="551.0" cy="357.8" r="4.17"/><circle cx="566.7" cy="355.6" r="4.17"/><circle cx="576.0" cy="357.8" r="4.17"/><circle cx="576.0" cy="364.4" r="4.17"/><circle cx="597.3" cy="389.3" r="4.17"/><circle cx="485.6" cy="323.3" r="4.17"/><circle cx="462.5" cy="87.6" r="4.17"/><circle cx="468.9" cy="90.2" r="4.17"/><circle cx="480.3" cy="92.7" r="4.17"/><circle cx="463.8" cy="109.2" r="4.17"/><circle cx="471.4" cy="106.7" r="4.17"/><circle cx="484.0" cy="111.7" r="4.17"/><circle cx="493.0" cy="102.9" r="4.17"/><circle cx="503.2" cy="105.4" r="4.17"/><circle cx="509.5" cy="108.0" r="4.17"/><circle cx="518.4" cy="110.5" r="4.17"/><circle cx="522.2" cy="113.0" r="4.17"/><circle cx="531.1" cy="118.0" r="4.17"/><circle cx="495.6" cy="115.6" r="4.17"/><circle cx="504.4" cy="123.2" r="4.17"/><circle cx="517.1" cy="130.8" r="4.17"/><circle cx="524.8" cy="132.0" r="4.17"/><circle cx="536.2" cy="127.0" r="4.17"/><circle cx="541.3" cy="128.3" r="4.17"/><circle cx="533.7" cy="142.2" r="4.17"/><circle cx="547.6" cy="139.7" r="4.17"/><circle cx="551.4" cy="138.4" r="4.17"/><circle cx="557.8" cy="144.8" r="4.17"/><circle cx="566.7" cy="147.3" r="4.17"/><circle cx="575.6" cy="148.6" r="4.17"/><circle cx="585.7" cy="154.9" r="4.17"/><circle cx="552.7" cy="157.5" r="4.17"/><circle cx="561.6" cy="163.8" r="4.17"/><circle cx="567.9" cy="158.7" r="4.17"/></g>
<path d="M364.5 252.6 L376.0 248.7 L384.4 245.8 L393.1 242.9 L401.0 240.2 L402.7 239.9 L404.5 239.6 L406.2 239.4 L408.0 239.2 L409.7 238.9 L411.5 238.7 L413.2 238.5 L414.9 238.3 L416.7 238.1 L418.4 237.9 L420.2 237.7 L421.9 237.5 L423.7 237.3 L425.4 237.1 L427.2 236.9 L428.9 236.7 L430.6 236.5 L432.4 236.4 L434.1 236.3 L435.9 236.1 L437.6 236.0 L439.4 235.9 L441.1 235.8 L442.8 235.7 L444.6 235.6 L446.3 235.4 L448.1 235.3 L449.8 235.2 L451.6 235.0 L453.3 234.9 L455.1 234.7 L456.8 234.5 L458.5 234.3 L460.3 234.0 L462.0 233.7 L463.8 233.4 L465.5 233.1 L467.3 232.8 L469.0 232.5 L470.7 232.2 L472.5 231.9 L474.2 231.6 L476.0 231.4 L477.7 231.2 L479.5 230.9 L481.2 230.7 L483.0 230.6 L484.7 230.4 L486.4 230.2 L488.2 230.0 L489.9 229.8 L491.7 229.7 L493.4 229.5 L495.2 229.2 L496.9 229.0 L498.6 228.8 L500.4 228.5 L502.1 228.3 L503.9 228.0 L505.6 227.7 L507.4 227.3 L509.1 227.0 L510.9 226.6 L512.6 226.3 L514.3 225.9 L516.1 225.5 L517.8 225.1 L519.6 224.7 L521.3 224.3 L523.1 223.8 L524.8 223.4 L526.5 223.0 L528.3 222.6 L530.0 222.1 L531.8 221.7 L533.5 221.3 L535.3 220.9 L537.0 220.5 L538.8 220.1 L540.5 219.7 L542.2 219.3 L544.0 218.9 L545.7 218.5 L547.5 218.1 L549.2 217.7 L551.0 217.4 L552.7 217.0 L554.4 216.6 L556.2 216.2 L557.9 215.8 L559.7 215.4 L561.4 215.0 L563.2 214.6 L564.9 214.2 L566.7 213.9 L568.4 213.5 L570.1 213.1 L571.9 212.7 L573.6 212.3 L575.4 211.9 L577.1 211.5 L578.9 211.1 L580.6 210.7 L582.3 210.3 L584.1 209.9 L585.8 209.5 L587.6 209.1 L589.3 208.8 L591.1 208.4 L592.8 208.0 L594.6 207.6 L596.3 207.2 L598.0 206.8 L599.8 206.4 L601.5 206.0 L603.3 205.6 L605.0 205.2 L606.8 204.8 L608.5 204.4" stroke="#000" stroke-width="3.0" fill="none"/><g stroke="#000" stroke-opacity="0.3" stroke-width="2.0" fill="none"><path d="M364.5 245.6 L376.0 241.4 L384.4 238.3 L393.1 235.1 L401.0 232.2 L402.7 231.9 L404.5 231.7 L406.2 231.6 L408.0 231.5 L409.7 231.4 L411.5 231.4 L413.2 231.4 L414.9 231.5 L416.7 231.5 L418.4 231.6 L420.2 231.6 L421.9 231.7 L423.7 231.7 L425.4 231.8 L427.2 231.9 L428.9 231.9 L430.6 232.0 L432.4 232.0 L434.1 232.0 L435.9 232.0 L437.6 232.0 L439.4 231.9 L441.1 231.8 L442.8 231.6 L444.6 231.5 L446.3 231.3 L448.1 231.2 L449.8 231.0 L451.6 230.7 L453.3 230.5 L455.1 230.2 L456.8 229.9 L458.5 229.6 L460.3 229.2 L462.0 228.8 L463.8 228.3 L465.5 227.9 L467.3 227.4 L469.0 227.0 L470.7 226.5 L472.5 226.1 L474.2 225.7 L476.0 225.3 L477.7 224.9 L479.5 224.5 L481.2 224.2 L483.0 223.8 L484.7 223.5 L486.4 223.2 L488.2 222.9 L489.9 222.5 L491.7 222.2 L493.4 221.9 L495.2 221.6 L496.9 221.2 L498.6 220.9 L500.4 220.5 L502.1 220.2 L503.9 219.8 L505.6 219.4 L507.4 219.0 L509.1 218.5 L510.9 218.1 L512.6 217.7 L514.3 217.2 L516.1 216.7 L517.8 216.3 L519.6 215.8 L521.3 215.3 L523.1 214.8 L524.8 214.3 L526.5 213.8 L528.3 213.3 L530.0 212.8 L531.8 212.2 L533.5 211.7 L535.3 211.2 L537.0 210.7 L538.8 210.2 L540.5 209.7 L542.2 209.1 L544.0 208.6 L545.7 208.0 L547.5 207.5 L549.2 206.9 L551.0 206.3 L552.7 205.7 L554.4 205.1 L556.2 204.5 L557.9 203.9 L559.7 203.2 L561.4 202.6 L563.2 201.9 L564.9 201.3 L566.7 200.6 L568.4 199.9 L570.1 199.2 L571.9 198.5 L573.6 197.8 L575.4 197.0 L577.1 196.3 L578.9 195.6 L580.6 194.8 L582.3 194.1 L584.1 193.3 L585.8 192.5 L587.6 191.7 L589.3 190.9 L591.1 190.1 L592.8 189.3 L594.6 188.5 L596.3 187.7 L598.0 186.9 L599.8 186.1 L601.5 185.2 L603.3 184.4 L605.0 183.5 L606.8 182.7 L608.5 181.8"/><path d="M364.5 247.6 L376.0 243.1 L384.4 239.7 L393.1 236.3 L401.0 233.2 L402.7 232.9 L404.5 232.7 L406.2 232.5 L408.0 232.3 L409.7 232.2 L411.5 232.1 L413.2 232.0 L414.9 231.9 L416.7 231.8 L418.4 231.7 L420.2 231.6 L421.9 231.6 L423.7 231.5 L425.4 231.4 L427.2 231.4 L428.9 231.3 L430.6 231.3 L432.4 231.2 L434.1 231.1 L435.9 231.1 L437.6 231.0 L439.4 230.9 L441.1 230.8 L442.8 230.7 L444.6 230.6 L446.3 230.4 L448.1 230.3 L449.8 230.2 L451.6 230.0 L453.3 229.9 L455.1 229.7 L456.8 229.5 L458.5 229.3 L460.3 229.0 L462.0 228.7 L463.8 228.4 L465.5 228.1 L467.3 227.8 L469.0 227.5 L470.7 227.2 L472.5 226.9 L474.2 226.6 L476.0 226.4 L477.7 226.2 L479.5 225.9 L481.2 225.7 L483.0 225.6 L484.7 225.4 L486.4 225.2 L488.2 225.0 L489.9 224.8 L491.7 224.7 L493.4 224.5 L495.2 224.2 L496.9 224.0 L498.6 223.8 L500.4 223.5 L502.1 223.3 L503.9 222.9 L505.6 222.6 L507.4 222.2 L509.1 221.8 L510.9 221.4 L512.6 220.9 L514.3 220.4 L516.1 220.0 L517.8 219.4 L519.6 218.9 L521.3 218.4 L523.1 217.9 L524.8 217.3 L526.5 216.8 L528.3 216.3 L530.0 215.7 L531.8 215.2 L533.5 214.7 L535.3 214.1 L537.0 213.6 L538.8 213.1 L540.5 212.7 L542.2 212.2 L544.0 211.7 L545.7 211.3 L547.5 210.8 L549.2 210.3 L551.0 209.9 L552.7 209.4 L554.4 208.9 L556.2 208.4 L557.9 208.0 L559.7 207.5 L561.4 207.0 L563.2 206.6 L564.9 206.1 L566.7 205.6 L568.4 205.2 L570.1 204.7 L571.9 204.2 L573.6 203.8 L575.4 203.3 L577.1 202.8 L578.9 202.4 L580.6 201.9 L582.3 201.4 L584.1 200.9 L585.8 200.5 L587.6 200.0 L589.3 199.5 L591.1 199.1 L592.8 198.6 L594.6 198.1 L596.3 197.7 L598.0 197.2 L599.8 196.7 L601.5 196.3 L603.3 195.8 L605.0 195.3 L606.8 194.9 L608.5 194.4"/><path d="M364.5 248.6 L376.0 244.1 L384.4 240.7 L393.1 237.3 L401.0 234.2 L402.7 233.9 L404.5 233.7 L406.2 233.5 L408.0 233.4 L409.7 233.3 L411.5 233.3 L413.2 233.2 L414.9 233.2 L416.7 233.2 L418.4 233.1 L420.2 233.1 L421.9 233.1 L423.7 233.1 L425.4 233.1 L427.2 233.1 L428.9 233.1 L430.6 233.1 L432.4 233.1 L434.1 233.1 L435.9 233.0 L437.6 233.0 L439.4 232.9 L441.1 232.8 L442.8 232.7 L444.6 232.6 L446.3 232.4 L448.1 232.3 L449.8 232.2 L451.6 232.0 L453.3 231.9 L455.1 231.7 L456.8 231.5 L458.5 231.3 L460.3 231.0 L462.0 230.7 L463.8 230.4 L465.5 230.1 L467.3 229.8 L469.0 229.5 L470.7 229.2 L472.5 228.9 L474.2 228.6 L476.0 228.4 L477.7 228.2 L479.5 227.9 L481.2 227.7 L483.0 227.6 L484.7 227.4 L486.4 227.2 L488.2 227.0 L489.9 226.8 L491.7 226.7 L493.4 226.5 L495.2 226.2 L496.9 226.0 L498.6 225.8 L500.4 225.5 L502.1 225.3 L503.9 225.0 L505.6 224.6 L507.4 224.3 L509.1 223.9 L510.9 223.5 L512.6 223.1 L514.3 222.7 L516.1 222.2 L517.8 221.8 L519.6 221.3 L521.3 220.9 L523.1 220.4 L524.8 219.9 L526.5 219.4 L528.3 218.9 L530.0 218.5 L531.8 218.0 L533.5 217.5 L535.3 217.0 L537.0 216.6 L538.8 216.1 L540.5 215.7 L542.2 215.2 L544.0 214.8 L545.7 214.4 L547.5 213.9 L549.2 213.5 L551.0 213.0 L552.7 212.6 L554.4 212.1 L556.2 211.7 L557.9 211.2 L559.7 210.8 L561.4 210.4 L563.2 209.9 L564.9 209.5 L566.7 209.0 L568.4 208.5 L570.1 208.1 L571.9 207.6 L573.6 207.2 L575.4 206.7 L577.1 206.3 L578.9 205.8 L580.6 205.4 L582.3 204.9 L584.1 204.4 L585.8 204.0 L587.6 203.5 L589.3 203.1 L591.1 202.6 L592.8 202.1 L594.6 201.7 L596.3 201.2 L598.0 200.7 L599.8 200.3 L601.5 199.8 L603.3 199.3 L605.0 198.8 L606.8 198.4 L608.5 197.9"/><path d="M364.5 256.6 L376.0 251.7 L384.4 248.2 L393.1 244.5 L401.0 241.2 L402.7 240.7 L404.5 240.3 L406.2 239.9 L408.0 239.5 L409.7 239.1 L411.5 238.7 L413.2 238.3 L414.9 237.9 L416.7 237.5 L418.4 237.1 L420.2 236.7 L421.9 236.3 L423.7 235.9 L425.4 235.5 L427.2 235.1 L428.9 234.8 L430.6 234.4 L432.4 234.1 L434.1 233.8 L435.9 233.5 L437.6 233.2 L439.4 232.9 L441.1 232.7 L442.8 232.4 L444.6 232.2 L446.3 231.9 L448.1 231.6 L449.8 231.3 L451.6 231.0 L453.3 230.7 L455.1 230.4 L456.8 230.0 L458.5 229.6 L460.3 229.2 L462.0 228.8 L463.8 228.3 L465.5 227.8 L467.3 227.4 L469.0 226.9 L470.7 226.5 L472.5 226.1 L474.2 225.7 L476.0 225.3 L477.7 225.0 L479.5 224.7 L481.2 224.3 L483.0 224.1 L484.7 223.8 L486.4 223.5 L488.2 223.3 L489.9 223.0 L491.7 222.8 L493.4 222.5 L495.2 222.3 L496.9 222.0 L498.6 221.8 L500.4 221.5 L502.1 221.3 L503.9 221.0 L505.6 220.8 L507.4 220.5 L509.1 220.2 L510.9 220.0 L512.6 219.7 L514.3 219.5 L516.1 219.2 L517.8 219.0 L519.6 218.7 L521.3 218.4 L523.1 218.2 L524.8 217.9 L526.5 217.7 L528.3 217.4 L530.0 217.2 L531.8 216.9 L533.5 216.7 L535.3 216.4 L537.0 216.2 L538.8 216.0 L540.5 215.7 L542.2 215.5 L544.0 215.3 L545.7 215.0 L547.5 214.8 L549.2 214.6 L551.0 214.3 L552.7 214.1 L554.4 213.9 L556.2 213.7 L557.9 213.5 L559.7 213.2 L561.4 213.0 L563.2 212.8 L564.9 212.6 L566.7 212.4 L568.4 212.2 L570.1 211.9 L571.9 211.7 L573.6 211.5 L575.4 211.3 L577.1 211.1 L578.9 210.9 L580.6 210.7 L582.3 210.5 L584.1 210.3 L585.8 210.1 L587.6 209.9 L589.3 209.7 L591.1 209.5 L592.8 209.4 L594.6 209.2 L596.3 209.0 L598.0 208.8 L599.8 208.6 L601.5 208.4 L603.3 208.2 L605.0 208.1 L606.8 207.9 L608.5 207.7"/><path d="M364.5 254.6 L376.0 249.7 L384.4 246.2 L393.1 242.5 L401.0 239.2 L402.7 238.9 L404.5 238.8 L406.2 238.7 L408.0 238.7 L409.7 238.8 L411.5 239.0 L413.2 239.1 L414.9 239.4 L416.7 239.6 L418.4 239.8 L420.2 240.1 L421.9 240.3 L423.7 240.6 L425.4 240.9 L427.2 241.1 L428.9 241.3 L430.6 241.5 L432.4 241.7 L434.1 241.8 L435.9 241.9 L437.6 241.9 L439.4 241.9 L441.1 241.8 L442.8 241.7 L444.6 241.5 L446.3 241.4 L448.1 241.3 L449.8 241.1 L451.6 240.9 L453.3 240.7 L455.1 240.5 L456.8 240.3 L458.5 240.0 L460.3 239.7 L462.0 239.4 L463.8 239.0 L465.5 238.7 L467.3 238.3 L469.0 238.0 L470.7 237.6 L472.5 237.3 L474.2 237.0 L476.0 236.7 L477.7 236.5 L479.5 236.2 L481.2 236.0 L483.0 235.8 L484.7 235.5 L486.4 235.3 L488.2 235.1 L489.9 234.9 L491.7 234.7 L493.4 234.5 L495.2 234.3 L496.9 234.0 L498.6 233.8 L500.4 233.5 L502.1 233.3 L503.9 233.0 L505.6 232.7 L507.4 232.3 L509.1 232.0 L510.9 231.6 L512.6 231.3 L514.3 230.9 L516.1 230.5 L517.8 230.1 L519.6 229.7 L521.3 229.3 L523.1 228.8 L524.8 228.4 L526.5 228.0 L528.3 227.6 L530.0 227.1 L531.8 226.7 L533.5 226.3 L535.3 225.9 L537.0 225.5 L538.8 225.1 L540.5 224.7 L542.2 224.3 L544.0 223.9 L545.7 223.5 L547.5 223.2 L549.2 222.8 L551.0 222.4 L552.7 222.0 L554.4 221.7 L556.2 221.3 L557.9 220.9 L559.7 220.6 L561.4 220.2 L563.2 219.9 L564.9 219.5 L566.7 219.2 L568.4 218.8 L570.1 218.4 L571.9 218.1 L573.6 217.7 L575.4 217.4 L577.1 217.1 L578.9 216.7 L580.6 216.4 L582.3 216.0 L584.1 215.7 L585.8 215.3 L587.6 215.0 L589.3 214.7 L591.1 214.3 L592.8 214.0 L594.6 213.7 L596.3 213.3 L598.0 213.0 L599.8 212.7 L601.5 212.3 L603.3 212.0 L605.0 211.7 L606.8 211.3 L608.5 211.0"/><path d="M364.5 253.6 L376.0 248.7 L384.4 245.2 L393.1 241.5 L401.0 238.2 L402.7 237.9 L404.5 237.8 L406.2 237.7 L408.0 237.7 L409.7 237.8 L411.5 238.0 L413.2 238.1 L414.9 238.4 L416.7 238.6 L418.4 238.8 L420.2 239.1 L421.9 239.3 L423.7 239.6 L425.4 239.9 L427.2 240.1 L428.9 240.3 L430.6 240.5 L432.4 240.7 L434.1 240.8 L435.9 240.9 L437.6 240.9 L439.4 240.9 L441.1 240.8 L442.8 240.7 L444.6 240.5 L446.3 240.4 L448.1 240.3 L449.8 240.1 L451.6 239.9 L453.3 239.7 L455.1 239.5 L456.8 239.3 L458.5 239.0 L460.3 238.7 L462.0 238.4 L463.8 238.0 L465.5 237.7 L467.3 237.3 L469.0 237.0 L470.7 236.6 L472.5 236.3 L474.2 236.0 L476.0 235.7 L477.7 235.5 L479.5 235.2 L481.2 235.0 L483.0 234.8 L484.7 234.5 L486.4 234.3 L488.2 234.1 L489.9 233.9 L491.7 233.7 L493.4 233.5 L495.2 233.3 L496.9 233.0 L498.6 232.8 L500.4 232.5 L502.1 232.3 L503.9 232.0 L505.6 231.8 L507.4 231.5 L509.1 231.3 L510.9 231.0 L512.6 230.7 L514.3 230.5 L516.1 230.2 L517.8 230.0 L519.6 229.7 L521.3 229.5 L523.1 229.2 L524.8 229.0 L526.5 228.7 L528.3 228.5 L530.0 228.2 L531.8 228.0 L533.5 227.7 L535.3 227.5 L537.0 227.2 L538.8 227.0 L540.5 226.7 L542.2 226.5 L544.0 226.2 L545.7 226.0 L547.5 225.7 L549.2 225.5 L551.0 225.2 L552.7 225.0 L554.4 224.7 L556.2 224.5 L557.9 224.2 L559.7 224.0 L561.4 223.8 L563.2 223.5 L564.9 223.3 L566.7 223.0 L568.4 222.8 L570.1 222.5 L571.9 222.3 L573.6 222.0 L575.4 221.8 L577.1 221.5 L578.9 221.3 L580.6 221.1 L582.3 220.8 L584.1 220.6 L585.8 220.3 L587.6 220.1 L589.3 219.8 L591.1 219.6 L592.8 219.4 L594.6 219.1 L596.3 218.9 L598.0 218.6 L599.8 218.4 L601.5 218.2 L603.3 217.9 L605.0 217.7 L606.8 217.4 L608.5 217.2"/><path d="M364.5 257.6 L376.0 252.1 L384.4 248.1 L393.1 244.0 L401.0 240.2 L402.7 239.9 L404.5 239.8 L406.2 239.7 L408.0 239.7 L409.7 239.8 L411.5 240.0 L413.2 240.1 L414.9 240.4 L416.7 240.6 L418.4 240.8 L420.2 241.1 L421.9 241.3 L423.7 241.6 L425.4 241.9 L427.2 242.1 L428.9 242.3 L430.6 242.5 L432.4 242.7 L434.1 242.8 L435.9 242.9 L437.6 242.9 L439.4 242.9 L441.1 242.8 L442.8 242.7 L444.6 242.5 L446.3 242.4 L448.1 242.3 L449.8 242.1 L451.6 241.9 L453.3 241.7 L455.1 241.5 L456.8 241.3 L458.5 241.0 L460.3 240.7 L462.0 240.4 L463.8 240.0 L465.5 239.7 L467.3 239.3 L469.0 239.0 L470.7 238.6 L472.5 238.3 L474.2 238.0 L476.0 237.7 L477.7 237.5 L479.5 237.2 L481.2 237.0 L483.0 236.8 L484.7 236.5 L486.4 236.3 L488.2 236.1 L489.9 235.9 L491.7 235.7 L493.4 235.5 L495.2 235.3 L496.9 235.0 L498.6 234.8 L500.4 234.5 L502.1 234.3 L503.9 234.0 L505.6 233.7 L507.4 233.4 L509.1 233.1 L510.9 232.8 L512.6 232.5 L514.3 232.2 L516.1 231.9 L517.8 231.6 L519.6 231.3 L521.3 231.0 L523.1 230.7 L524.8 230.4 L526.5 230.1 L528.3 229.7 L530.0 229.4 L531.8 229.1 L533.5 228.8 L535.3 228.6 L537.0 228.3 L538.8 228.0 L540.5 227.7 L542.2 227.5 L544.0 227.2 L545.7 227.0 L547.5 226.7 L549.2 226.5 L551.0 226.2 L552.7 226.0 L554.4 225.8 L556.2 225.6 L557.9 225.3 L559.7 225.1 L561.4 224.9 L563.2 224.7 L564.9 224.5 L566.7 224.3 L568.4 224.1 L570.1 224.0 L571.9 223.8 L573.6 223.6 L575.4 223.4 L577.1 223.3 L578.9 223.1 L580.6 223.0 L582.3 222.8 L584.1 222.7 L585.8 222.5 L587.6 222.4 L589.3 222.3 L591.1 222.1 L592.8 222.0 L594.6 221.9 L596.3 221.7 L598.0 221.6 L599.8 221.5 L601.5 221.4 L603.3 221.3 L605.0 221.2 L606.8 221.1 L608.5 221.0"/><path d="M364.5 252.6 L376.0 247.4 L384.4 243.7 L393.1 239.7 L401.0 236.2 L402.7 235.9 L404.5 235.7 L406.2 235.6 L408.0 235.5 L409.7 235.5 L411.5 235.5 L413.2 235.6 L414.9 235.7 L416.7 235.8 L418.4 235.8 L420.2 236.0 L421.9 236.1 L423.7 236.2 L425.4 236.3 L427.2 236.4 L428.9 236.5 L430.6 236.6 L432.4 236.7 L434.1 236.8 L435.9 236.9 L437.6 236.9 L439.4 236.9 L441.1 236.8 L442.8 236.7 L444.6 236.7 L446.3 236.6 L448.1 236.5 L449.8 236.4 L451.6 236.3 L453.3 236.2 L455.1 236.0 L456.8 235.8 L458.5 235.6 L460.3 235.4 L462.0 235.1 L463.8 234.8 L465.5 234.5 L467.3 234.2 L469.0 233.9 L470.7 233.7 L472.5 233.4 L474.2 233.1 L476.0 232.9 L477.7 232.7 L479.5 232.5 L481.2 232.4 L483.0 232.2 L484.7 232.0 L486.4 231.9 L488.2 231.7 L489.9 231.6 L491.7 231.4 L493.4 231.3 L495.2 231.1 L496.9 230.9 L498.6 230.8 L500.4 230.6 L502.1 230.4 L503.9 230.2 L505.6 230.0 L507.4 229.9 L509.1 229.8 L510.9 229.7 L512.6 229.6 L514.3 229.5 L516.1 229.5 L517.8 229.4 L519.6 229.3 L521.3 229.3 L523.1 229.3 L524.8 229.2 L526.5 229.2 L528.3 229.1 L530.0 229.1 L531.8 229.1 L533.5 229.0 L535.3 229.0 L537.0 228.9 L538.8 228.8 L540.5 228.8 L542.2 228.7 L544.0 228.6 L545.7 228.6 L547.5 228.5 L549.2 228.4 L551.0 228.3 L552.7 228.3 L554.4 228.2 L556.2 228.1 L557.9 228.1 L559.7 228.0 L561.4 227.9 L563.2 227.9 L564.9 227.8 L566.7 227.7 L568.4 227.7 L570.1 227.6 L571.9 227.5 L573.6 227.5 L575.4 227.4 L577.1 227.3 L578.9 227.3 L580.6 227.2 L582.3 227.1 L584.1 227.1 L585.8 227.0 L587.6 226.9 L589.3 226.9 L591.1 226.8 L592.8 226.7 L594.6 226.7 L596.3 226.6 L598.0 226.6 L599.8 226.5 L601.5 226.4 L603.3 226.4 L605.0 226.3 L606.8 226.3 L608.5 226.2"/><path d="M364.5 255.6 L376.0 251.1 L384.4 247.7 L393.1 244.3 L401.0 241.2 L402.7 240.9 L404.5 240.8 L406.2 240.7 L408.0 240.7 L409.7 240.7 L411.5 240.8 L413.2 240.9 L414.9 241.1 L416.7 241.2 L418.4 241.4 L420.2 241.6 L421.9 241.8 L423.7 242.0 L425.4 242.2 L427.2 242.4 L428.9 242.5 L430.6 242.7 L432.4 242.8 L434.1 242.9 L435.9 242.9 L437.6 242.9 L439.4 242.9 L441.1 242.8 L442.8 242.7 L444.6 242.5 L446.3 242.4 L448.1 242.2 L449.8 242.1 L451.6 241.9 L453.3 241.7 L455.1 241.5 L456.8 241.2 L458.5 240.9 L460.3 240.6 L462.0 240.2 L463.8 239.9 L465.5 239.5 L467.3 239.1 L469.0 238.7 L470.7 238.4 L472.5 238.0 L474.2 237.7 L476.0 237.4 L477.7 237.1 L479.5 236.9 L481.2 236.6 L483.0 236.4 L484.7 236.1 L486.4 235.9 L488.2 235.7 L489.9 235.5 L491.7 235.2 L493.4 235.0 L495.2 234.8 L496.9 234.5 L498.6 234.3 L500.4 234.0 L502.1 233.8 L503.9 233.5 L505.6 233.3 L507.4 233.0 L509.1 232.8 L510.9 232.6 L512.6 232.3 L514.3 232.1 L516.1 231.9 L517.8 231.7 L519.6 231.5 L521.3 231.3 L523.1 231.1 L524.8 230.9 L526.5 230.7 L528.3 230.5 L530.0 230.3 L531.8 230.2 L533.5 230.0 L535.3 229.8 L537.0 229.7 L538.8 229.5 L540.5 229.4 L542.2 229.2 L544.0 229.1 L545.7 229.0 L547.5 228.9 L549.2 228.8 L551.0 228.7 L552.7 228.6 L554.4 228.5 L556.2 228.4 L557.9 228.4 L559.7 228.3 L561.4 228.3 L563.2 228.2 L564.9 228.2 L566.7 228.2 L568.4 228.2 L570.1 228.2 L571.9 228.2 L573.6 228.2 L575.4 228.2 L577.1 228.3 L578.9 228.3 L580.6 228.3 L582.3 228.4 L584.1 228.5 L585.8 228.5 L587.6 228.6 L589.3 228.7 L591.1 228.8 L592.8 228.9 L594.6 229.0 L596.3 229.1 L598.0 229.2 L599.8 229.3 L601.5 229.4"/><path d="M364.5 246.6 L376.0 242.4 L384.4 239.3 L393.1 236.1 L401.0 233.2 L402.7 232.9 L404.5 232.7 L406.2 232.5 L408.0 232.3 L409.7 232.2 L411.5 232.1 L413.2 232.0 L414.9 231.9 L416.7 231.8 L418.4 231.7 L420.2 231.6 L421.9 231.6 L423.7 231.5 L425.4 231.4 L427.2 231.4 L428.9 231.3 L430.6 231.3 L432.4 231.2 L434.1 231.1 L435.9 231.1 L437.6 231.0 L439.4 230.9 L441.1 230.8 L442.8 230.7 L444.6 230.5 L446.3 230.4 L448.1 230.3 L449.8 230.1 L451.6 229.9 L453.3 229.7 L455.1 229.5 L456.8 229.3 L458.5 229.0 L460.3 228.7 L462.0 228.4 L463.8 228.0 L465.5 227.7 L467.3 227.3 L469.0 227.0 L470.7 226.6 L472.5 226.3 L474.2 226.0 L476.0 225.7 L477.7 225.5 L479.5 225.2 L481.2 225.0 L483.0 224.8 L484.7 224.5 L486.4 224.3 L488.2 224.1 L489.9 223.9 L491.7 223.7 L493.4 223.5 L495.2 223.3 L496.9 223.0 L498.6 222.8 L500.4 222.5 L502.1 222.3 L503.9 222.0 L505.6 221.7 L507.4 221.3 L509.1 221.0 L510.9 220.6 L512.6 220.3 L514.3 219.9 L516.1 219.5 L517.8 219.1 L519.6 218.7 L521.3 218.3 L523.1 217.8 L524.8 217.4 L526.5 217.0 L528.3 216.6 L530.0 216.1 L531.8 215.7 L533.5 215.3 L535.3 214.9 L537.0 214.5 L538.8 214.1 L540.5 213.7 L542.2 213.3 L544.0 212.9 L545.7 212.5 L547.5 212.1 L549.2 211.7 L551.0 211.3 L552.7 210.8 L554.4 210.4 L556.2 210.0 L557.9 209.5 L559.7 209.1 L561.4 208.7 L563.2 208.2 L564.9 207.8 L566.7 207.3 L568.4 206.8 L570.1 206.4 L571.9 205.9 L573.6 205.4 L575.4 205.0 L577.1 204.5 L578.9 204.0 L580.6 203.5 L582.3 203.0 L584.1 202.5 L585.8 202.0 L587.6 201.5 L589.3 201.0 L591.1 200.5 L592.8 200.0 L594.6 199.5 L596.3 199.0"/><path d="M364.5 251.6 L376.0 246.4 L384.4 242.7 L393.1 238.7 L401.0 235.2 L402.7 234.9 L404.5 234.8 L406.2 234.7 L408.0 234.7 L409.7 234.8 L411.5 234.9 L413.2 235.1 L414.9 235.2 L416.7 235.5 L418.4 235.7 L420.2 235.9 L421.9 236.2 L423.7 236.4 L425.4 236.7 L427.2 236.9 L428.9 237.1 L430.6 237.4 L432.4 237.5 L434.1 237.7 L435.9 237.8 L437.6 237.9 L439.4 237.9 L441.1 237.8 L442.8 237.8 L444.6 237.7 L446.3 237.6 L448.1 237.6 L449.8 237.5 L451.6 237.4 L453.3 237.3 L455.1 237.1 L456.8 237.0 L458.5 236.8 L460.3 236.5 L462.0 236.3 L463.8 236.0 L465.5 235.7 L467.3 235.5 L469.0 235.2 L470.7 234.9 L472.5 234.7 L474.2 234.4 L476.0 234.2 L477.7 234.0 L479.5 233.8 L481.2 233.6 L483.0 233.5 L484.7 233.3 L486.4 233.1 L488.2 233.0 L489.9 232.8 L491.7 232.6 L493.4 232.4 L495.2 232.2 L496.9 232.0 L498.6 231.8 L500.4 231.5 L502.1 231.3 L503.9 230.9 L505.6 230.6 L507.4 230.2 L509.1 229.7 L510.9 229.3 L512.6 228.8 L514.3 228.3 L516.1 227.7 L517.8 227.2 L519.6 226.6 L521.3 226.1 L523.1 225.5 L524.8 224.9 L526.5 224.3 L528.3 223.7 L530.0 223.1 L531.8 222.5 L533.5 221.9 L535.3 221.3 L537.0 220.7 L538.8 220.2 L540.5 219.6 L542.2 219.1 L544.0 218.6 L545.7 218.0 L547.5 217.5 L549.2 216.9 L551.0 216.4 L552.7 215.8 L554.4 215.3 L556.2 214.7 L557.9 214.2 L559.7 213.6 L561.4 213.1 L563.2 212.5 L564.9 212.0 L566.7 211.4 L568.4 210.8 L570.1 210.3 L571.9 209.7 L573.6 209.1 L575.4 208.6 L577.1 208.0 L578.9 207.4 L580.6 206.9 L582.3 206.3 L584.1 205.7 L585.8 205.1 L587.6 204.5 L589.3 203.9 L591.1 203.4 L592.8 202.8 L594.6 202.2 L596.3 201.6 L598.0 201.0 L599.8 200.4 L601.5 199.8 L603.3 199.2 L605.0 198.6 L606.8 198.0 L608.5 197.4"/><path d="M364.5 252.6 L376.0 247.7 L384.4 244.2 L393.1 240.5 L401.0 237.2 L402.7 236.9 L404.5 236.6 L406.2 236.4 L408.0 236.2 L409.7 236.0 L411.5 235.8 L413.2 235.6 L414.9 235.5 L416.7 235.3 L418.4 235.1 L420.2 235.0 L421.9 234.8 L423.7 234.7 L425.4 234.5 L427.2 234.4 L428.9 234.3 L430.6 234.2 L432.4 234.1 L434.1 234.0 L435.9 234.0 L437.6 233.9 L439.4 233.9 L441.1 233.8 L442.8 233.8 L444.6 233.8 L446.3 233.8 L448.1 233.8 L449.8 233.9 L451.6 233.9 L453.3 233.9 L455.1 234.0 L456.8 234.0 L458.5 234.0 L460.3 233.9 L462.0 233.9 L463.8 233.8 L465.5 233.7 L467.3 233.7 L469.0 233.6 L470.7 233.6 L472.5 233.5 L474.2 233.5 L476.0 233.5 L477.7 233.5 L479.5 233.5 L481.2 233.5 L483.0 233.5 L484.7 233.5 L486.4 233.5 L488.2 233.5 L489.9 233.4 L491.7 233.4 L493.4 233.3 L495.2 233.2 L496.9 233.0 L498.6 232.8 L500.4 232.5 L502.1 232.3 L503.9 231.9 L505.6 231.6 L507.4 231.2 L509.1 230.8 L510.9 230.4 L512.6 230.0 L514.3 229.5 L516.1 229.0 L517.8 228.5 L519.6 228.0 L521.3 227.5 L523.1 227.0 L524.8 226.4 L526.5 225.9 L528.3 225.4 L530.0 224.8 L531.8 224.3 L533.5 223.7 L535.3 223.2 L537.0 222.7 L538.8 222.2 L540.5 221.7 L542.2 221.1 L544.0 220.6 L545.7 220.1 L547.5 219.6 L549.2 219.1 L551.0 218.5 L552.7 218.0 L554.4 217.5 L556.2 216.9 L557.9 216.4 L559.7 215.8 L561.4 215.3 L563.2 214.7 L564.9 214.2 L566.7 213.6 L568.4 213.0 L570.1 212.5 L571.9 211.9 L573.6 211.3 L575.4 210.7 L577.1 210.1 L578.9 209.5 L580.6 208.9 L582.3 208.3 L584.1 207.7 L585.8 207.1 L587.6 206.5 L589.3 205.9 L591.1 205.3 L592.8 204.7 L594.6 204.0 L596.3 203.4 L598.0 202.8 L599.8 202.1 L601.5 201.5 L603.3 200.8 L605.0 200.2 L606.8 199.6 L608.5 198.9"/><path d="M364.5 254.6 L376.0 249.7 L384.4 246.2 L393.1 242.5 L401.0 239.2 L402.7 238.9 L404.5 238.6 L406.2 238.4 L408.0 238.2 L409.7 237.9 L411.5 237.7 L413.2 237.5 L414.9 237.3 L416.7 237.1 L418.4 236.9 L420.2 236.7 L421.9 236.5 L423.7 236.3 L425.4 236.1 L427.2 235.9 L428.9 235.7 L430.6 235.5 L432.4 235.4 L434.1 235.3 L435.9 235.1 L437.6 235.0 L439.4 234.9 L441.1 234.8 L442.8 234.6 L444.6 234.5 L446.3 234.3 L448.1 234.1 L449.8 233.9 L451.6 233.7 L453.3 233.4 L455.1 233.2 L456.8 232.8 L458.5 232.5 L460.3 232.1 L462.0 231.7 L463.8 231.2 L465.5 230.7 L467.3 230.3 L469.0 229.8 L470.7 229.4 L472.5 228.9 L474.2 228.5 L476.0 228.1 L477.7 227.7 L479.5 227.3 L481.2 227.0 L483.0 226.7 L484.7 226.3 L486.4 226.0 L488.2 225.7 L489.9 225.4 L491.7 225.1 L493.4 224.8 L495.2 224.5 L496.9 224.2 L498.6 223.8 L500.4 223.5 L502.1 223.2 L503.9 222.8 L505.6 222.5 L507.4 222.1 L509.1 221.7 L510.9 221.2 L512.6 220.8 L514.3 220.4 L516.1 219.9 L517.8 219.5 L519.6 219.0 L521.3 218.5 L523.1 218.1 L524.8 217.6 L526.5 217.1 L528.3 216.7 L530.0 216.2 L531.8 215.8 L533.5 215.3 L535.3 214.9 L537.0 214.5 L538.8 214.1 L540.5 213.7 L542.2 213.3 L544.0 212.9 L545.7 212.6 L547.5 212.3 L549.2 211.9 L551.0 211.6 L552.7 211.3 L554.4 211.0 L556.2 210.8 L557.9 210.5 L559.7 210.2 L561.4 210.0 L563.2 209.8 L564.9 209.5 L566.7 209.3 L568.4 209.1 L570.1 208.9 L571.9 208.8 L573.6 208.6 L575.4 208.4 L577.1 208.3 L578.9 208.1 L580.6 208.0 L582.3 207.9 L584.1 207.8 L585.8 207.6 L587.6 207.5 L589.3 207.5 L591.1 207.4 L592.8 207.3 L594.6 207.2 L596.3 207.2 L598.0 207.1 L599.8 207.1 L601.5 207.0 L603.3 207.0 L605.0 206.9 L606.8 206.9 L608.5 206.9"/><path d="M364.5 250.6 L376.0 245.4 L384.4 241.7 L393.1 237.7 L401.0 234.2 L402.7 233.9 L404.5 233.8 L406.2 233.8 L408.0 233.8 L409.7 234.0 L411.5 234.1 L413.2 234.4 L414.9 234.6 L416.7 234.9 L418.4 235.2 L420.2 235.6 L421.9 235.9 L423.7 236.2 L425.4 236.5 L427.2 236.8 L428.9 237.1 L430.6 237.4 L432.4 237.6 L434.1 237.8 L435.9 237.9 L437.6 237.9 L439.4 237.9 L441.1 237.8 L442.8 237.7 L444.6 237.5 L446.3 237.4 L448.1 237.2 L449.8 237.0 L451.6 236.8 L453.3 236.6 L455.1 236.3 L456.8 236.0 L458.5 235.7 L460.3 235.4 L462.0 235.0 L463.8 234.5 L465.5 234.1 L467.3 233.7 L469.0 233.2 L470.7 232.8 L472.5 232.4 L474.2 232.0 L476.0 231.6 L477.7 231.2 L479.5 230.9 L481.2 230.5 L483.0 230.2 L484.7 229.8 L486.4 229.5 L488.2 229.1 L489.9 228.8 L491.7 228.4 L493.4 228.1 L495.2 227.7 L496.9 227.3 L498.6 226.9 L500.4 226.5 L502.1 226.0 L503.9 225.5 L505.6 224.9 L507.4 224.3 L509.1 223.7 L510.9 223.0 L512.6 222.3 L514.3 221.6 L516.1 220.8 L517.8 220.0 L519.6 219.3 L521.3 218.5 L523.1 217.8 L524.8 217.0 L526.5 216.3 L528.3 215.6 L530.0 214.9 L531.8 214.2 L533.5 213.6 L535.3 213.1 L537.0 212.6 L538.8 212.1 L540.5 211.7 L542.2 211.3 L544.0 210.9 L545.7 210.6 L547.5 210.3 L549.2 209.9 L551.0 209.6 L552.7 209.3 L554.4 209.0 L556.2 208.8 L557.9 208.5 L559.7 208.3 L561.4 208.1 L563.2 207.9 L564.9 207.7 L566.7 207.5 L568.4 207.3 L570.1 207.2 L571.9 207.0 L573.6 206.9 L575.4 206.8 L577.1 206.7 L578.9 206.7 L580.6 206.6 L582.3 206.6 L584.1 206.6 L585.8 206.6 L587.6 206.6 L589.3 206.7 L591.1 206.7 L592.8 206.8 L594.6 206.9 L596.3 207.0 L598.0 207.2 L599.8 207.3 L601.5 207.5 L603.3 207.7 L605.0 207.9 L606.8 208.1 L608.5 208.4"/><path d="M364.5 251.6 L376.0 247.1 L384.4 243.7 L393.1 240.3 L401.0 237.2 L402.7 236.9 L404.5 236.8 L406.2 236.7 L408.0 236.7 L409.7 236.8 L411.5 237.0 L413.2 237.1 L414.9 237.4 L416.7 237.6 L418.4 237.8 L420.2 238.1 L421.9 238.3 L423.7 238.6 L425.4 238.9 L427.2 239.1 L428.9 239.3 L430.6 239.5 L432.4 239.7 L434.1 239.8 L435.9 239.9 L437.6 239.9 L439.4 239.9 L441.1 239.8 L442.8 239.7 L444.6 239.5 L446.3 239.4 L448.1 239.2 L449.8 239.0 L451.6 238.8 L453.3 238.6 L455.1 238.4 L456.8 238.1 L458.5 237.8 L460.3 237.5 L462.0 237.1 L463.8 236.7 L465.5 236.3 L467.3 235.9 L469.0 235.5 L470.7 235.1 L472.5 234.7 L474.2 234.4 L476.0 234.1 L477.7 233.8 L479.5 233.5 L481.2 233.2 L483.0 233.0 L484.7 232.7 L486.4 232.5 L488.2 232.2 L489.9 232.0 L491.7 231.8 L493.4 231.5 L495.2 231.3 L496.9 231.0 L498.6 230.8 L500.4 230.5 L502.1 230.3 L503.9 230.0 L505.6 229.8 L507.4 229.6 L509.1 229.3 L510.9 229.1 L512.6 228.9 L514.3 228.7 L516.1 228.5 L517.8 228.3 L519.6 228.1 L521.3 227.9 L523.1 227.7 L524.8 227.5 L526.5 227.3 L528.3 227.1 L530.0 226.9 L531.8 226.7 L533.5 226.5 L535.3 226.3 L537.0 226.1 L538.8 225.9 L540.5 225.7 L542.2 225.5 L544.0 225.3 L545.7 225.1 L547.5 224.9 L549.2 224.7 L551.0 224.5 L552.7 224.3 L554.4 224.1 L556.2 223.9 L557.9 223.7 L559.7 223.5 L561.4 223.3 L563.2 223.1 L564.9 222.9 L566.7 222.7 L568.4 222.5 L570.1 222.3 L571.9 222.1 L573.6 221.9 L575.4 221.7 L577.1 221.5 L578.9 221.3 L580.6 221.1 L582.3 220.9 L584.1 220.7 L585.8 220.5 L587.6 220.3 L589.3 220.1 L591.1 219.9 L592.8 219.7 L594.6 219.5 L596.3 219.3 L598.0 219.1 L599.8 218.9 L601.5 218.7 L603.3 218.5 L605.0 218.3 L606.8 218.1 L608.5 217.9"/></g>
<line x1="334.6" y1="240.45" x2="609.2" y2="240.45" stroke="#1f77b4" stroke-width="1.25" stroke-dasharray="5.14 2.22"/>
</g>
<rect x="40.50" y="48.60" width="267.90" height="357.80" fill="none" stroke="#000" stroke-width="1.11"/><g stroke="#000" stroke-width="1.11"><line x1="35.30" y1="88.50" x2="40.50" y2="88.50"/><line x1="35.30" y1="164.50" x2="40.50" y2="164.50"/><line x1="35.30" y1="240.50" x2="40.50" y2="240.50"/><line x1="35.30" y1="316.50" x2="40.50" y2="316.50"/><line x1="35.30" y1="391.50" x2="40.50" y2="391.50"/></g>
<rect x="353.60" y="48.60" width="266.90" height="357.80" fill="none" stroke="#000" stroke-width="1.11"/><g stroke="#000" stroke-width="1.11"><line x1="348.40" y1="88.50" x2="353.60" y2="88.50"/><line x1="348.40" y1="164.50" x2="353.60" y2="164.50"/><line x1="348.40" y1="240.50" x2="353.60" y2="240.50"/><line x1="348.40" y1="316.50" x2="353.60" y2="316.50"/><line x1="348.40" y1="391.50" x2="353.60" y2="391.50"/></g>
<g stroke="#000" stroke-width="1.11"><line x1="52.50" y1="406.40" x2="52.50" y2="411.60"/><line x1="130.50" y1="406.40" x2="130.50" y2="411.60"/><line x1="209.50" y1="406.40" x2="209.50" y2="411.60"/><line x1="287.50" y1="406.40" x2="287.50" y2="411.60"/></g>
<g stroke="#000" stroke-width="1.11"><line x1="397.50" y1="406.40" x2="397.50" y2="411.60"/><line x1="460.50" y1="406.40" x2="460.50" y2="411.60"/><line x1="522.50" y1="406.40" x2="522.50" y2="411.60"/><line x1="585.50" y1="406.40" x2="585.50" y2="411.60"/></g>
<g font-family="Liberation Sans, sans-serif" fill="#000"><text x="314.4" y="24.9" font-size="19.5" text-anchor="middle" textLength="487.0" lengthAdjust="spacingAndGlyphs">Scaled Schoenfeld residuals of 'onlineBackup_Yes'</text><text x="29.9" y="94.0" font-size="13.9" text-anchor="end" textLength="7.4" lengthAdjust="spacingAndGlyphs">4</text><text x="29.9" y="170.0" font-size="13.9" text-anchor="end" textLength="7.4" lengthAdjust="spacingAndGlyphs">2</text><text x="29.9" y="246.0" font-size="13.9" text-anchor="end" textLength="7.4" lengthAdjust="spacingAndGlyphs">0</text><text x="28.5" y="322.0" font-size="13.9" text-anchor="end" textLength="17.6" lengthAdjust="spacingAndGlyphs">−2</text><text x="28.5" y="397.0" font-size="13.9" text-anchor="end" textLength="17.6" lengthAdjust="spacingAndGlyphs">−4</text><text x="343.0" y="94.0" font-size="13.9" text-anchor="end" textLength="7.4" lengthAdjust="spacingAndGlyphs">4</text><text x="343.0" y="170.0" font-size="13.9" text-anchor="end" textLength="7.4" lengthAdjust="spacingAndGlyphs">2</text><text x="343.0" y="246.0" font-size="13.9" text-anchor="end" textLength="7.4" lengthAdjust="spacingAndGlyphs">0</text><text x="341.6" y="322.0" font-size="13.9" text-anchor="end" textLength="17.6" lengthAdjust="spacingAndGlyphs">−2</text><text x="341.6" y="397.0" font-size="13.9" text-anchor="end" textLength="17.6" lengthAdjust="spacingAndGlyphs">−4</text><text x="52.6" y="427.0" font-size="13.9" text-anchor="middle" textLength="8.0" lengthAdjust="spacingAndGlyphs">0</text><text x="130.9" y="427.0" font-size="13.9" text-anchor="middle" textLength="25.0" lengthAdjust="spacingAndGlyphs">500</text><text x="209.2" y="427.0" font-size="13.9" text-anchor="middle" textLength="33.0" lengthAdjust="spacingAndGlyphs">1000</text><text x="287.5" y="427.0" font-size="13.9" text-anchor="middle" textLength="33.0" lengthAdjust="spacingAndGlyphs">1500</text><text x="397.3" y="427.0" font-size="13.9" text-anchor="middle" textLength="20.0" lengthAdjust="spacingAndGlyphs">0.2</text><text x="460.0" y="427.0" font-size="13.9" text-anchor="middle" textLength="20.0" lengthAdjust="spacingAndGlyphs">0.4</text><text x="522.7" y="427.0" font-size="13.9" text-anchor="middle" textLength="20.0" lengthAdjust="spacingAndGlyphs">0.6</text><text x="585.4" y="427.0" font-size="13.9" text-anchor="middle" textLength="20.0" lengthAdjust="spacingAndGlyphs">0.8</text><text x="173.8" y="446.3" font-size="13.9" text-anchor="middle" textLength="157.2" lengthAdjust="spacingAndGlyphs">rank-transformed time</text><text x="173.2" y="462.4" font-size="13.9" text-anchor="middle" textLength="77.2" lengthAdjust="spacingAndGlyphs">(p=0.0000)</text><text x="486.0" y="446.3" font-size="13.9" text-anchor="middle" textLength="147.2" lengthAdjust="spacingAndGlyphs">km-transformed time</text><text x="486.1" y="462.4" font-size="13.9" text-anchor="middle" textLength="77.2" lengthAdjust="spacingAndGlyphs">(p=0.0000)</text></g>
</svg>
</body></html>
